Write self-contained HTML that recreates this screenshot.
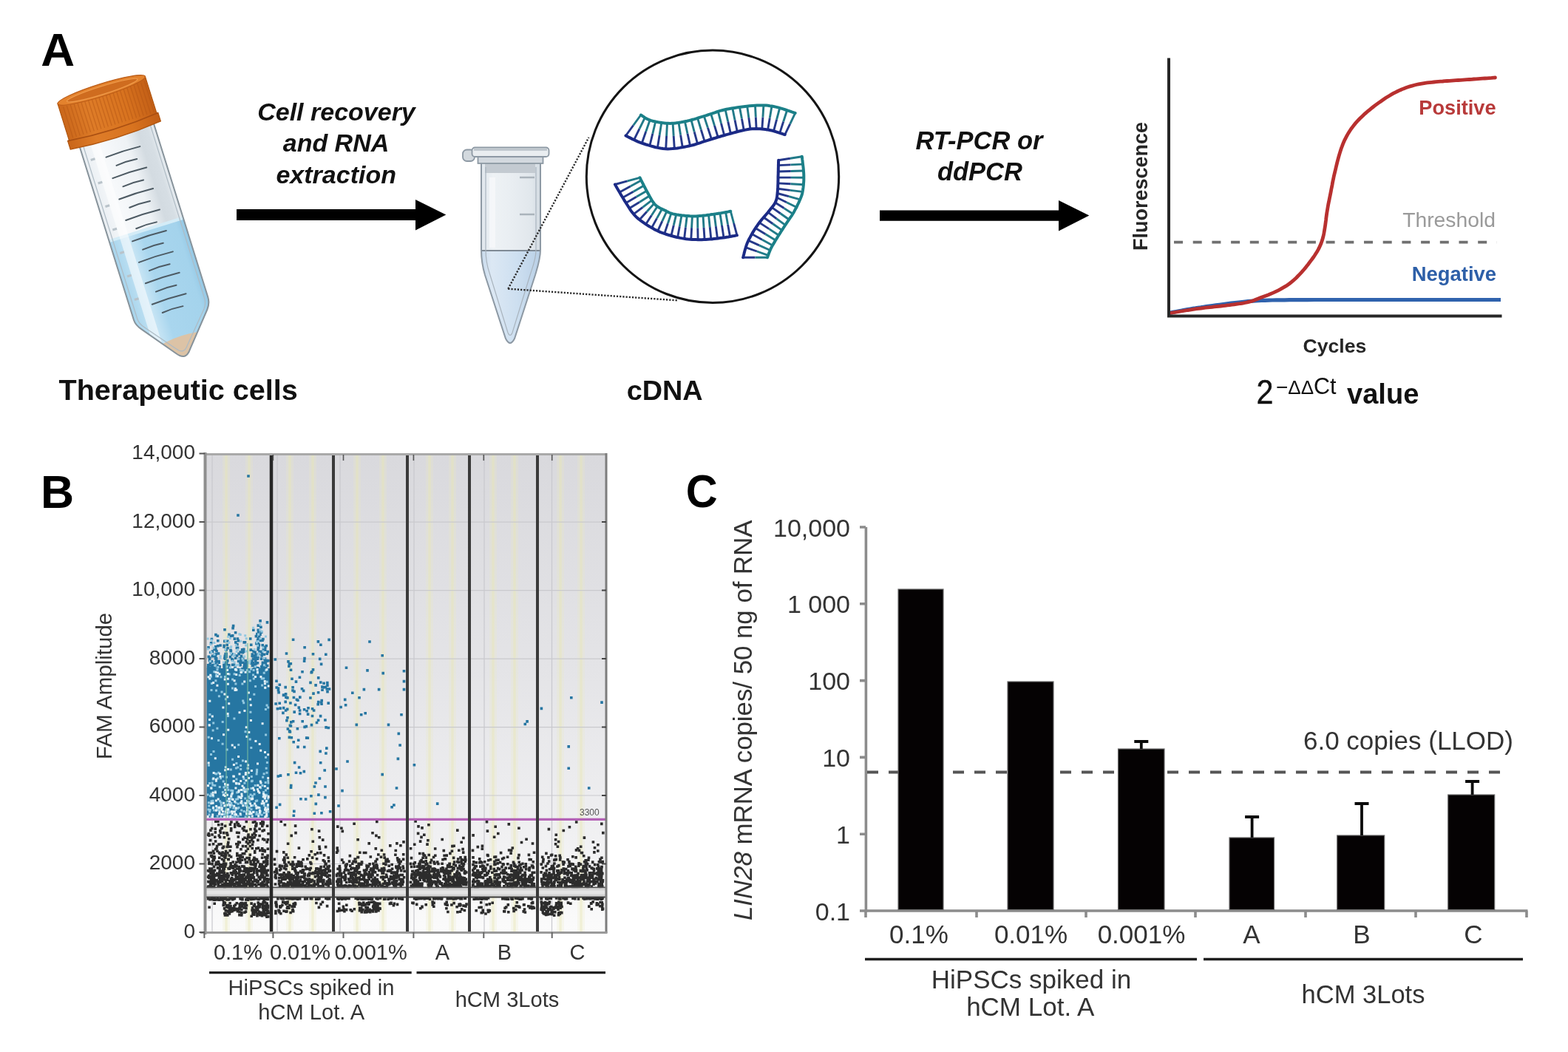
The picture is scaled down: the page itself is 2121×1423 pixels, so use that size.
<!DOCTYPE html>
<html><head><meta charset="utf-8"><title>Figure</title>
<style>html,body{margin:0;padding:0;background:#fff;width:2121px;height:1423px;overflow:hidden}svg{display:block}</style>
</head><body>
<svg width="2121" height="1423" viewBox="0 0 2121 1423">
<rect width="2121" height="1423" fill="#fff"/>
<text x="55.3" y="88.6" font-family="Liberation Sans, Arial, sans-serif" font-weight="bold" font-size="63.5" fill="#000">A</text>
<text font-family="Liberation Sans, Arial, sans-serif" font-weight="bold" font-style="italic" fill="#111" font-size="34" text-anchor="middle"><tspan x="455" y="163">Cell recovery</tspan><tspan x="454.5" y="205">and RNA</tspan><tspan x="454.7" y="247.5">extraction</tspan></text>
<text font-family="Liberation Sans, Arial, sans-serif" font-weight="bold" font-style="italic" fill="#111" font-size="34.5" text-anchor="middle"><tspan x="1324.5" y="202">RT-PCR or</tspan><tspan x="1325.4" y="243.7">ddPCR</tspan></text>
<text font-family="Liberation Sans, Arial, sans-serif" font-weight="bold" fill="#111" font-size="39.6" x="79.5" y="541">Therapeutic cells</text>
<text font-family="Liberation Sans, Arial, sans-serif" font-weight="bold" fill="#111" font-size="37.8" x="847.7" y="541">cDNA</text>
<path d="M320,283 L562,283 L562,270 L603.3,290.5 L562,311.6 L562,298 L320,298 Z" fill="#000"/>
<path d="M1190,284.5 L1432,284.5 L1432,271 L1473.3,291.6 L1432,312.4 L1432,298.8 L1190,298.8 Z" fill="#000"/>
<g transform="translate(156.3,183) rotate(-17.36)">
<defs><clipPath id="fbody"><path d="M-51,-2 L-51,246 C-51,252 -49,256 -44,262 L-10,306 Q0,320 10,306 L48,262 C53,256 54,252 54,246 L54,-2 Z"/></clipPath><linearGradient id="fglass" x1="0" x2="1" y1="0" y2="0"><stop offset="0" stop-color="#e9eef2"/><stop offset="0.25" stop-color="#f7f9fb"/><stop offset="0.6" stop-color="#eef2f5"/><stop offset="0.78" stop-color="#d3dbe1"/><stop offset="0.9" stop-color="#d6dee4"/><stop offset="1" stop-color="#e8edf1"/></linearGradient><linearGradient id="fliq" x1="0" x2="1" y1="0" y2="0"><stop offset="0" stop-color="#9ccfea"/><stop offset="0.3" stop-color="#c6e4f4"/><stop offset="0.45" stop-color="#a9d6ee"/><stop offset="0.85" stop-color="#a4d3ec"/><stop offset="1" stop-color="#8cc3e2"/></linearGradient></defs>
<path d="M-51,-2 L-51,246 C-51,252 -49,256 -44,262 L-10,306 Q0,320 10,306 L48,262 C53,256 54,252 54,246 L54,-2 Z" fill="url(#fglass)"/>
<g clip-path="url(#fbody)">
<rect x="-60" y="134" width="120" height="200" fill="url(#fliq)"/>
<rect x="-60" y="132" width="120" height="4" fill="#d4ecf7"/>
<rect x="-36" y="4" width="12" height="296" fill="#ffffff" opacity="0.55"/>
<path d="M-30,290 Q0,282 32,288 L20,320 L-20,320 Z" fill="#dcc3a6"/>
</g>
<path d="M-21,24.5 Q3,22.8 27,24.3 M-11,39.4 Q3.5,37.7 18,39.2 M-21,54.3 Q3,52.6 27,54.1 M-11,69.2 Q3.5,67.5 18,69 M-21,84.1 Q3,82.4 27,83.9 M-11,99 Q3.5,97.3 18,98.8 M-21,113.9 Q3,112.2 27,113.7 M-11,128.8 Q3.5,127.1 18,128.6 M-21,143.7 Q3,142 27,143.5 M-11,158.6 Q3.5,156.9 18,158.4 M-21,173.5 Q3,171.8 27,173.3 M-11,188.4 Q3.5,186.7 18,188.2 M-21,203.3 Q3,201.6 27,203.1 M-11,218.2 Q3.5,216.5 18,218 M-21,233.1 Q3,231.4 27,232.9 M-11,248 Q3.5,246.3 18,247.8" stroke="#4d5a63" stroke-width="2" fill="none" stroke-linecap="round"/>
<path d="M-42,22 l6,0 M-42,55 l6,0 M-42,88 l6,0 M-42,121 l6,0 M-42,154 l6,0 M-42,187 l6,0 M-42,220 l6,0" stroke="#b9c3ca" stroke-width="3" fill="none"/>
<path d="M-51,-2 L-51,246 C-51,252 -49,256 -44,262 L-10,306 Q0,320 10,306 L48,262 C53,256 54,252 54,246 L54,-2 Z" fill="none" stroke="#87939b" stroke-width="2"/>
<path d="M-46,0 L-46,246 C-46,251 -44,255 -40,260 L-8,300 Q0,311 8,300 L44,260 C48,255 49,251 49,246 L49,0" fill="none" stroke="#aebbc4" stroke-width="1.2"/>
<defs><linearGradient id="capg" x1="0" x2="1" y1="0" y2="0"><stop offset="0" stop-color="#c9661a"/><stop offset="0.3" stop-color="#de7c28"/><stop offset="0.7" stop-color="#d8731f"/><stop offset="1" stop-color="#c25e16"/></linearGradient></defs>
<path d="M-62,-64 L-62,-12 L-64,-12 L-64,0 Q0,7 64,0 L64,-12 L62,-12 L62,-64 Z" fill="url(#capg)" stroke="#b0550f" stroke-width="1.2"/>
<path d="M-56,-58 L-56,-14 M-51,-58 L-51,-14 M-46,-58 L-46,-14 M-41,-58 L-41,-14 M-36,-58 L-36,-14 M-31,-58 L-31,-14 M-26,-58 L-26,-14 M-21,-58 L-21,-14 M-16,-58 L-16,-14 M-11,-58 L-11,-14 M-6,-58 L-6,-14 M-1,-58 L-1,-14 M4,-58 L4,-14 M9,-58 L9,-14 M14,-58 L14,-14 M19,-58 L19,-14 M24,-58 L24,-14 M29,-58 L29,-14 M34,-58 L34,-14 M39,-58 L39,-14 M44,-58 L44,-14 M49,-58 L49,-14 M54,-58 L54,-14 M59,-58 L59,-14" stroke="#b35514" stroke-width="1.3" opacity="0.5"/>
<path d="M-64,-12 Q0,-5 64,-12" stroke="#a94f12" stroke-width="1.6" fill="none"/>
<ellipse cx="0" cy="-64" rx="62" ry="8.5" fill="#e3822d" stroke="#bb5c17" stroke-width="1.2"/>
<ellipse cx="1" cy="-63.5" rx="50" ry="5.5" fill="#cf6c1f" stroke="#ee9a4a" stroke-width="1.3"/>
</g>
<defs><clipPath id="ebody"><path d="M651,220 L651,338 C651,350 653,362 656,372 L684,458 Q690,470 696,458 L724,372 C727,362 731,350 731,338 L731,220 Z"/></clipPath><linearGradient id="eglass" x1="0" x2="1"><stop offset="0" stop-color="#dfe6ec"/><stop offset="0.2" stop-color="#eef2f5"/><stop offset="0.5" stop-color="#e9eef2"/><stop offset="0.85" stop-color="#e1e7ec"/><stop offset="1" stop-color="#d3dbe2"/></linearGradient><linearGradient id="eliq" x1="0" x2="1"><stop offset="0" stop-color="#b8cfe6"/><stop offset="0.25" stop-color="#dce8f4"/><stop offset="0.6" stop-color="#cddff0"/><stop offset="1" stop-color="#b3cbe3"/></linearGradient></defs>
<path d="M651,220 L651,338 C651,350 653,362 656,372 L684,458 Q690,470 696,458 L724,372 C727,362 731,350 731,338 L731,220 Z" fill="url(#eglass)"/>
<g clip-path="url(#ebody)">
<rect x="640" y="339" width="100" height="140" fill="url(#eliq)"/>
<rect x="656" y="221" width="68" height="13" fill="#c3cad1"/>
<rect x="662" y="240" width="8" height="95" fill="#f6f8fa" opacity="0.8"/>
</g>
<path d="M652,339 L730,339" stroke="#7f8a95" stroke-width="2"/>
<path d="M703,240 L723,240 M703,290 L723,290" stroke="#aab3bb" stroke-width="2.5"/>
<path d="M651,220 L651,338 C651,350 653,362 656,372 L684,458 Q690,470 696,458 L724,372 C727,362 731,350 731,338 L731,220 Z" fill="none" stroke="#8d99a4" stroke-width="2"/>
<path d="M657,226 L657,338 C657,350 659,360 662,369 L687,450 Q690,457 693,450 L718,369 C721,360 725,350 725,338 L725,226" fill="none" stroke="#a9b4be" stroke-width="1.2"/>
<rect x="626" y="202.5" width="16" height="15.5" rx="5.5" fill="#d3d9de" stroke="#8d99a4" stroke-width="1.8"/>
<rect x="646.5" y="211" width="88" height="10" fill="#d3d9df" stroke="#8d99a4" stroke-width="1.8"/>
<rect x="638.5" y="199.5" width="104" height="12.5" rx="4" fill="#e9edf0" stroke="#8d99a4" stroke-width="1.8"/><path d="M641,202.5 L740,202.5" stroke="#b9c1c8" stroke-width="2.5"/>
<path d="M687.3,390.7 L796.4,185.9 M687.3,390.7 L917,406.4" stroke="#2b2b2b" stroke-width="2.4" stroke-dasharray="2.2 2" fill="none"/>
<circle cx="964" cy="238.8" r="170.7" fill="#fff" stroke="#141414" stroke-width="3"/>
<path d="M846.5,183.5 L856.7,169.5 M857.6,189.2 L865,174.1 M868.3,193.6 L873.7,178.1 M878.9,197 L882.8,180.8 M889.4,199.7 L892.1,182.9 M900.7,201.3 L901.6,184 M912.3,200.9 L911.2,183.8 M923.3,199.2 L920.6,182.5 M933.6,197.1 L930,180.7 M943.5,194.4 L939.2,178.3 M953.1,191.1 L948.3,175.5 M962.5,188.2 L957.4,172.6 M971.2,185.5 L966.5,169.8 M979.7,183 L975.5,166.9 M988.4,180.6 L984.7,164.4 M997.3,178.2 L994,162.3 M1006.2,176 L1003.4,160.5 M1015,174.6 L1012.8,159.1 M1023.1,174.2 L1022.3,158.4 M1030.8,174.6 L1031.9,158.5 M1038.6,175.6 L1041.3,159.6 M1046.5,177.3 L1050.6,161.7 M1054.8,179.9 L1059.7,164.5 M1061.7,182.2 L1068.7,167.6" stroke="#26398a" stroke-width="2.9" fill="none"/>
<path d="M856.7,169.5 L866.9,155.5 M865,174.1 L872.4,159.1 M873.7,178.1 L879.1,162.5 M882.8,180.8 L886.7,164.5 M892.1,182.9 L894.8,166 M901.6,184 L902.5,166.8 M911.2,183.8 L910.1,166.8 M920.6,182.5 L918,165.9 M930,180.7 L926.4,164.3 M939.2,178.3 L935,162.3 M948.3,175.5 L943.6,159.8 M957.4,172.6 L952.3,157.1 M966.5,169.8 L961.7,154.1 M975.5,166.9 L971.4,150.8 M984.7,164.4 L981.1,148.2 M994,162.3 L990.8,146.3 M1003.4,160.5 L1000.5,144.9 M1012.8,159.1 L1010.7,143.6 M1022.3,158.4 L1021.5,142.7 M1031.9,158.5 L1032.9,142.4 M1041.3,159.6 L1044,143.6 M1050.6,161.7 L1054.7,146.1 M1059.7,164.5 L1064.6,149.2 M1068.7,167.6 L1075.7,152.9" stroke="#217a88" stroke-width="2.9" fill="none"/>
<path d="M846.5,183.5 L847.7,184.1 L849.3,184.9 L851.1,185.9 L853.1,186.9 L855.4,188.1 L857.8,189.2 L860.3,190.4 L862.9,191.6 L865.5,192.6 L868.2,193.6 L871,194.5 L873.9,195.5 L877,196.4 L880.2,197.4 L883.5,198.3 L886.8,199.2 L890.1,199.9 L893.5,200.5 L896.8,201 L900,201.3 L903.2,201.4 L906.5,201.3 L909.7,201.1 L913,200.8 L916.3,200.4 L919.5,199.9 L922.7,199.3 L925.8,198.7 L928.9,198.1 L931.8,197.5 L934.6,196.9 L937.3,196.2 L939.9,195.5 L942.5,194.7 L945,193.9 L947.4,193.1 L949.9,192.2 L952.3,191.4 L954.8,190.6 L957.3,189.8 L959.8,189 L962.3,188.3 L964.7,187.5 L967.2,186.8 L969.6,186 L972.1,185.2 L974.6,184.5 L977.2,183.7 L979.9,183 L982.7,182.2 L985.7,181.4 L988.8,180.5 L992,179.6 L995.3,178.7 L998.7,177.8 L1002,177 L1005.3,176.2 L1008.5,175.6 L1011.6,175 L1014.6,174.6 L1017.4,174.3 L1020.2,174.2 L1022.8,174.1 L1025.4,174.2 L1027.9,174.3 L1030.4,174.5 L1032.9,174.8 L1035.3,175.1 L1037.6,175.4 L1040,175.8 L1042.4,176.3 L1044.9,176.8 L1047.5,177.5 L1050,178.3 L1052.4,179.1 L1054.8,179.9 L1056.9,180.6 L1058.8,181.2 L1060.4,181.8 L1061.7,182.2" stroke="#1b2a86" stroke-width="4" fill="none" stroke-linecap="round"/>
<path d="M866.9,155.5 L867.7,156 L868.6,156.6 L869.7,157.3 L870.9,158.2 L872.3,159.1 L873.8,160 L875.4,160.9 L877.1,161.7 L879,162.5 L880.9,163.1 L883,163.7 L885.3,164.2 L887.7,164.8 L890.3,165.3 L892.9,165.7 L895.7,166.1 L898.4,166.4 L901.1,166.7 L903.8,166.8 L906.4,166.9 L908.9,166.8 L911.5,166.7 L914,166.4 L916.6,166.1 L919.1,165.7 L921.6,165.3 L924.2,164.8 L926.7,164.2 L929.3,163.7 L931.8,163.1 L934.3,162.5 L936.9,161.8 L939.4,161.1 L942,160.3 L944.5,159.5 L947.1,158.7 L949.7,157.9 L952.2,157.1 L954.8,156.3 L957.3,155.5 L959.8,154.7 L962.2,153.9 L964.5,153.1 L966.9,152.3 L969.2,151.5 L971.6,150.7 L974.1,149.9 L976.8,149.2 L979.6,148.5 L982.7,147.8 L986.1,147.2 L989.7,146.5 L993.6,145.9 L997.7,145.3 L1001.8,144.7 L1005.9,144.2 L1010,143.7 L1013.9,143.3 L1017.5,142.9 L1020.9,142.7 L1023.9,142.5 L1026.8,142.4 L1029.4,142.4 L1031.8,142.4 L1034.2,142.5 L1036.5,142.6 L1038.9,142.8 L1041.3,143.2 L1043.8,143.5 L1046.4,144 L1049.3,144.6 L1052.5,145.4 L1055.8,146.4 L1059.3,147.4 L1062.6,148.5 L1065.9,149.6 L1068.9,150.6 L1071.7,151.6 L1073.9,152.3 L1075.7,152.9" stroke="#1b8088" stroke-width="4" fill="none" stroke-linecap="round"/>
<path d="M831.9,249.5 L848.7,244.9 M838.1,260.1 L852.7,252 M842.4,267.3 L856.7,259.2 M846.8,274.5 L860.8,266.3 M851.4,281.8 L864.9,273.4 M857.1,289.7 L869.4,280.3 M865,297.2 L875,286.3 M873.6,303.3 L881.4,291.3 M881.5,308.1 L888.5,295.4 M889.7,312.4 L895.8,299.2 M898.8,316.1 L903.4,302.3 M907.9,318.9 L911.3,304.6 M916.6,321.1 L919.3,306.2 M925.6,322.8 L927.4,307.4 M934.8,323.8 L935.6,308.1 M944.1,324.2 L943.8,308.2 M953.1,324.1 L952,307.9 M961.9,323.5 L960.2,307.1 M970.5,322.5 L968.3,306.1 M979,321.4 L976.5,304.9 M987.5,320 L984.5,303.5 M996.9,318.2 L992.6,302" stroke="#26398a" stroke-width="2.9" fill="none"/>
<path d="M848.7,244.9 L865.5,240.3 M852.7,252 L867.4,244 M856.7,259.2 L871,251.1 M860.8,266.3 L874.7,258.2 M864.9,273.4 L878.4,265 M869.4,280.3 L881.7,270.8 M875,286.3 L884.9,275.3 M881.4,291.3 L889.2,279.3 M888.5,295.4 L895.5,282.8 M895.8,299.2 L901.9,285.9 M903.4,302.3 L907.9,288.6 M911.3,304.6 L914.7,290.2 M919.3,306.2 L922,291.3 M927.4,307.4 L929.3,292 M935.6,308.1 L936.4,292.4 M943.8,308.2 L943.6,292.3 M952,307.9 L951,291.6 M960.2,307.1 L958.5,290.7 M968.3,306.1 L966.2,289.7 M976.5,304.9 L973.9,288.4 M984.5,303.5 L981.6,287.1 M992.6,302 L988.3,285.8" stroke="#217a88" stroke-width="2.9" fill="none"/>
<path d="M831.9,249.5 L832.8,251 L833.9,252.9 L835.2,255.2 L836.7,257.8 L838.3,260.5 L840,263.4 L841.7,266.2 L843.4,269 L844.9,271.6 L846.4,273.9 L847.7,276 L849,278 L850.2,280 L851.5,281.9 L852.7,283.8 L853.9,285.6 L855.2,287.3 L856.6,289.1 L858,290.7 L859.6,292.4 L861.3,294 L863.1,295.6 L865.1,297.2 L867,298.7 L869.1,300.2 L871.2,301.7 L873.3,303.1 L875.3,304.4 L877.4,305.7 L879.4,306.9 L881.4,308.1 L883.3,309.1 L885.1,310.2 L887,311.1 L888.9,312 L890.8,312.9 L892.8,313.8 L894.8,314.6 L897,315.4 L899.2,316.2 L901.6,317 L904.1,317.8 L906.6,318.5 L909.3,319.3 L912,320 L914.7,320.7 L917.5,321.3 L920.2,321.9 L922.9,322.4 L925.6,322.8 L928.2,323.2 L930.9,323.5 L933.5,323.7 L936.2,323.9 L938.8,324 L941.4,324.1 L944.1,324.2 L946.7,324.2 L949.4,324.2 L952,324.1 L954.7,324 L957.4,323.8 L960.2,323.6 L962.9,323.4 L965.7,323.1 L968.4,322.8 L971.1,322.5 L973.6,322.1 L976.1,321.8 L978.4,321.5 L980.7,321.2 L982.9,320.8 L985.1,320.5 L987.3,320.1 L989.3,319.7 L991.2,319.3 L993,319 L994.5,318.7 L995.8,318.4 L996.9,318.2" stroke="#1b2a86" stroke-width="4" fill="none" stroke-linecap="round"/>
<path d="M865.5,240.3 L866.1,241.4 L866.8,242.9 L867.7,244.7 L868.7,246.7 L869.8,248.8 L870.9,251 L872.1,253.2 L873.2,255.4 L874.3,257.5 L875.4,259.4 L876.4,261.2 L877.4,263.1 L878.4,265 L879.5,266.9 L880.5,268.7 L881.5,270.5 L882.6,272.2 L883.7,273.8 L884.8,275.3 L886,276.6 L887.2,277.8 L888.5,278.8 L889.8,279.7 L891.1,280.6 L892.4,281.3 L893.8,282 L895.2,282.6 L896.5,283.2 L897.9,283.9 L899.2,284.5 L900.5,285.1 L901.6,285.8 L902.7,286.4 L903.8,286.9 L905,287.5 L906.2,288 L907.5,288.5 L908.9,289 L910.5,289.4 L912.4,289.8 L914.5,290.2 L916.8,290.6 L919.3,290.9 L922,291.3 L924.8,291.6 L927.6,291.9 L930.5,292.1 L933.3,292.3 L936.1,292.4 L938.8,292.4 L941.5,292.4 L944.1,292.2 L946.8,292 L949.5,291.8 L952.2,291.5 L954.9,291.2 L957.5,290.8 L960.1,290.5 L962.7,290.1 L965.2,289.8 L967.7,289.4 L970.4,289 L973.1,288.6 L975.8,288.1 L978.4,287.6 L980.9,287.2 L983.2,286.8 L985.2,286.4 L986.9,286 L988.3,285.8" stroke="#1b8088" stroke-width="4" fill="none" stroke-linecap="round"/>
<path d="M1053.1,216.8 L1068.9,214.2 M1052.9,223.6 L1069.5,222.9 M1052.7,232 L1069.8,231.5 M1052.5,240.1 L1069.9,240.1 M1052.4,247.9 L1069.6,248.8 M1052.1,255.3 L1068.8,257.4 M1051.6,261.5 L1066.9,265.7 M1050.9,267.2 L1064.1,273.7 M1048.6,274.1 L1060.5,281.6 M1044.1,280.6 L1055.7,288.8 M1038.9,287.1 L1050.5,295.8 M1033,294 L1045.4,302.7 M1027.2,301.1 L1040.3,309.6 M1021.9,308.6 L1035.5,316.8 M1017,316.6 L1031,324.2 M1012.4,325.3 L1027,331.9 M1008.7,334.7 L1023.9,340 M1005.1,348.3 L1021.5,348.3" stroke="#26398a" stroke-width="2.9" fill="none"/>
<path d="M1068.9,214.2 L1084.8,211.7 M1069.5,222.9 L1086,222.1 M1069.8,231.5 L1086.9,231 M1069.9,240.1 L1087.3,240.2 M1069.6,248.8 L1086.9,249.7 M1068.8,257.4 L1085.6,259.4 M1066.9,265.7 L1082.2,269.9 M1064.1,273.7 L1077.3,280.3 M1060.5,281.6 L1072.4,289.2 M1055.7,288.8 L1067.3,297 M1050.5,295.8 L1062.2,304.4 M1045.4,302.7 L1057.7,311.4 M1040.3,309.6 L1053.4,318.2 M1035.5,316.8 L1049.1,325.1 M1031,324.2 L1045.1,331.9 M1027,331.9 L1041.7,338.5 M1023.9,340 L1039.1,345.3 M1021.5,348.3 L1038,348.3" stroke="#217a88" stroke-width="2.9" fill="none"/>
<path d="M1053.1,216.8 L1053.1,218 L1053,219.5 L1053,221.4 L1052.9,223.4 L1052.9,225.6 L1052.8,227.9 L1052.8,230.3 L1052.7,232.6 L1052.7,234.9 L1052.6,237 L1052.5,239 L1052.5,241.1 L1052.5,243.2 L1052.4,245.4 L1052.4,247.5 L1052.3,249.5 L1052.2,251.6 L1052.2,253.6 L1052,255.5 L1051.9,257.3 L1051.8,259 L1051.6,260.7 L1051.5,262.3 L1051.3,263.8 L1051.2,265.3 L1050.9,266.8 L1050.7,268.2 L1050.3,269.6 L1049.9,271 L1049.4,272.4 L1048.8,273.8 L1048.1,275.1 L1047.3,276.3 L1046.5,277.5 L1045.6,278.7 L1044.6,280 L1043.7,281.2 L1042.6,282.4 L1041.6,283.7 L1040.5,285.1 L1039.4,286.5 L1038.2,288 L1036.9,289.5 L1035.6,291 L1034.2,292.6 L1032.9,294.1 L1031.5,295.7 L1030.2,297.2 L1029,298.8 L1027.8,300.3 L1026.7,301.8 L1025.6,303.3 L1024.5,304.8 L1023.5,306.3 L1022.4,307.8 L1021.4,309.4 L1020.5,310.9 L1019.5,312.4 L1018.6,313.9 L1017.7,315.4 L1016.8,316.9 L1016,318.4 L1015.2,319.9 L1014.4,321.4 L1013.6,322.8 L1012.8,324.3 L1012.1,325.9 L1011.4,327.4 L1010.7,329 L1010.1,330.6 L1009.5,332.3 L1008.9,334.3 L1008.3,336.3 L1007.7,338.3 L1007.1,340.4 L1006.6,342.4 L1006.2,344.2 L1005.7,345.9 L1005.4,347.2 L1005.1,348.3" stroke="#1b2a86" stroke-width="4" fill="none" stroke-linecap="round"/>
<path d="M1084.8,211.7 L1085,213.2 L1085.2,215.2 L1085.5,217.6 L1085.8,220.2 L1086.1,223.1 L1086.5,226 L1086.8,229 L1087,231.9 L1087.2,234.6 L1087.3,237 L1087.3,239.3 L1087.3,241.5 L1087.3,243.7 L1087.2,245.8 L1087,247.9 L1086.9,250 L1086.7,251.9 L1086.5,253.8 L1086.2,255.6 L1086,257.3 L1085.7,258.8 L1085.5,260.2 L1085.2,261.5 L1084.9,262.6 L1084.6,263.8 L1084.2,264.9 L1083.8,266 L1083.3,267.2 L1082.8,268.5 L1082.2,269.9 L1081.5,271.5 L1080.8,273.2 L1080,274.9 L1079.1,276.7 L1078.2,278.6 L1077.3,280.5 L1076.3,282.3 L1075.3,284.1 L1074.4,285.9 L1073.4,287.6 L1072.4,289.2 L1071.5,290.8 L1070.5,292.3 L1069.5,293.7 L1068.5,295.2 L1067.5,296.7 L1066.5,298.1 L1065.4,299.6 L1064.4,301.2 L1063.3,302.8 L1062.2,304.5 L1061.1,306.2 L1059.9,308 L1058.7,309.8 L1057.5,311.6 L1056.3,313.5 L1055.2,315.3 L1054,317.1 L1052.9,318.8 L1051.9,320.5 L1050.9,322.1 L1049.9,323.7 L1048.9,325.3 L1048,326.9 L1047.1,328.4 L1046.2,329.9 L1045.3,331.4 L1044.5,332.9 L1043.7,334.3 L1043,335.7 L1042.3,337.1 L1041.7,338.6 L1041.1,340.1 L1040.5,341.5 L1039.9,342.9 L1039.5,344.3 L1039,345.5 L1038.6,346.6 L1038.3,347.6 L1038,348.3" stroke="#1b8088" stroke-width="4" fill="none" stroke-linecap="round"/>
<path d="M1584,327.7 L2025,327.7" stroke="#707070" stroke-width="3.7" stroke-dasharray="12 13.7" stroke-dashoffset="-4"/>
<path d="M1583,423 L1585.1,422.6 L1587.8,422.1 L1591,421.5 L1594.6,420.8 L1598.5,420.1 L1602.4,419.3 L1606.3,418.6 L1610,418 L1613.5,417.4 L1617.1,416.9 L1620.6,416.3 L1624.2,415.8 L1627.9,415.2 L1631.7,414.6 L1635.8,414.1 L1640,413.5 L1644.6,412.9 L1649.5,412.2 L1654.7,411.5 L1659.9,410.9 L1665.2,410.2 L1670.4,409.6 L1675.4,409 L1680,408.5 L1684.2,408.1 L1688,407.7 L1691.5,407.4 L1694.9,407.1 L1698.5,406.9 L1702.2,406.7 L1706.3,406.5 L1711,406.3 L1716,406.1 L1721,406 L1726.3,405.9 L1731.8,405.8 L1737.8,405.8 L1744.4,405.7 L1751.8,405.6 L1760,405.6 L1768.7,405.6 L1777.5,405.5 L1786.8,405.5 L1796.8,405.5 L1807.9,405.5 L1820.2,405.5 L1834.2,405.5 L1850,405.5 L1869.4,405.5 L1892.9,405.5 L1918.8,405.5 L1945.6,405.5 L1971.7,405.5 L1995.5,405.5 L2015.5,405.5 L2030,405.5" stroke="#2f62ad" stroke-width="5.2" fill="none"/>
<path d="M1583,423.5 L1586,423 L1588.9,422.5 L1591.9,422 L1594.9,421.5 L1597.8,421 L1600.8,420.5 L1603.7,420 L1606.7,419.5 L1609.7,419.1 L1612.6,418.6 L1615.6,418.2 L1618.6,417.7 L1621.6,417.3 L1624.6,417 L1627.5,416.6 L1630.5,416.2 L1633.5,415.9 L1636.5,415.6 L1639.5,415.3 L1642.5,414.9 L1645.5,414.6 L1648.5,414.3 L1651.4,414 L1654.4,413.6 L1657.4,413.3 L1660.4,412.9 L1663.4,412.6 L1666.4,412.2 L1669.3,411.8 L1672.3,411.4 L1675.3,411 L1678.3,410.5 L1681.2,410.1 L1684.2,409.5 L1687.1,408.9 L1690,408.2 L1692.9,407.4 L1695.7,406.4 L1698.5,405.3 L1701.3,404.2 L1704.1,403.1 L1706.9,402 L1709.7,400.9 L1712.5,399.9 L1715.3,398.9 L1718.1,397.8 L1720.9,396.6 L1723.6,395.4 L1726.3,394.1 L1729,392.8 L1731.7,391.4 L1734.3,389.9 L1736.9,388.4 L1739.5,386.9 L1742,385.2 L1744.4,383.5 L1746.8,381.6 L1749.1,379.7 L1751.3,377.7 L1753.5,375.7 L1755.6,373.5 L1757.7,371.4 L1759.8,369.2 L1761.8,366.9 L1763.7,364.7 L1765.7,362.4 L1767.5,360 L1769.4,357.7 L1771.2,355.3 L1773,352.9 L1774.8,350.5 L1776.6,348 L1778.3,345.5 L1779.9,343 L1781.5,340.5 L1783,337.9 L1784.4,335.2 L1785.6,332.5 L1786.8,329.8 L1787.8,327 L1788.8,324.1 L1789.6,321.2 L1790.3,318.3 L1790.9,315.4 L1791.4,312.4 L1791.9,309.4 L1792.4,306.5 L1792.8,303.5 L1793.2,300.5 L1793.6,297.5 L1793.9,294.6 L1794.3,291.6 L1794.7,288.6 L1795.2,285.6 L1795.7,282.7 L1796.2,279.7 L1796.7,276.8 L1797.3,273.8 L1797.9,270.9 L1798.5,267.9 L1799.1,265 L1799.7,262 L1800.3,259.1 L1800.8,256.1 L1801.4,253.2 L1802,250.2 L1802.5,247.3 L1803.1,244.3 L1803.7,241.4 L1804.3,238.4 L1805,235.5 L1805.7,232.6 L1806.4,229.7 L1807.1,226.7 L1807.8,223.8 L1808.5,220.9 L1809.2,218 L1810,215.1 L1810.8,212.2 L1811.6,209.3 L1812.5,206.4 L1813.4,203.5 L1814.3,200.7 L1815.4,197.9 L1816.4,195.1 L1817.6,192.3 L1818.8,189.6 L1820.2,186.9 L1821.6,184.2 L1823,181.6 L1824.6,179 L1826.2,176.5 L1827.9,174 L1829.7,171.6 L1831.5,169.3 L1833.4,166.9 L1835.4,164.7 L1837.4,162.5 L1839.5,160.3 L1841.7,158.2 L1843.8,156.2 L1846,154.1 L1848.3,152.1 L1850.6,150.2 L1852.9,148.3 L1855.2,146.4 L1857.6,144.5 L1860,142.7 L1862.4,140.9 L1864.8,139.1 L1867.3,137.4 L1869.7,135.7 L1872.2,134 L1874.7,132.3 L1877.3,130.7 L1879.8,129.2 L1882.4,127.7 L1885,126.2 L1887.7,124.8 L1890.4,123.5 L1893.1,122.2 L1895.9,121 L1898.6,119.9 L1901.5,118.8 L1904.3,117.8 L1907.1,116.9 L1910,116.1 L1912.9,115.3 L1915.8,114.5 L1918.8,113.9 L1921.7,113.3 L1924.7,112.8 L1927.6,112.3 L1930.6,111.9 L1933.6,111.6 L1936.6,111.3 L1939.6,111 L1942.6,110.7 L1945.6,110.4 L1948.6,110.2 L1951.5,110 L1954.5,109.7 L1957.5,109.5 L1960.5,109.3 L1963.5,109.1 L1966.5,108.9 L1969.5,108.7 L1972.5,108.5 L1975.5,108.3 L1978.5,108.1 L1981.5,107.9 L1984.5,107.7 L1987.5,107.5 L1990.5,107.3 L1993.5,107 L1996.5,106.8 L1999.5,106.6 L2002.5,106.4 L2005.5,106.2 L2008.5,106 L2011.5,105.8 L2014.5,105.6 L2017.5,105.4 L2020.5,105.1 L2022.5,105" stroke="#b8302f" stroke-width="4.8" fill="none" stroke-linecap="round"/>
<path d="M1581,78.6 L1581,429.6 M1579,427.6 L2031.5,427.6" stroke="#262626" stroke-width="4" fill="none"/>
<text font-family="Liberation Sans, Arial, sans-serif" font-weight="bold" font-size="27" fill="#262626" text-anchor="middle" transform="translate(1552,252) rotate(-90)">Fluorescence</text>
<text font-family="Liberation Sans, Arial, sans-serif" font-weight="bold" font-size="27.2" fill="#b83a3a" text-anchor="end" x="2023.6" y="155">Positive</text>
<text font-family="Liberation Sans, Arial, sans-serif" font-weight="bold" font-size="27.4" fill="#2d5fa8" text-anchor="end" x="2024" y="379.6">Negative</text>
<text font-family="Liberation Sans, Arial, sans-serif" font-size="28.3" fill="#9a9a9a" text-anchor="end" x="2023" y="307">Threshold</text>
<text font-family="Liberation Sans, Arial, sans-serif" font-weight="bold" font-size="26.6" fill="#262626" x="1762.5" y="477">Cycles</text>
<text font-family="Liberation Sans, Arial, sans-serif" font-size="46" fill="#111" stroke="#111" stroke-width="0.45" x="1699.5" y="546" textLength="23" lengthAdjust="spacingAndGlyphs">2</text>
<text font-family="Liberation Sans, Arial, sans-serif" fill="#111" x="1726" y="533"><tspan font-size="28">−</tspan><tspan font-size="26">ΔΔ</tspan><tspan font-size="30.5">Ct</tspan></text>
<text font-family="Liberation Sans, Arial, sans-serif" font-weight="bold" font-size="38.1" fill="#111" x="1822" y="546.2">value</text>
<text font-family="Liberation Sans, Arial, sans-serif" font-weight="bold" font-size="62.5" fill="#000" x="55" y="687.2">B</text>
<defs><linearGradient id="bbg" x1="0" x2="0" y1="0" y2="1"><stop offset="0" stop-color="#d9d9dd"/><stop offset="0.45" stop-color="#e4e4e7"/><stop offset="0.75" stop-color="#eeeef0"/><stop offset="1" stop-color="#fbfbfb"/></linearGradient></defs>
<rect x="277" y="614" width="543" height="647" fill="url(#bbg)"/>
<path d="M306,616 L306,1260 M337,616 L337,1260 M392,616 L392,1260 M423,616 L423,1260 M483,616 L483,1260 M518,616 L518,1260 M581,616 L581,1260 M612,616 L612,1260 M667,616 L667,1260 M696,616 L696,1260 M758,616 L758,1260 M786,616 L786,1260" stroke="#ecebc0" stroke-width="10" opacity="0.22"/>
<path d="M306,616 L306,1260 M337,616 L337,1260 M392,616 L392,1260 M423,616 L423,1260 M483,616 L483,1260 M518,616 L518,1260 M581,616 L581,1260 M612,616 L612,1260 M667,616 L667,1260 M696,616 L696,1260 M758,616 L758,1260 M786,616 L786,1260" stroke="#e9e7b4" stroke-width="3.5" opacity="0.4"/>
<path d="M287,616 L287,1260 M375,616 L375,1260 M460,616 L460,1260 M560,616 L560,1260 M655,616 L655,1260 M746.5,616 L746.5,1260" stroke="#c8c8ce" stroke-width="1.2"/>
<path d="M277,1168.5 L820,1168.5 M277,1076 L820,1076 M277,983.6 L820,983.6 M277,891.1 L820,891.1 M277,798.6 L820,798.6 M277,706.1 L820,706.1" stroke="#c9c9cd" stroke-width="1.1"/>
<rect x="279.5" y="904" width="85.5" height="202" fill="#2676a2"/>
<path d="M290.1 856.8h3.6v3.6h-3.6zM292.6 858.5h3.6v3.6h-3.6zM284.6 862.7h3.6v3.6h-3.6zM293 864.9h3.6v3.6h-3.6zM283.8 867.9h3.6v3.6h-3.6zM296.3 871.2h3.6v3.6h-3.6zM292.9 872h3.6v3.6h-3.6zM289.9 873.1h3.6v3.6h-3.6zM280.2 874h3.6v3.6h-3.6zM290.1 877h3.6v3.6h-3.6zM288.2 876.5h3.6v3.6h-3.6zM291.2 879h3.6v3.6h-3.6zM282.9 880.7h3.6v3.6h-3.6zM285.7 879.3h3.6v3.6h-3.6zM288.1 883.5h3.6v3.6h-3.6zM293.8 882.2h3.6v3.6h-3.6zM290.3 883.1h3.6v3.6h-3.6zM285.6 885.6h3.6v3.6h-3.6zM289.6 885.3h3.6v3.6h-3.6zM280.5 886.6h3.6v3.6h-3.6zM286.1 885.8h3.6v3.6h-3.6zM289.7 888.9h3.6v3.6h-3.6zM290.3 888.5h3.6v3.6h-3.6zM290.9 888.8h3.6v3.6h-3.6zM282 888.2h3.6v3.6h-3.6zM290.9 892.7h3.6v3.6h-3.6zM284.6 892.9h3.6v3.6h-3.6zM294.3 892.8h3.6v3.6h-3.6zM290.7 892.1h3.6v3.6h-3.6zM281.7 891.3h3.6v3.6h-3.6zM288.8 894.8h3.6v3.6h-3.6zM282.6 894.8h3.6v3.6h-3.6zM294.4 894.5h3.6v3.6h-3.6zM290.3 894.1h3.6v3.6h-3.6zM289.1 895.8h3.6v3.6h-3.6zM284.9 898.9h3.6v3.6h-3.6zM292.2 898.3h3.6v3.6h-3.6zM279.9 897.9h3.6v3.6h-3.6zM285.8 898h3.6v3.6h-3.6zM280 898.7h3.6v3.6h-3.6zM281.6 897.7h3.6v3.6h-3.6zM285.5 901.5h3.6v3.6h-3.6zM288.3 901.6h3.6v3.6h-3.6zM292.4 900.3h3.6v3.6h-3.6zM294.9 900.8h3.6v3.6h-3.6zM282.1 901.6h3.6v3.6h-3.6zM295.3 900h3.6v3.6h-3.6zM279.6 901.3h3.6v3.6h-3.6zM291.8 903.7h3.6v3.6h-3.6zM283.3 903.5h3.6v3.6h-3.6zM282.9 904.9h3.6v3.6h-3.6zM285.6 903.9h3.6v3.6h-3.6zM282.5 905h3.6v3.6h-3.6zM285.3 904h3.6v3.6h-3.6zM295.5 904h3.6v3.6h-3.6zM289.2 904.8h3.6v3.6h-3.6zM313.8 844.8h3.6v3.6h-3.6zM313.3 847.8h3.6v3.6h-3.6zM302.2 849.9h3.6v3.6h-3.6zM316.8 853.9h3.6v3.6h-3.6zM308.1 856.6h3.6v3.6h-3.6zM310.8 858.4h3.6v3.6h-3.6zM312.9 858.1h3.6v3.6h-3.6zM319.6 862.2h3.6v3.6h-3.6zM315.5 862.3h3.6v3.6h-3.6zM320.6 864.8h3.6v3.6h-3.6zM306 865.5h3.6v3.6h-3.6zM302 865.6h3.6v3.6h-3.6zM328.4 867.1h3.6v3.6h-3.6zM317 867.1h3.6v3.6h-3.6zM329.7 867h3.6v3.6h-3.6zM301.3 871.4h3.6v3.6h-3.6zM319.1 870h3.6v3.6h-3.6zM305.4 870.6h3.6v3.6h-3.6zM319.8 874.6h3.6v3.6h-3.6zM306.2 874.9h3.6v3.6h-3.6zM318.6 874.7h3.6v3.6h-3.6zM301.3 873.1h3.6v3.6h-3.6zM325.8 877.5h3.6v3.6h-3.6zM310.2 877.8h3.6v3.6h-3.6zM328 876.4h3.6v3.6h-3.6zM325.8 877.1h3.6v3.6h-3.6zM304.2 877.3h3.6v3.6h-3.6zM326.7 880.8h3.6v3.6h-3.6zM326 879.3h3.6v3.6h-3.6zM310.6 879.1h3.6v3.6h-3.6zM323.4 880.3h3.6v3.6h-3.6zM328.1 879.4h3.6v3.6h-3.6zM314.8 883.7h3.6v3.6h-3.6zM321.3 882.8h3.6v3.6h-3.6zM303.3 882.7h3.6v3.6h-3.6zM312.3 883.1h3.6v3.6h-3.6zM304.3 882.4h3.6v3.6h-3.6zM321.5 882.5h3.6v3.6h-3.6zM318.8 885.2h3.6v3.6h-3.6zM309.7 886.8h3.6v3.6h-3.6zM302.5 885.5h3.6v3.6h-3.6zM324.7 885.6h3.6v3.6h-3.6zM304.2 886.7h3.6v3.6h-3.6zM304.3 886.2h3.6v3.6h-3.6zM304.2 885.4h3.6v3.6h-3.6zM303.1 889.5h3.6v3.6h-3.6zM323.6 888.4h3.6v3.6h-3.6zM325.2 888.5h3.6v3.6h-3.6zM326.8 889.1h3.6v3.6h-3.6zM321.8 889.5h3.6v3.6h-3.6zM312 889.8h3.6v3.6h-3.6zM302.1 888.3h3.6v3.6h-3.6zM316.8 888.4h3.6v3.6h-3.6zM330.4 891.9h3.6v3.6h-3.6zM327.3 891.8h3.6v3.6h-3.6zM325.2 891.8h3.6v3.6h-3.6zM312.8 891.1h3.6v3.6h-3.6zM320.8 892.7h3.6v3.6h-3.6zM306 892.1h3.6v3.6h-3.6zM324.6 891.8h3.6v3.6h-3.6zM324.5 892.1h3.6v3.6h-3.6zM323.4 892.4h3.6v3.6h-3.6zM304.5 894.2h3.6v3.6h-3.6zM324.6 894.4h3.6v3.6h-3.6zM332.2 895.1h3.6v3.6h-3.6zM304.8 894.9h3.6v3.6h-3.6zM323.1 895.5h3.6v3.6h-3.6zM326.7 894.4h3.6v3.6h-3.6zM329.8 895.8h3.6v3.6h-3.6zM304 894.4h3.6v3.6h-3.6zM303 895.5h3.6v3.6h-3.6zM332 894.1h3.6v3.6h-3.6zM323.3 898h3.6v3.6h-3.6zM314.7 897.2h3.6v3.6h-3.6zM301.8 897.4h3.6v3.6h-3.6zM332.2 898.7h3.6v3.6h-3.6zM328.8 898h3.6v3.6h-3.6zM329.7 897.4h3.6v3.6h-3.6zM308 898.3h3.6v3.6h-3.6zM312.8 897.5h3.6v3.6h-3.6zM307.4 898.1h3.6v3.6h-3.6zM304 897.6h3.6v3.6h-3.6zM301.1 898h3.6v3.6h-3.6zM328.3 900.6h3.6v3.6h-3.6zM305.8 901.2h3.6v3.6h-3.6zM304.4 900.1h3.6v3.6h-3.6zM303.7 900.5h3.6v3.6h-3.6zM331.7 900.9h3.6v3.6h-3.6zM330.5 901.8h3.6v3.6h-3.6zM307.5 901.5h3.6v3.6h-3.6zM331.4 901.7h3.6v3.6h-3.6zM306.7 901.5h3.6v3.6h-3.6zM316.4 901.4h3.6v3.6h-3.6zM316.1 901.7h3.6v3.6h-3.6zM329.6 901.4h3.6v3.6h-3.6zM301.3 901.5h3.6v3.6h-3.6zM329.8 903.9h3.6v3.6h-3.6zM319.3 903.8h3.6v3.6h-3.6zM310.7 904.4h3.6v3.6h-3.6zM330.3 904.7h3.6v3.6h-3.6zM305 903.7h3.6v3.6h-3.6zM316.7 904.3h3.6v3.6h-3.6zM303 903.4h3.6v3.6h-3.6zM331.3 904.1h3.6v3.6h-3.6zM318.6 904.5h3.6v3.6h-3.6zM326 903.1h3.6v3.6h-3.6zM309.1 904.5h3.6v3.6h-3.6zM326 903h3.6v3.6h-3.6zM322.8 904.9h3.6v3.6h-3.6zM320.9 903.9h3.6v3.6h-3.6zM330.8 903.8h3.6v3.6h-3.6zM350.3 838.1h3.6v3.6h-3.6zM359.7 840.1h3.6v3.6h-3.6zM347.5 844.3h3.6v3.6h-3.6zM351.1 846.4h3.6v3.6h-3.6zM341 850.5h3.6v3.6h-3.6zM347.5 850.4h3.6v3.6h-3.6zM347.8 853.6h3.6v3.6h-3.6zM351.8 853.4h3.6v3.6h-3.6zM350.2 856.5h3.6v3.6h-3.6zM346.1 855.8h3.6v3.6h-3.6zM348.8 859.7h3.6v3.6h-3.6zM344.6 858.8h3.6v3.6h-3.6zM347.4 861.8h3.6v3.6h-3.6zM354.1 862.7h3.6v3.6h-3.6zM336.9 862.2h3.6v3.6h-3.6zM353.2 864.4h3.6v3.6h-3.6zM350.8 864.6h3.6v3.6h-3.6zM346.7 864.6h3.6v3.6h-3.6zM345 868.2h3.6v3.6h-3.6zM347.4 868.9h3.6v3.6h-3.6zM345.4 868.8h3.6v3.6h-3.6zM358.5 871.7h3.6v3.6h-3.6zM348.5 870.6h3.6v3.6h-3.6zM353.4 871h3.6v3.6h-3.6zM337.9 870.4h3.6v3.6h-3.6zM357 873.7h3.6v3.6h-3.6zM348 874.1h3.6v3.6h-3.6zM355.5 873.4h3.6v3.6h-3.6zM347.6 873.6h3.6v3.6h-3.6zM337.4 877.4h3.6v3.6h-3.6zM354.6 876.5h3.6v3.6h-3.6zM356.8 877.3h3.6v3.6h-3.6zM347.3 876.8h3.6v3.6h-3.6zM337.6 877.3h3.6v3.6h-3.6zM349.3 879.6h3.6v3.6h-3.6zM352 879.5h3.6v3.6h-3.6zM341.2 879.1h3.6v3.6h-3.6zM360.4 879.8h3.6v3.6h-3.6zM343.3 880.5h3.6v3.6h-3.6zM339.5 883.2h3.6v3.6h-3.6zM344.2 883.5h3.6v3.6h-3.6zM355.5 883.5h3.6v3.6h-3.6zM348.4 882.7h3.6v3.6h-3.6zM359.4 882.5h3.6v3.6h-3.6zM352.7 882.9h3.6v3.6h-3.6zM347.2 886.9h3.6v3.6h-3.6zM352.3 885.1h3.6v3.6h-3.6zM339.4 885.4h3.6v3.6h-3.6zM339.5 885.3h3.6v3.6h-3.6zM340.4 885.9h3.6v3.6h-3.6zM343.2 885h3.6v3.6h-3.6zM342.8 888.3h3.6v3.6h-3.6zM356.1 889.8h3.6v3.6h-3.6zM340.7 889.8h3.6v3.6h-3.6zM351.7 889.3h3.6v3.6h-3.6zM346.3 888.1h3.6v3.6h-3.6zM346.6 889.3h3.6v3.6h-3.6zM356.7 889.2h3.6v3.6h-3.6zM360.2 892.2h3.6v3.6h-3.6zM358.5 892.3h3.6v3.6h-3.6zM338.9 892.4h3.6v3.6h-3.6zM344 892.1h3.6v3.6h-3.6zM336.8 892.9h3.6v3.6h-3.6zM357.1 892.2h3.6v3.6h-3.6zM359.2 891.7h3.6v3.6h-3.6zM361.1 892h3.6v3.6h-3.6zM353.6 894.6h3.6v3.6h-3.6zM346.7 894.9h3.6v3.6h-3.6zM357.6 895.9h3.6v3.6h-3.6zM355.2 894.6h3.6v3.6h-3.6zM344.6 895.8h3.6v3.6h-3.6zM338 895.4h3.6v3.6h-3.6zM339.4 895.7h3.6v3.6h-3.6zM340.7 894.8h3.6v3.6h-3.6zM342.2 897.3h3.6v3.6h-3.6zM339.6 898.6h3.6v3.6h-3.6zM356.3 897.2h3.6v3.6h-3.6zM353.4 898h3.6v3.6h-3.6zM341.4 897.1h3.6v3.6h-3.6zM342.8 898.1h3.6v3.6h-3.6zM359.9 898.7h3.6v3.6h-3.6zM342.8 897.2h3.6v3.6h-3.6zM353.8 897.5h3.6v3.6h-3.6zM343.9 900.8h3.6v3.6h-3.6zM352 900.1h3.6v3.6h-3.6zM347.5 901.9h3.6v3.6h-3.6zM357.9 901.4h3.6v3.6h-3.6zM343.4 900.4h3.6v3.6h-3.6zM355.2 901.5h3.6v3.6h-3.6zM352.1 900.6h3.6v3.6h-3.6zM354.8 900.9h3.6v3.6h-3.6zM345.6 901.7h3.6v3.6h-3.6zM354.4 900.9h3.6v3.6h-3.6zM353.7 900.6h3.6v3.6h-3.6zM341.6 903.2h3.6v3.6h-3.6zM342.9 904.8h3.6v3.6h-3.6zM340.4 903.9h3.6v3.6h-3.6zM337.6 904.6h3.6v3.6h-3.6zM347.8 903.1h3.6v3.6h-3.6zM341.4 904.2h3.6v3.6h-3.6zM354.8 904.7h3.6v3.6h-3.6zM359.4 904.7h3.6v3.6h-3.6zM342.9 903h3.6v3.6h-3.6zM350.5 904h3.6v3.6h-3.6zM348.9 903.7h3.6v3.6h-3.6zM337.9 904.5h3.6v3.6h-3.6zM389.1 899.4h3.6v3.6h-3.6zM399.6 944.4h3.6v3.6h-3.6zM419.4 908h3.6v3.6h-3.6zM428.4 950.9h3.6v3.6h-3.6zM418.2 921.6h3.6v3.6h-3.6zM372.2 919.5h3.6v3.6h-3.6zM389.8 986.9h3.6v3.6h-3.6zM382.6 938.3h3.6v3.6h-3.6zM395.6 941.7h3.6v3.6h-3.6zM409.8 957.9h3.6v3.6h-3.6zM388.2 893.1h3.6v3.6h-3.6zM425.3 925.1h3.6v3.6h-3.6zM374.7 929.2h3.6v3.6h-3.6zM413.3 960h3.6v3.6h-3.6zM402.5 955.3h3.6v3.6h-3.6zM408.8 932.6h3.6v3.6h-3.6zM389.6 995.6h3.6v3.6h-3.6zM428.8 935h3.6v3.6h-3.6zM372.4 928.2h3.6v3.6h-3.6zM384.8 959.2h3.6v3.6h-3.6zM443.7 930.2h3.6v3.6h-3.6zM410.3 981.6h3.6v3.6h-3.6zM373.6 957h3.6v3.6h-3.6zM440.5 930.2h3.6v3.6h-3.6zM401.2 1008.6h3.6v3.6h-3.6zM382.2 938.2h3.6v3.6h-3.6zM428.9 947.7h3.6v3.6h-3.6zM420.8 956.9h3.6v3.6h-3.6zM386.9 957.6h3.6v3.6h-3.6zM422.8 959.2h3.6v3.6h-3.6zM403.6 914.5h3.6v3.6h-3.6zM371.3 950.2h3.6v3.6h-3.6zM391.5 896h3.6v3.6h-3.6zM386.8 941.9h3.6v3.6h-3.6zM401.1 945.4h3.6v3.6h-3.6zM381.1 962.6h3.6v3.6h-3.6zM384.4 927.8h3.6v3.6h-3.6zM381.8 955.8h3.6v3.6h-3.6zM384.8 937.1h3.6v3.6h-3.6zM433.2 950.5h3.6v3.6h-3.6zM376.5 924.5h3.6v3.6h-3.6zM407.4 973.9h3.6v3.6h-3.6zM428.8 972.4h3.6v3.6h-3.6zM407.2 907h3.6v3.6h-3.6zM404 941.3h3.6v3.6h-3.6zM381.7 938.6h3.6v3.6h-3.6zM389.6 896.5h3.6v3.6h-3.6zM428.9 915.1h3.6v3.6h-3.6zM385.1 941.3h3.6v3.6h-3.6zM393.2 916.4h3.6v3.6h-3.6zM397.8 951.7h3.6v3.6h-3.6zM420.7 966.7h3.6v3.6h-3.6zM434.2 931.4h3.6v3.6h-3.6zM403.8 963.7h3.6v3.6h-3.6zM387.6 984.2h3.6v3.6h-3.6zM374.7 931.6h3.6v3.6h-3.6zM419.7 978.8h3.6v3.6h-3.6zM390.6 979.4h3.6v3.6h-3.6zM400.6 984h3.6v3.6h-3.6zM376.4 949.4h3.6v3.6h-3.6zM377.3 956.3h3.6v3.6h-3.6zM436.7 928h3.6v3.6h-3.6zM438.1 972.2h3.6v3.6h-3.6zM387.2 968.9h3.6v3.6h-3.6zM403.8 959.2h3.6v3.6h-3.6zM442.4 949.3h3.6v3.6h-3.6zM394.2 932.2h3.6v3.6h-3.6zM370.5 890.2h3.6v3.6h-3.6zM375.3 934.8h3.6v3.6h-3.6zM421.7 904.1h3.6v3.6h-3.6zM433.4 945.8h3.6v3.6h-3.6zM394.3 927.9h3.6v3.6h-3.6zM440 1010.3h3.6v3.6h-3.6zM396.2 933.6h3.6v3.6h-3.6zM441.1 925.4h3.6v3.6h-3.6zM376 996.9h3.6v3.6h-3.6zM420 907.1h3.6v3.6h-3.6zM412.5 980.8h3.6v3.6h-3.6zM439.3 982.1h3.6v3.6h-3.6zM384.4 947.6h3.6v3.6h-3.6zM395.5 1101.4h3.6v3.6h-3.6zM386.1 972.8h3.6v3.6h-3.6zM443.3 863.6h3.6v3.6h-3.6zM391.9 1060.7h3.6v3.6h-3.6zM376.8 1086.6h3.6v3.6h-3.6zM432.8 896.6h3.6v3.6h-3.6zM414.5 996.4h3.6v3.6h-3.6zM422.2 936.3h3.6v3.6h-3.6zM398.7 920.3h3.6v3.6h-3.6zM391.7 904.5h3.6v3.6h-3.6zM438.1 1076.8h3.6v3.6h-3.6zM396.8 1029.8h3.6v3.6h-3.6zM406.7 929.9h3.6v3.6h-3.6zM396 1095.6h3.6v3.6h-3.6zM395.4 1002h3.6v3.6h-3.6zM441.2 934h3.6v3.6h-3.6zM430.9 889.6h3.6v3.6h-3.6zM425.2 1057.2h3.6v3.6h-3.6zM433.1 1098h3.6v3.6h-3.6zM423.5 1098.5h3.6v3.6h-3.6zM390.6 988.2h3.6v3.6h-3.6zM385.7 882.2h3.6v3.6h-3.6zM402.8 1036.2h3.6v3.6h-3.6zM428.6 866.1h3.6v3.6h-3.6zM441 921.8h3.6v3.6h-3.6zM391.7 1063.4h3.6v3.6h-3.6zM437.4 1040.2h3.6v3.6h-3.6zM394.8 974h3.6v3.6h-3.6zM432.8 948.5h3.6v3.6h-3.6zM430.6 1051.2h3.6v3.6h-3.6zM405.1 1079h3.6v3.6h-3.6zM398.7 1043.5h3.6v3.6h-3.6zM418.1 942.2h3.6v3.6h-3.6zM409.9 1008.7h3.6v3.6h-3.6zM410.2 888.8h3.6v3.6h-3.6zM444.8 1095.9h3.6v3.6h-3.6zM372.3 1090.5h3.6v3.6h-3.6zM409.8 892.4h3.6v3.6h-3.6zM431.8 966.8h3.6v3.6h-3.6zM423.6 1062.2h3.6v3.6h-3.6zM410.3 874h3.6v3.6h-3.6zM431.9 1030h3.6v3.6h-3.6zM438.6 927.4h3.6v3.6h-3.6zM429.1 1073.3h3.6v3.6h-3.6zM396.4 961.3h3.6v3.6h-3.6zM394.8 863.4h3.6v3.6h-3.6zM387.1 942.2h3.6v3.6h-3.6zM377.7 1047.3h3.6v3.6h-3.6zM401.9 999.5h3.6v3.6h-3.6zM391.1 949.2h3.6v3.6h-3.6zM426.7 975.7h3.6v3.6h-3.6zM414.8 964.3h3.6v3.6h-3.6zM411.8 1079.2h3.6v3.6h-3.6zM389.8 987.6h3.6v3.6h-3.6zM421.7 883h3.6v3.6h-3.6zM442.5 982.7h3.6v3.6h-3.6zM388.1 1046h3.6v3.6h-3.6zM431.4 1014.6h3.6v3.6h-3.6zM439 883.5h3.6v3.6h-3.6zM409.5 1041.8h3.6v3.6h-3.6zM439.1 1017.2h3.6v3.6h-3.6zM415.2 956h3.6v3.6h-3.6zM412.9 996.3h3.6v3.6h-3.6zM438.2 1062.2h3.6v3.6h-3.6zM425.5 1085.6h3.6v3.6h-3.6zM374.5 1048.2h3.6v3.6h-3.6zM404.7 1043.9h3.6v3.6h-3.6zM392 975.1h3.6v3.6h-3.6zM432.1 870.5h3.6v3.6h-3.6zM391.6 980.2h3.6v3.6h-3.6zM434.1 927.3h3.6v3.6h-3.6zM432 921.2h3.6v3.6h-3.6zM392.5 996h3.6v3.6h-3.6zM419.1 1075h3.6v3.6h-3.6zM436.3 922.5h3.6v3.6h-3.6zM466.7 901.4h3.6v3.6h-3.6zM495.2 905.1h3.6v3.6h-3.6zM515.4 884.9h3.6v3.6h-3.6zM516.4 908.8h3.6v3.6h-3.6zM544.7 906h3.6v3.6h-3.6zM544.7 919.8h3.6v3.6h-3.6zM544.7 930.8h3.6v3.6h-3.6zM490.6 930.8h3.6v3.6h-3.6zM510.8 930.8h3.6v3.6h-3.6zM475 935.4h3.6v3.6h-3.6zM484.2 941.9h3.6v3.6h-3.6zM464.9 944.6h3.6v3.6h-3.6zM465.8 952h3.6v3.6h-3.6zM459.3 954.7h3.6v3.6h-3.6zM492.4 963h3.6v3.6h-3.6zM486.9 964.9h3.6v3.6h-3.6zM541.2 964.9h3.6v3.6h-3.6zM480.5 978.6h3.6v3.6h-3.6zM523.7 978.6h3.6v3.6h-3.6zM537.5 990.6h3.6v3.6h-3.6zM539.3 1006.2h3.6v3.6h-3.6zM536.6 1024.6h3.6v3.6h-3.6zM515.4 1045.8h3.6v3.6h-3.6zM461.2 1067.8h3.6v3.6h-3.6zM534.7 1064.2h3.6v3.6h-3.6zM531.1 1087.2h3.6v3.6h-3.6zM528.3 1089.9h3.6v3.6h-3.6zM453.2 1038.2h3.6v3.6h-3.6zM468.2 1028.2h3.6v3.6h-3.6zM498.2 866.2h3.6v3.6h-3.6zM456.2 1088.2h3.6v3.6h-3.6zM558.6 1032.9h3.6v3.6h-3.6zM589.9 1085.3h3.6v3.6h-3.6zM711.3 974.1h3.6v3.6h-3.6zM708.5 977.7h3.6v3.6h-3.6zM730.6 956.6h3.6v3.6h-3.6zM771 941.9h3.6v3.6h-3.6zM812.2 948.3h3.6v3.6h-3.6zM767.4 1008.1h3.6v3.6h-3.6zM767.4 1037.5h3.6v3.6h-3.6zM794.9 1064.2h3.6v3.6h-3.6zM334.2 642.2h3.6v3.6h-3.6zM320.2 695.2h3.6v3.6h-3.6z" fill="#2676a2"/>
<path d="M279.6 862.6h3v3h-3zM284.8 864.6h3v3h-3zM288.3 868.1h3v3h-3zM283.3 870.3h3v3h-3zM287.7 874.8h3v3h-3zM279.7 876.4h3v3h-3zM284.2 880.8h3v3h-3zM288.4 883.7h3v3h-3zM296.6 886.2h3v3h-3zM296.4 888.4h3v3h-3zM282.9 892.9h3v3h-3zM287.7 895.1h3v3h-3zM289.8 898.4h3v3h-3zM293.4 901h3v3h-3zM292.5 904.2h3v3h-3zM322.3 856.3h3v3h-3zM323.7 856.9h3v3h-3zM307 859.7h3v3h-3zM330.2 858.2h3v3h-3zM310.1 861.9h3v3h-3zM331.7 862.3h3v3h-3zM324.1 865.8h3v3h-3zM303.7 865.6h3v3h-3zM308.3 867.4h3v3h-3zM308.2 868.1h3v3h-3zM331 871.6h3v3h-3zM317.8 871.3h3v3h-3zM311.2 873.2h3v3h-3zM310.5 874.3h3v3h-3zM320.1 877.3h3v3h-3zM303.2 877.3h3v3h-3zM318.6 879.8h3v3h-3zM331.2 879.5h3v3h-3zM310.9 882.2h3v3h-3zM315.1 883.5h3v3h-3zM314.3 885.8h3v3h-3zM329.2 886.4h3v3h-3zM326.4 889.4h3v3h-3zM321.3 890h3v3h-3zM312.6 892.8h3v3h-3zM327.4 891.8h3v3h-3zM315.6 894.6h3v3h-3zM301.1 894.6h3v3h-3zM320.7 897.8h3v3h-3zM317.7 898.6h3v3h-3zM310 901.5h3v3h-3zM305.5 900.3h3v3h-3zM323.8 904.5h3v3h-3zM317.3 903.2h3v3h-3zM350.3 843.1h3v3h-3zM341.1 847.8h3v3h-3zM350.4 850.6h3v3h-3zM352.7 852.8h3v3h-3zM348.1 856.5h3v3h-3zM358 859.6h3v3h-3zM350.5 862.3h3v3h-3zM347.2 866h3v3h-3zM345.8 867.5h3v3h-3zM346.9 871.7h3v3h-3zM354.4 874.5h3v3h-3zM342.7 877h3v3h-3zM354.4 879.4h3v3h-3zM348.7 882.3h3v3h-3zM347.9 885.3h3v3h-3zM356.1 888.4h3v3h-3zM336.5 892.4h3v3h-3zM336.1 895.6h3v3h-3zM355.9 898.2h3v3h-3zM343.9 900.2h3v3h-3zM337.9 903.5h3v3h-3zM358.2 905.2h3v3h-3zM327.3 905.6h3v3h-3zM332.9 905.1h3v3h-3zM306.2 904.4h3v3h-3zM326.6 905.2h3v3h-3zM341.6 905h3v3h-3zM336.1 907.2h3v3h-3zM325.6 907.5h3v3h-3zM288.3 907.3h3v3h-3zM347 908.7h3v3h-3zM355.7 908.8h3v3h-3zM322.7 912h3v3h-3zM341 911.5h3v3h-3zM315.6 910.2h3v3h-3zM291.1 911.6h3v3h-3zM308.7 910.6h3v3h-3zM291 913.3h3v3h-3zM303 913.9h3v3h-3zM283.8 913.7h3v3h-3zM297.4 914.2h3v3h-3zM341.8 916.6h3v3h-3zM313.1 917.5h3v3h-3zM352.7 916.5h3v3h-3zM355.2 916.3h3v3h-3zM290.4 919.3h3v3h-3zM359.7 920.8h3v3h-3zM336.9 919.2h3v3h-3zM285 923.1h3v3h-3zM326.4 923.5h3v3h-3zM317.4 923.4h3v3h-3zM344.1 927h3v3h-3zM353.1 925.5h3v3h-3zM357.1 928.7h3v3h-3zM313 929.5h3v3h-3zM291 932.5h3v3h-3zM284.5 932.1h3v3h-3zM298.5 934.5h3v3h-3zM342.3 937.7h3v3h-3zM294.9 940.2h3v3h-3zM304 944.3h3v3h-3zM327.2 946.5h3v3h-3zM328.2 949.3h3v3h-3zM359.5 952.4h3v3h-3zM361.3 955.6h3v3h-3zM357.9 958.1h3v3h-3zM337.4 961.7h3v3h-3zM282.4 965.1h3v3h-3zM307 967.1h3v3h-3zM315.4 970.4h3v3h-3zM299.7 974.9h3v3h-3zM287.2 976.6h3v3h-3zM281.6 979.3h3v3h-3zM292.4 983.8h3v3h-3zM286.6 986.6h3v3h-3zM330.5 988.2h3v3h-3zM358.1 992.6h3v3h-3zM280.7 995.8h3v3h-3zM336.7 998.6h3v3h-3zM294.1 1000.1h3v3h-3zM299.6 1004.7h3v3h-3zM321.2 1006h3v3h-3zM338.3 1010h3v3h-3zM305.6 1012.6h3v3h-3zM287.5 1015.1h3v3h-3zM284 1019h3v3h-3zM358 1022.9h3v3h-3zM313.1 1025.7h3v3h-3zM327 1027.4h3v3h-3zM318.4 1031.1h3v3h-3zM359.9 1030.1h3v3h-3zM281 1033.8h3v3h-3zM324.1 1034h3v3h-3zM358.7 1037.7h3v3h-3zM320.2 1036.6h3v3h-3zM317.9 1037.6h3v3h-3zM346.1 1039.7h3v3h-3zM324.2 1039.1h3v3h-3zM310.8 1039.5h3v3h-3zM346 1042.4h3v3h-3zM294.2 1043.7h3v3h-3zM359.5 1043.8h3v3h-3zM290.1 1045h3v3h-3zM345.6 1045.5h3v3h-3zM355.6 1045.3h3v3h-3zM291.2 1045.4h3v3h-3zM354.1 1049.8h3v3h-3zM299.8 1048.8h3v3h-3zM338.8 1049h3v3h-3zM305 1049.8h3v3h-3zM292.8 1051.6h3v3h-3zM297.1 1051.2h3v3h-3zM286.6 1052.6h3v3h-3zM318.4 1052.6h3v3h-3zM328.4 1052.1h3v3h-3zM339.8 1054.8h3v3h-3zM300.7 1055.6h3v3h-3zM361.3 1054.4h3v3h-3zM338.9 1055.3h3v3h-3zM314.5 1055.4h3v3h-3zM357.7 1057.1h3v3h-3zM282 1058.1h3v3h-3zM361.5 1057.4h3v3h-3zM329.4 1057.7h3v3h-3zM285.6 1057.6h3v3h-3zM320.5 1058.2h3v3h-3zM303.7 1061.5h3v3h-3zM343.7 1060.9h3v3h-3zM303.4 1060.3h3v3h-3zM353.3 1061h3v3h-3zM286.3 1060.6h3v3h-3zM289.3 1061.1h3v3h-3zM351.2 1064.2h3v3h-3zM284.2 1064.3h3v3h-3zM338.5 1064.9h3v3h-3zM295.8 1063h3v3h-3zM301.4 1063.4h3v3h-3zM306.3 1063.7h3v3h-3zM311.2 1067.8h3v3h-3zM327.6 1067.4h3v3h-3zM327.9 1066.9h3v3h-3zM358 1067.6h3v3h-3zM307.4 1067h3v3h-3zM313.2 1067.9h3v3h-3zM330.1 1066.6h3v3h-3zM319.1 1070.6h3v3h-3zM289.8 1069.3h3v3h-3zM320.6 1070h3v3h-3zM299.9 1070h3v3h-3zM313.1 1071h3v3h-3zM332.3 1069.2h3v3h-3zM355 1070h3v3h-3zM300.6 1073.9h3v3h-3zM279.6 1073.4h3v3h-3zM311.5 1073.7h3v3h-3zM358.9 1073.7h3v3h-3zM342.5 1072.7h3v3h-3zM284.4 1072.2h3v3h-3zM337.5 1073.5h3v3h-3zM355.2 1072.3h3v3h-3zM334.9 1076.3h3v3h-3zM340 1076.2h3v3h-3zM283 1075.1h3v3h-3zM287.1 1075.5h3v3h-3zM320.7 1076.8h3v3h-3zM283.6 1075.2h3v3h-3zM321.1 1076.1h3v3h-3zM340.2 1075.1h3v3h-3zM330.2 1078.6h3v3h-3zM361.1 1078.5h3v3h-3zM336.2 1078.3h3v3h-3zM311.9 1078.9h3v3h-3zM338.5 1078.6h3v3h-3zM318 1079.7h3v3h-3zM313.6 1079.7h3v3h-3zM309.7 1078.7h3v3h-3zM320.2 1079.2h3v3h-3zM335.7 1082.3h3v3h-3zM296.1 1082.2h3v3h-3zM284.5 1082.2h3v3h-3zM344.8 1081.9h3v3h-3zM346.2 1081.5h3v3h-3zM334.4 1082.5h3v3h-3zM306 1081.9h3v3h-3zM333.8 1082.5h3v3h-3zM286.4 1081.7h3v3h-3zM308 1085.8h3v3h-3zM329.6 1084.7h3v3h-3zM317.4 1084.2h3v3h-3zM325.9 1085.2h3v3h-3zM280.9 1084.3h3v3h-3zM320.6 1085.8h3v3h-3zM297.6 1084.2h3v3h-3zM311.3 1084.7h3v3h-3zM285.6 1085h3v3h-3zM333.7 1084.2h3v3h-3zM360.7 1088.4h3v3h-3zM340.6 1087.9h3v3h-3zM332.7 1088.6h3v3h-3zM297.8 1087.5h3v3h-3zM310.1 1088.3h3v3h-3zM330.9 1088.3h3v3h-3zM355.9 1087.9h3v3h-3zM304.4 1087.4h3v3h-3zM312.1 1087.8h3v3h-3zM281.3 1088.5h3v3h-3zM292.3 1090.8h3v3h-3zM320.1 1091.9h3v3h-3zM309.9 1090.2h3v3h-3zM314.3 1091.5h3v3h-3zM349.8 1091.7h3v3h-3zM335.7 1091h3v3h-3zM335.6 1091.6h3v3h-3zM360.7 1090.9h3v3h-3zM297.5 1090.7h3v3h-3zM321.4 1091h3v3h-3zM287.1 1090.4h3v3h-3zM291.6 1093.5h3v3h-3zM325.2 1094.6h3v3h-3zM292.6 1094h3v3h-3zM282.7 1094.1h3v3h-3zM357.4 1093.9h3v3h-3zM307.4 1094.4h3v3h-3zM295.1 1095h3v3h-3zM287.9 1094.6h3v3h-3zM333.3 1093.1h3v3h-3zM317.5 1094h3v3h-3zM280.5 1093.5h3v3h-3zM338.5 1093.2h3v3h-3zM341.8 1096.7h3v3h-3zM361.4 1096.4h3v3h-3zM335.9 1096h3v3h-3zM282.2 1096.3h3v3h-3zM304.1 1097.7h3v3h-3zM345.7 1097.2h3v3h-3zM355.8 1098h3v3h-3zM328.6 1096.1h3v3h-3zM308.3 1096.7h3v3h-3zM308.8 1097.6h3v3h-3zM331.8 1097.3h3v3h-3zM350.8 1096.1h3v3h-3zM315.7 1100.7h3v3h-3zM301.6 1100h3v3h-3zM324.2 1100.7h3v3h-3zM297.8 1099.9h3v3h-3zM350.3 1099.5h3v3h-3zM347.5 1100h3v3h-3zM306.1 1099.7h3v3h-3zM281.5 1100.5h3v3h-3zM352.7 1100.7h3v3h-3zM304.1 1099.3h3v3h-3zM333.7 1099.3h3v3h-3zM350.3 1099.8h3v3h-3zM345.4 1099.9h3v3h-3zM292.8 1102.4h3v3h-3zM297.3 1103.6h3v3h-3zM310.8 1103h3v3h-3zM306.8 1102.9h3v3h-3zM284.5 1103.4h3v3h-3zM313 1103.5h3v3h-3zM316.5 1103.7h3v3h-3zM303.2 1103.6h3v3h-3zM311.2 1103.3h3v3h-3zM306.9 1103.4h3v3h-3zM310.6 1102.3h3v3h-3zM330.6 1103.4h3v3h-3zM320.5 1102.5h3v3h-3z" fill="#93c8e0"/>
<path d="M346.5 904.1h3v3h-3zM318.2 904.8h3v3h-3zM316.9 904.3h3v3h-3zM359.4 904.2h3v3h-3zM305.9 905.1h3v3h-3zM293.2 908.5h3v3h-3zM330.6 907.8h3v3h-3zM346.9 907.5h3v3h-3zM290.6 907.7h3v3h-3zM324.5 908.1h3v3h-3zM283.2 911.8h3v3h-3zM306.9 910.1h3v3h-3zM295.4 910.3h3v3h-3zM318.2 911h3v3h-3zM344 913.9h3v3h-3zM280.5 914.3h3v3h-3zM351.4 914h3v3h-3zM292.9 913.3h3v3h-3zM302.7 917.5h3v3h-3zM282.3 916.5h3v3h-3zM306.8 916.8h3v3h-3zM315.6 919.3h3v3h-3zM329.2 920.4h3v3h-3zM356.7 920h3v3h-3zM287.1 922.1h3v3h-3zM306.9 923.8h3v3h-3zM356.9 923.2h3v3h-3zM361.8 926.6h3v3h-3zM292.4 925.8h3v3h-3zM316.9 929.9h3v3h-3zM357.3 928.7h3v3h-3zM318.4 931.8h3v3h-3zM316.5 931.9h3v3h-3zM334.9 935.6h3v3h-3zM302.4 937.6h3v3h-3zM306.2 941.3h3v3h-3zM337 944.5h3v3h-3zM282.3 946.8h3v3h-3zM308.2 950.2h3v3h-3zM337.8 952.2h3v3h-3zM300.4 955.4h3v3h-3zM329.4 960h3v3h-3zM322.5 962.2h3v3h-3zM306.6 964h3v3h-3zM285.8 967.4h3v3h-3zM282 971.9h3v3h-3zM337.9 973h3v3h-3zM353.6 977.3h3v3h-3zM281.8 979.4h3v3h-3zM331.7 982.2h3v3h-3zM307.2 985.7h3v3h-3zM335.3 989.1h3v3h-3zM301 992.2h3v3h-3zM332.4 995h3v3h-3zM285 997.3h3v3h-3zM344.4 1000.9h3v3h-3zM349.7 1005h3v3h-3zM312.7 1006.6h3v3h-3zM316 1009.4h3v3h-3zM351.2 1013.8h3v3h-3zM357 1016h3v3h-3zM361.2 1019.2h3v3h-3zM321.1 1021.9h3v3h-3zM289.8 1024.3h3v3h-3zM331 1028.5h3v3h-3zM347 1031.4h3v3h-3zM280.7 1030.4h3v3h-3zM314.9 1033.1h3v3h-3zM334 1033.5h3v3h-3zM303.9 1036.3h3v3h-3zM333.7 1037.8h3v3h-3zM303.2 1040.2h3v3h-3zM338.9 1040.9h3v3h-3zM307.1 1039.1h3v3h-3zM330.9 1043.9h3v3h-3zM287.6 1044h3v3h-3zM334.7 1043.8h3v3h-3zM330.8 1046h3v3h-3zM322.5 1045.6h3v3h-3zM296 1045.3h3v3h-3zM327.6 1049.3h3v3h-3zM314.3 1048.6h3v3h-3zM314.9 1048.8h3v3h-3zM296.5 1048.9h3v3h-3zM335 1051.1h3v3h-3zM287.3 1051.6h3v3h-3zM290.8 1052.9h3v3h-3zM361.2 1051h3v3h-3zM290.9 1054.8h3v3h-3zM324.2 1055h3v3h-3zM331.4 1054.2h3v3h-3zM314.8 1055.1h3v3h-3zM350.8 1055.5h3v3h-3zM322.1 1058.8h3v3h-3zM351.5 1057.6h3v3h-3zM318.2 1058.4h3v3h-3zM317.9 1057.8h3v3h-3zM303 1058.9h3v3h-3zM347.3 1060.7h3v3h-3zM356.8 1061.9h3v3h-3zM306.6 1060.2h3v3h-3zM326.5 1061.7h3v3h-3zM280 1061.3h3v3h-3zM340.9 1064.5h3v3h-3zM350.2 1063.2h3v3h-3zM284.4 1064.7h3v3h-3zM328.4 1064.2h3v3h-3zM360.7 1064.8h3v3h-3zM317.4 1064.6h3v3h-3zM347 1066.2h3v3h-3zM324.9 1066.9h3v3h-3zM321.7 1067.8h3v3h-3zM342.2 1067.2h3v3h-3zM333.5 1066.1h3v3h-3zM303.4 1066.9h3v3h-3zM290 1070.6h3v3h-3zM348 1069.1h3v3h-3zM304 1070.9h3v3h-3zM349.4 1070.8h3v3h-3zM329.8 1069.6h3v3h-3zM321.5 1069.3h3v3h-3zM286.7 1070.8h3v3h-3zM354.9 1072.4h3v3h-3zM312.4 1072.2h3v3h-3zM301.1 1073.4h3v3h-3zM325.4 1072.6h3v3h-3zM305.9 1073.8h3v3h-3zM356 1073.8h3v3h-3zM286.5 1073.9h3v3h-3zM311.2 1075.7h3v3h-3zM361.6 1075.7h3v3h-3zM325.7 1075.3h3v3h-3zM322.5 1076.8h3v3h-3zM357.7 1075.4h3v3h-3zM302.9 1075h3v3h-3zM362 1076.8h3v3h-3zM354.7 1076.2h3v3h-3zM357 1078.2h3v3h-3zM293.7 1079.4h3v3h-3zM313.3 1079.9h3v3h-3zM324.6 1078h3v3h-3zM338.8 1079.5h3v3h-3zM356.8 1078.4h3v3h-3zM340.2 1078.9h3v3h-3zM308.2 1079h3v3h-3zM353.9 1082.3h3v3h-3zM309.1 1082.6h3v3h-3zM325.3 1082.3h3v3h-3zM316.1 1082.7h3v3h-3zM333.1 1081.7h3v3h-3zM358.7 1082.4h3v3h-3zM290.9 1081.5h3v3h-3zM359.1 1082h3v3h-3zM286.7 1084.8h3v3h-3zM324.3 1084.6h3v3h-3zM330.9 1085h3v3h-3zM355.5 1085.1h3v3h-3zM352.7 1085.4h3v3h-3zM284.2 1085.3h3v3h-3zM343.2 1085.4h3v3h-3zM301.1 1084.8h3v3h-3zM337 1085.4h3v3h-3zM305.8 1087.6h3v3h-3zM302.2 1088.6h3v3h-3zM338.3 1088.5h3v3h-3zM360.9 1087.3h3v3h-3zM309.4 1087.6h3v3h-3zM344.7 1088.6h3v3h-3zM291.1 1089h3v3h-3zM327.3 1088.2h3v3h-3zM315.2 1088.7h3v3h-3zM295.1 1091.6h3v3h-3zM286.9 1091.5h3v3h-3zM317.7 1091.5h3v3h-3zM298.8 1091.4h3v3h-3zM345.5 1091.7h3v3h-3zM346.9 1090.6h3v3h-3zM357.5 1091.3h3v3h-3zM348.8 1091h3v3h-3zM332.9 1090.7h3v3h-3zM294.9 1090.7h3v3h-3zM304.9 1093.9h3v3h-3zM304.7 1093.4h3v3h-3zM361 1093.2h3v3h-3zM307.2 1093.2h3v3h-3zM298.4 1093.7h3v3h-3zM357 1093.8h3v3h-3zM290.9 1094.8h3v3h-3zM359.2 1094.1h3v3h-3zM349.9 1095h3v3h-3zM332.9 1094.4h3v3h-3zM295.6 1097.5h3v3h-3zM300 1096.2h3v3h-3zM358.7 1096.6h3v3h-3zM341 1097h3v3h-3zM349.9 1097.4h3v3h-3zM337.2 1097.3h3v3h-3zM305.5 1097.4h3v3h-3zM311.8 1096.2h3v3h-3zM315.9 1096.4h3v3h-3zM303.7 1096.6h3v3h-3zM314.3 1096.6h3v3h-3zM312.6 1099.1h3v3h-3zM332.1 1099.4h3v3h-3zM336.2 1099.4h3v3h-3zM316.8 1099.8h3v3h-3zM295 1099.6h3v3h-3zM359.2 1099.7h3v3h-3zM318 1100.6h3v3h-3zM338.7 1099h3v3h-3zM323.6 1099.2h3v3h-3zM286.2 1100.6h3v3h-3zM299 1100.1h3v3h-3zM358.4 1102.6h3v3h-3zM357.2 1103.4h3v3h-3zM359.3 1102h3v3h-3zM339.7 1102.5h3v3h-3zM335.4 1103.8h3v3h-3zM301.8 1103.7h3v3h-3zM310.2 1103.3h3v3h-3zM279.7 1103.1h3v3h-3zM348.2 1102.4h3v3h-3zM302.3 1103.8h3v3h-3zM286 1103.5h3v3h-3zM305.5 1103h3v3h-3z" fill="#e4f0f5"/>
<path d="M306,880 L306,1106 M335,870 L335,1106" stroke="#6fb5a0" stroke-width="2" opacity="0.6"/>
<path d="M340.6 1110.5h3.6v3.6h-3.6zM331.5 1109.6h3.6v3.6h-3.6zM311.1 1110.2h3.6v3.6h-3.6zM343.1 1110h3.6v3.6h-3.6zM353 1109.3h3.6v3.6h-3.6zM318.7 1110.5h3.6v3.6h-3.6zM354.5 1110.5h3.6v3.6h-3.6zM290 1109.3h3.6v3.6h-3.6zM293.1 1109.5h3.6v3.6h-3.6zM345.1 1112.3h3.6v3.6h-3.6zM354.2 1112.8h3.6v3.6h-3.6zM350.8 1112.1h3.6v3.6h-3.6zM320.6 1112.9h3.6v3.6h-3.6zM309.6 1113.4h3.6v3.6h-3.6zM316 1113.3h3.6v3.6h-3.6zM293.9 1114h3.6v3.6h-3.6zM320.1 1113.8h3.6v3.6h-3.6zM298.4 1113.3h3.6v3.6h-3.6zM353 1115.6h3.6v3.6h-3.6zM315.9 1116.7h3.6v3.6h-3.6zM344.9 1115h3.6v3.6h-3.6zM302.8 1115.5h3.6v3.6h-3.6zM322.6 1115.4h3.6v3.6h-3.6zM359.8 1115.5h3.6v3.6h-3.6zM328.5 1116.9h3.6v3.6h-3.6zM321 1115h3.6v3.6h-3.6zM344 1115.6h3.6v3.6h-3.6zM326.5 1119h3.6v3.6h-3.6zM337.1 1119.9h3.6v3.6h-3.6zM342.9 1119.5h3.6v3.6h-3.6zM310.9 1119.1h3.6v3.6h-3.6zM297.5 1119h3.6v3.6h-3.6zM349.3 1119.4h3.6v3.6h-3.6zM289.5 1119.3h3.6v3.6h-3.6zM284.8 1118.7h3.6v3.6h-3.6zM298.5 1118.2h3.6v3.6h-3.6zM296 1122.1h3.6v3.6h-3.6zM343.6 1122.6h3.6v3.6h-3.6zM331.5 1122.3h3.6v3.6h-3.6zM344.8 1122.3h3.6v3.6h-3.6zM283.1 1121.3h3.6v3.6h-3.6zM353.3 1122.2h3.6v3.6h-3.6zM310.8 1121.7h3.6v3.6h-3.6zM355.4 1121.2h3.6v3.6h-3.6zM328.2 1121.3h3.6v3.6h-3.6zM318.8 1124.4h3.6v3.6h-3.6zM301 1124.8h3.6v3.6h-3.6zM342.2 1125.6h3.6v3.6h-3.6zM289.5 1124.1h3.6v3.6h-3.6zM280.6 1125.7h3.6v3.6h-3.6zM361.2 1126h3.6v3.6h-3.6zM305.1 1125.1h3.6v3.6h-3.6zM321.3 1124.7h3.6v3.6h-3.6zM296.7 1124.5h3.6v3.6h-3.6zM294.5 1128.3h3.6v3.6h-3.6zM306 1127.6h3.6v3.6h-3.6zM349.3 1128.7h3.6v3.6h-3.6zM279.8 1127.4h3.6v3.6h-3.6zM343.9 1127.9h3.6v3.6h-3.6zM334.2 1127.2h3.6v3.6h-3.6zM281.1 1128.3h3.6v3.6h-3.6zM285.2 1127.2h3.6v3.6h-3.6zM339.7 1127.4h3.6v3.6h-3.6zM342.3 1130.9h3.6v3.6h-3.6zM320.5 1130.2h3.6v3.6h-3.6zM333.7 1130.2h3.6v3.6h-3.6zM339.6 1131.3h3.6v3.6h-3.6zM329.2 1131.5h3.6v3.6h-3.6zM295.7 1130.7h3.6v3.6h-3.6zM336.7 1130.8h3.6v3.6h-3.6zM289 1130.4h3.6v3.6h-3.6zM301.6 1131h3.6v3.6h-3.6zM327 1133.6h3.6v3.6h-3.6zM356 1134.2h3.6v3.6h-3.6zM282.8 1134.8h3.6v3.6h-3.6zM353.9 1133.2h3.6v3.6h-3.6zM360.6 1134h3.6v3.6h-3.6zM307.9 1133h3.6v3.6h-3.6zM338.9 1134.7h3.6v3.6h-3.6zM347.1 1134.6h3.6v3.6h-3.6zM332.8 1133.1h3.6v3.6h-3.6zM340.6 1137h3.6v3.6h-3.6zM336.1 1136.1h3.6v3.6h-3.6zM289.8 1136.2h3.6v3.6h-3.6zM322.5 1137.7h3.6v3.6h-3.6zM336 1137.5h3.6v3.6h-3.6zM307 1137.7h3.6v3.6h-3.6zM320.8 1137.2h3.6v3.6h-3.6zM359.4 1137.2h3.6v3.6h-3.6zM331.6 1137.1h3.6v3.6h-3.6zM339.7 1140.7h3.6v3.6h-3.6zM306.5 1140.4h3.6v3.6h-3.6zM320.2 1140.5h3.6v3.6h-3.6zM318 1139.9h3.6v3.6h-3.6zM333.7 1139.2h3.6v3.6h-3.6zM297.2 1139.9h3.6v3.6h-3.6zM281.6 1140.7h3.6v3.6h-3.6zM286.8 1140h3.6v3.6h-3.6zM294.2 1140.3h3.6v3.6h-3.6zM310.1 1143.5h3.6v3.6h-3.6zM291.8 1142.7h3.6v3.6h-3.6zM330.8 1143h3.6v3.6h-3.6zM319.2 1143.9h3.6v3.6h-3.6zM307.8 1143.4h3.6v3.6h-3.6zM300.7 1143.5h3.6v3.6h-3.6zM336.5 1142.7h3.6v3.6h-3.6zM305.5 1143.7h3.6v3.6h-3.6zM326.7 1142.8h3.6v3.6h-3.6zM300.8 1144h3.6v3.6h-3.6zM352.9 1146.1h3.6v3.6h-3.6zM333.5 1146.5h3.6v3.6h-3.6zM347.6 1145.3h3.6v3.6h-3.6zM324.1 1146.9h3.6v3.6h-3.6zM339.5 1145.7h3.6v3.6h-3.6zM289.7 1147h3.6v3.6h-3.6zM360.5 1146.5h3.6v3.6h-3.6zM345 1146h3.6v3.6h-3.6zM291.2 1145.7h3.6v3.6h-3.6zM299.4 1145.2h3.6v3.6h-3.6zM286.7 1149.4h3.6v3.6h-3.6zM331.1 1149.4h3.6v3.6h-3.6zM342.9 1149.7h3.6v3.6h-3.6zM353.8 1149.1h3.6v3.6h-3.6zM309.4 1149h3.6v3.6h-3.6zM356.3 1148.7h3.6v3.6h-3.6zM303.8 1149.7h3.6v3.6h-3.6zM356.5 1149.8h3.6v3.6h-3.6zM354.8 1148.3h3.6v3.6h-3.6zM292.2 1149.5h3.6v3.6h-3.6zM350 1148.6h3.6v3.6h-3.6zM294.6 1151.6h3.6v3.6h-3.6zM295.7 1152.8h3.6v3.6h-3.6zM326.5 1153h3.6v3.6h-3.6zM302.4 1152.7h3.6v3.6h-3.6zM299.3 1151.3h3.6v3.6h-3.6zM287.6 1152.5h3.6v3.6h-3.6zM306.1 1151.9h3.6v3.6h-3.6zM342.9 1151.3h3.6v3.6h-3.6zM281.3 1152h3.6v3.6h-3.6zM319 1152.8h3.6v3.6h-3.6zM328.9 1152.8h3.6v3.6h-3.6zM283.6 1151.8h3.6v3.6h-3.6zM284.7 1155.9h3.6v3.6h-3.6zM353.3 1154h3.6v3.6h-3.6zM360.3 1155.5h3.6v3.6h-3.6zM321.4 1155.6h3.6v3.6h-3.6zM298 1154.8h3.6v3.6h-3.6zM324 1155.2h3.6v3.6h-3.6zM336.5 1154.4h3.6v3.6h-3.6zM319 1155.3h3.6v3.6h-3.6zM308.4 1155.4h3.6v3.6h-3.6zM299.8 1155.5h3.6v3.6h-3.6zM303.8 1155h3.6v3.6h-3.6zM283.6 1155.9h3.6v3.6h-3.6zM300.4 1155.7h3.6v3.6h-3.6zM326.4 1157.4h3.6v3.6h-3.6zM335.4 1158.7h3.6v3.6h-3.6zM302 1157.2h3.6v3.6h-3.6zM356.8 1157.7h3.6v3.6h-3.6zM332.3 1158.7h3.6v3.6h-3.6zM352.8 1158.4h3.6v3.6h-3.6zM303.1 1158.4h3.6v3.6h-3.6zM360 1159h3.6v3.6h-3.6zM288.1 1157h3.6v3.6h-3.6zM322.9 1158.3h3.6v3.6h-3.6zM288.5 1158.5h3.6v3.6h-3.6zM295 1158.5h3.6v3.6h-3.6zM342.1 1158.4h3.6v3.6h-3.6zM284.9 1157.1h3.6v3.6h-3.6zM310.8 1157.2h3.6v3.6h-3.6zM342.8 1161.7h3.6v3.6h-3.6zM329.6 1160.8h3.6v3.6h-3.6zM301 1161.9h3.6v3.6h-3.6zM280.3 1160.6h3.6v3.6h-3.6zM323.2 1162h3.6v3.6h-3.6zM286.9 1160.1h3.6v3.6h-3.6zM340.8 1161.5h3.6v3.6h-3.6zM307.4 1160.6h3.6v3.6h-3.6zM345.6 1160.8h3.6v3.6h-3.6zM287.3 1161.3h3.6v3.6h-3.6zM320 1160.1h3.6v3.6h-3.6zM287.7 1160.4h3.6v3.6h-3.6zM343.4 1160.2h3.6v3.6h-3.6zM325.4 1161.5h3.6v3.6h-3.6zM298.7 1160.4h3.6v3.6h-3.6zM358.4 1161h3.6v3.6h-3.6zM335.4 1160.7h3.6v3.6h-3.6zM307 1160.5h3.6v3.6h-3.6zM356.1 1164.1h3.6v3.6h-3.6zM321.1 1163.6h3.6v3.6h-3.6zM332.8 1164.3h3.6v3.6h-3.6zM337.2 1163.3h3.6v3.6h-3.6zM346.8 1164.2h3.6v3.6h-3.6zM301.1 1163.1h3.6v3.6h-3.6zM285.9 1163h3.6v3.6h-3.6zM317.8 1164.4h3.6v3.6h-3.6zM293.4 1163.7h3.6v3.6h-3.6zM281.2 1164.4h3.6v3.6h-3.6zM354.8 1164.6h3.6v3.6h-3.6zM330.8 1164.7h3.6v3.6h-3.6zM313.4 1164.2h3.6v3.6h-3.6zM290.7 1164.7h3.6v3.6h-3.6zM341.8 1164.3h3.6v3.6h-3.6zM323.2 1164.9h3.6v3.6h-3.6zM293.8 1164.8h3.6v3.6h-3.6zM359.9 1163.1h3.6v3.6h-3.6zM357.4 1163.5h3.6v3.6h-3.6zM355.4 1163.8h3.6v3.6h-3.6zM347.2 1163.5h3.6v3.6h-3.6zM294 1167.4h3.6v3.6h-3.6zM351 1167.5h3.6v3.6h-3.6zM281.5 1166.4h3.6v3.6h-3.6zM294.4 1166.7h3.6v3.6h-3.6zM341.8 1167.8h3.6v3.6h-3.6zM297.8 1168h3.6v3.6h-3.6zM300.7 1166.9h3.6v3.6h-3.6zM358.7 1167.6h3.6v3.6h-3.6zM342 1167.9h3.6v3.6h-3.6zM316.2 1168h3.6v3.6h-3.6zM290.7 1166.6h3.6v3.6h-3.6zM301.5 1167.3h3.6v3.6h-3.6zM359.9 1166.8h3.6v3.6h-3.6zM344.3 1166.9h3.6v3.6h-3.6zM285.2 1166.9h3.6v3.6h-3.6zM337.4 1166.6h3.6v3.6h-3.6zM310.3 1166h3.6v3.6h-3.6zM338.5 1167.5h3.6v3.6h-3.6zM303.7 1167.4h3.6v3.6h-3.6zM290.2 1167.7h3.6v3.6h-3.6zM281.1 1166.3h3.6v3.6h-3.6zM303.7 1166.5h3.6v3.6h-3.6zM350 1167.2h3.6v3.6h-3.6zM352.5 1167.9h3.6v3.6h-3.6zM318.1 1169.3h3.6v3.6h-3.6zM295.9 1169.9h3.6v3.6h-3.6zM328.2 1170.3h3.6v3.6h-3.6zM357.9 1169.3h3.6v3.6h-3.6zM350.6 1169.8h3.6v3.6h-3.6zM353.1 1170.1h3.6v3.6h-3.6zM313.1 1170.1h3.6v3.6h-3.6zM301 1170.8h3.6v3.6h-3.6zM350.8 1170.6h3.6v3.6h-3.6zM344 1169.2h3.6v3.6h-3.6zM349.2 1170.7h3.6v3.6h-3.6zM311.5 1170.1h3.6v3.6h-3.6zM302.9 1170.4h3.6v3.6h-3.6zM299.2 1169.3h3.6v3.6h-3.6zM350.8 1169.9h3.6v3.6h-3.6zM354.8 1170.4h3.6v3.6h-3.6zM309.6 1170.6h3.6v3.6h-3.6zM351.1 1170.6h3.6v3.6h-3.6zM310.7 1169.4h3.6v3.6h-3.6zM316.2 1170.7h3.6v3.6h-3.6zM325.9 1170.1h3.6v3.6h-3.6zM297.6 1170.3h3.6v3.6h-3.6zM301.4 1170.7h3.6v3.6h-3.6zM301.3 1169.8h3.6v3.6h-3.6zM300.8 1170.8h3.6v3.6h-3.6zM321.7 1170.8h3.6v3.6h-3.6zM287.7 1170.6h3.6v3.6h-3.6zM343.4 1169.8h3.6v3.6h-3.6zM322.8 1173h3.6v3.6h-3.6zM293.7 1172.4h3.6v3.6h-3.6zM341.7 1172.9h3.6v3.6h-3.6zM352.5 1173h3.6v3.6h-3.6zM292.7 1172.1h3.6v3.6h-3.6zM340.5 1172.8h3.6v3.6h-3.6zM336.4 1172.6h3.6v3.6h-3.6zM282.5 1173.3h3.6v3.6h-3.6zM354.6 1173.6h3.6v3.6h-3.6zM318.7 1173.2h3.6v3.6h-3.6zM301.5 1173.3h3.6v3.6h-3.6zM282 1173.2h3.6v3.6h-3.6zM343.5 1172.5h3.6v3.6h-3.6zM307.2 1172.8h3.6v3.6h-3.6zM321.6 1173.7h3.6v3.6h-3.6zM295.4 1173.9h3.6v3.6h-3.6zM329.2 1172.4h3.6v3.6h-3.6zM312 1172h3.6v3.6h-3.6zM345.6 1173.9h3.6v3.6h-3.6zM334.1 1173.7h3.6v3.6h-3.6zM338.6 1173.2h3.6v3.6h-3.6zM300.1 1173.6h3.6v3.6h-3.6zM284.7 1173.2h3.6v3.6h-3.6zM351.6 1173.8h3.6v3.6h-3.6zM356.1 1172.5h3.6v3.6h-3.6zM332.2 1172.9h3.6v3.6h-3.6zM355 1173.3h3.6v3.6h-3.6zM337.3 1172.4h3.6v3.6h-3.6zM329.1 1173.4h3.6v3.6h-3.6zM313.8 1172.5h3.6v3.6h-3.6zM308.6 1173.4h3.6v3.6h-3.6zM345.4 1175.3h3.6v3.6h-3.6zM314.2 1176.9h3.6v3.6h-3.6zM360.6 1175.5h3.6v3.6h-3.6zM331.2 1176.2h3.6v3.6h-3.6zM341.5 1175.5h3.6v3.6h-3.6zM281.2 1176.6h3.6v3.6h-3.6zM288.7 1175.4h3.6v3.6h-3.6zM337.8 1175.8h3.6v3.6h-3.6zM356.7 1175.4h3.6v3.6h-3.6zM331 1176.7h3.6v3.6h-3.6zM354.3 1176.2h3.6v3.6h-3.6zM284.3 1176.3h3.6v3.6h-3.6zM352.5 1175.6h3.6v3.6h-3.6zM351.4 1175.4h3.6v3.6h-3.6zM331 1176.7h3.6v3.6h-3.6zM314.7 1176.5h3.6v3.6h-3.6zM337.2 1176.5h3.6v3.6h-3.6zM299.5 1177h3.6v3.6h-3.6zM334.2 1176.1h3.6v3.6h-3.6zM336.4 1175.4h3.6v3.6h-3.6zM323.7 1176.2h3.6v3.6h-3.6zM300.8 1175.6h3.6v3.6h-3.6zM279.7 1176h3.6v3.6h-3.6zM295.5 1175.9h3.6v3.6h-3.6zM347.8 1176.1h3.6v3.6h-3.6zM296.9 1176.8h3.6v3.6h-3.6zM285.6 1176.6h3.6v3.6h-3.6zM299.7 1175.8h3.6v3.6h-3.6zM322 1176.6h3.6v3.6h-3.6zM327.5 1176.7h3.6v3.6h-3.6zM351.3 1176.5h3.6v3.6h-3.6zM349.5 1176.1h3.6v3.6h-3.6zM358.8 1176.8h3.6v3.6h-3.6zM351.9 1176h3.6v3.6h-3.6zM316.4 1175.2h3.6v3.6h-3.6zM301.8 1179.2h3.6v3.6h-3.6zM333.4 1179.6h3.6v3.6h-3.6zM310.6 1179h3.6v3.6h-3.6zM314.1 1179.2h3.6v3.6h-3.6zM312.4 1179.3h3.6v3.6h-3.6zM295.2 1178h3.6v3.6h-3.6zM287.2 1178.5h3.6v3.6h-3.6zM283.5 1180h3.6v3.6h-3.6zM334.6 1178.7h3.6v3.6h-3.6zM306 1179.9h3.6v3.6h-3.6zM316.9 1179h3.6v3.6h-3.6zM356.1 1178.4h3.6v3.6h-3.6zM330.8 1178h3.6v3.6h-3.6zM345.9 1178.4h3.6v3.6h-3.6zM341.9 1178.6h3.6v3.6h-3.6zM357.6 1178.9h3.6v3.6h-3.6zM285 1178.9h3.6v3.6h-3.6zM311 1179.1h3.6v3.6h-3.6zM357.3 1178.9h3.6v3.6h-3.6zM317.5 1178.1h3.6v3.6h-3.6zM357.1 1178.5h3.6v3.6h-3.6zM294.6 1179.9h3.6v3.6h-3.6zM284.4 1178.1h3.6v3.6h-3.6zM352.8 1179.5h3.6v3.6h-3.6zM313.2 1179h3.6v3.6h-3.6zM321.1 1179.4h3.6v3.6h-3.6zM356.2 1178.7h3.6v3.6h-3.6zM297.5 1178.7h3.6v3.6h-3.6zM358.8 1179h3.6v3.6h-3.6zM312 1179.8h3.6v3.6h-3.6zM299.8 1178.7h3.6v3.6h-3.6zM298.6 1178.2h3.6v3.6h-3.6zM322 1178.1h3.6v3.6h-3.6zM317.7 1179.8h3.6v3.6h-3.6zM352.1 1178.6h3.6v3.6h-3.6zM283.7 1178.2h3.6v3.6h-3.6zM283.1 1179.2h3.6v3.6h-3.6zM292 1179.7h3.6v3.6h-3.6zM328.6 1181.4h3.6v3.6h-3.6zM291.9 1182.1h3.6v3.6h-3.6zM312.7 1181.5h3.6v3.6h-3.6zM301.3 1181.9h3.6v3.6h-3.6zM280.9 1182.7h3.6v3.6h-3.6zM358.6 1182.3h3.6v3.6h-3.6zM317.1 1181.9h3.6v3.6h-3.6zM290.5 1181.5h3.6v3.6h-3.6zM352 1182.6h3.6v3.6h-3.6zM360.2 1182.3h3.6v3.6h-3.6zM346.3 1181.9h3.6v3.6h-3.6zM300.3 1182.7h3.6v3.6h-3.6zM295.1 1182.4h3.6v3.6h-3.6zM322.5 1183h3.6v3.6h-3.6zM327.3 1182.3h3.6v3.6h-3.6zM351.4 1182.8h3.6v3.6h-3.6zM358.7 1182.1h3.6v3.6h-3.6zM354.1 1182.4h3.6v3.6h-3.6zM307.5 1182.7h3.6v3.6h-3.6zM327.5 1181.2h3.6v3.6h-3.6zM289.6 1181.9h3.6v3.6h-3.6zM322 1182.2h3.6v3.6h-3.6zM285.3 1181.1h3.6v3.6h-3.6zM288.6 1182.6h3.6v3.6h-3.6zM289.5 1182.4h3.6v3.6h-3.6zM304.2 1182.9h3.6v3.6h-3.6zM304.9 1181.7h3.6v3.6h-3.6zM337.2 1181.9h3.6v3.6h-3.6zM285.7 1182.8h3.6v3.6h-3.6zM288.6 1181.8h3.6v3.6h-3.6zM333.3 1182.7h3.6v3.6h-3.6zM334.6 1181.8h3.6v3.6h-3.6zM337.7 1181.7h3.6v3.6h-3.6zM338.5 1181.6h3.6v3.6h-3.6zM333.8 1181.4h3.6v3.6h-3.6zM324.8 1181.9h3.6v3.6h-3.6zM340.2 1181.3h3.6v3.6h-3.6zM286.2 1182.7h3.6v3.6h-3.6zM296.8 1182.9h3.6v3.6h-3.6zM340.2 1181.2h3.6v3.6h-3.6zM284 1184.1h3.6v3.6h-3.6zM279.8 1184.5h3.6v3.6h-3.6zM355.8 1185.2h3.6v3.6h-3.6zM285.5 1185.6h3.6v3.6h-3.6zM335.2 1184.2h3.6v3.6h-3.6zM304.4 1184h3.6v3.6h-3.6zM295.7 1185.2h3.6v3.6h-3.6zM299.7 1184.8h3.6v3.6h-3.6zM336 1184.9h3.6v3.6h-3.6zM281 1185.6h3.6v3.6h-3.6zM350.3 1185.8h3.6v3.6h-3.6zM326 1185.9h3.6v3.6h-3.6zM298.8 1185.6h3.6v3.6h-3.6zM296.6 1184h3.6v3.6h-3.6zM333.1 1184.3h3.6v3.6h-3.6zM331 1185.2h3.6v3.6h-3.6zM305.6 1185.9h3.6v3.6h-3.6zM306.9 1184.2h3.6v3.6h-3.6zM317.5 1185h3.6v3.6h-3.6zM354.1 1184.8h3.6v3.6h-3.6zM323.6 1184.8h3.6v3.6h-3.6zM348.3 1184.5h3.6v3.6h-3.6zM332 1184.5h3.6v3.6h-3.6zM325.5 1184.5h3.6v3.6h-3.6zM319.6 1184.2h3.6v3.6h-3.6zM335.2 1185.1h3.6v3.6h-3.6zM319.8 1184.9h3.6v3.6h-3.6zM339 1185.4h3.6v3.6h-3.6zM294.4 1185.3h3.6v3.6h-3.6zM305.9 1185.9h3.6v3.6h-3.6zM351 1184.7h3.6v3.6h-3.6zM311.9 1185.8h3.6v3.6h-3.6zM348.5 1184.8h3.6v3.6h-3.6zM356.3 1185.3h3.6v3.6h-3.6zM326.9 1185.6h3.6v3.6h-3.6zM287.8 1184.8h3.6v3.6h-3.6zM341.5 1184.9h3.6v3.6h-3.6zM334 1185.3h3.6v3.6h-3.6zM303.3 1184.2h3.6v3.6h-3.6zM350.2 1185.1h3.6v3.6h-3.6zM319 1184.2h3.6v3.6h-3.6zM284.2 1184.4h3.6v3.6h-3.6zM330.5 1188.3h3.6v3.6h-3.6zM359.1 1187.1h3.6v3.6h-3.6zM361.3 1187.5h3.6v3.6h-3.6zM300.9 1187.6h3.6v3.6h-3.6zM291.5 1188.8h3.6v3.6h-3.6zM322 1187.1h3.6v3.6h-3.6zM315.6 1187.7h3.6v3.6h-3.6zM310.6 1187.4h3.6v3.6h-3.6zM342.4 1188.4h3.6v3.6h-3.6zM337.6 1188.6h3.6v3.6h-3.6zM325.5 1187.1h3.6v3.6h-3.6zM330.4 1188.7h3.6v3.6h-3.6zM327.2 1188.4h3.6v3.6h-3.6zM334.9 1187.4h3.6v3.6h-3.6zM355.5 1188.8h3.6v3.6h-3.6zM357 1187.6h3.6v3.6h-3.6zM359.7 1188.6h3.6v3.6h-3.6zM349.9 1187.1h3.6v3.6h-3.6zM288.1 1187.9h3.6v3.6h-3.6zM316.5 1188h3.6v3.6h-3.6zM343.5 1188.8h3.6v3.6h-3.6zM303.6 1188.7h3.6v3.6h-3.6zM329.2 1188.1h3.6v3.6h-3.6zM284 1187.1h3.6v3.6h-3.6zM296.2 1187.9h3.6v3.6h-3.6zM312.3 1187.8h3.6v3.6h-3.6zM285.2 1189h3.6v3.6h-3.6zM314.3 1188.4h3.6v3.6h-3.6zM298.3 1187.8h3.6v3.6h-3.6zM350.1 1187.7h3.6v3.6h-3.6zM305.6 1188.5h3.6v3.6h-3.6zM310.7 1187.2h3.6v3.6h-3.6zM345.2 1188.6h3.6v3.6h-3.6zM325.3 1188.3h3.6v3.6h-3.6zM283.6 1187.9h3.6v3.6h-3.6zM297.3 1188.4h3.6v3.6h-3.6zM329.5 1187.8h3.6v3.6h-3.6zM295.8 1187.3h3.6v3.6h-3.6zM299.8 1187.8h3.6v3.6h-3.6zM330.5 1187.1h3.6v3.6h-3.6zM320 1187.2h3.6v3.6h-3.6zM301.5 1187.9h3.6v3.6h-3.6zM325.3 1188.7h3.6v3.6h-3.6zM296.2 1190.7h3.6v3.6h-3.6zM320.5 1191.8h3.6v3.6h-3.6zM359.7 1191h3.6v3.6h-3.6zM347.3 1190.1h3.6v3.6h-3.6zM353.4 1191.4h3.6v3.6h-3.6zM334.8 1191h3.6v3.6h-3.6zM327.7 1191.6h3.6v3.6h-3.6zM327.2 1190.1h3.6v3.6h-3.6zM328.7 1191.7h3.6v3.6h-3.6zM317.6 1191.8h3.6v3.6h-3.6zM309 1190h3.6v3.6h-3.6zM299 1191h3.6v3.6h-3.6zM284.8 1190.2h3.6v3.6h-3.6zM309.7 1191.1h3.6v3.6h-3.6zM342.6 1190.2h3.6v3.6h-3.6zM324.8 1191.8h3.6v3.6h-3.6zM292.9 1190.4h3.6v3.6h-3.6zM346.2 1191.3h3.6v3.6h-3.6zM282.9 1191.3h3.6v3.6h-3.6zM355.8 1190.6h3.6v3.6h-3.6zM332.9 1190.4h3.6v3.6h-3.6zM325 1191.8h3.6v3.6h-3.6zM313.3 1190.1h3.6v3.6h-3.6zM347.1 1190.5h3.6v3.6h-3.6zM280.1 1190.7h3.6v3.6h-3.6zM280.8 1191.2h3.6v3.6h-3.6zM322.1 1190.7h3.6v3.6h-3.6zM303.8 1190.2h3.6v3.6h-3.6zM312.4 1191.1h3.6v3.6h-3.6zM323.4 1191.4h3.6v3.6h-3.6zM283.1 1191.4h3.6v3.6h-3.6zM360 1191h3.6v3.6h-3.6zM335 1190.6h3.6v3.6h-3.6zM287.6 1190h3.6v3.6h-3.6zM340 1191.1h3.6v3.6h-3.6zM323.1 1191.3h3.6v3.6h-3.6zM335.8 1190.9h3.6v3.6h-3.6zM339.9 1191.9h3.6v3.6h-3.6zM360.7 1190.4h3.6v3.6h-3.6zM289.2 1191.6h3.6v3.6h-3.6zM361.1 1191.4h3.6v3.6h-3.6zM318.6 1191.8h3.6v3.6h-3.6zM296 1191.8h3.6v3.6h-3.6zM310.1 1190.5h3.6v3.6h-3.6zM355 1195h3.6v3.6h-3.6zM312.5 1194.4h3.6v3.6h-3.6zM335.1 1194.1h3.6v3.6h-3.6zM357.5 1194.7h3.6v3.6h-3.6zM328.3 1193.9h3.6v3.6h-3.6zM327.2 1193h3.6v3.6h-3.6zM285.3 1193.5h3.6v3.6h-3.6zM328.4 1194.2h3.6v3.6h-3.6zM299.2 1194.9h3.6v3.6h-3.6zM311.3 1194.2h3.6v3.6h-3.6zM310.4 1193.6h3.6v3.6h-3.6zM359.2 1195h3.6v3.6h-3.6zM331.7 1193.8h3.6v3.6h-3.6zM338.9 1193.5h3.6v3.6h-3.6zM293.6 1194.1h3.6v3.6h-3.6zM304.4 1193.7h3.6v3.6h-3.6zM351.4 1193.2h3.6v3.6h-3.6zM289.3 1194.4h3.6v3.6h-3.6zM357.6 1194.4h3.6v3.6h-3.6zM314.5 1194.9h3.6v3.6h-3.6zM311.4 1193.3h3.6v3.6h-3.6zM321.6 1194.8h3.6v3.6h-3.6zM315.8 1194.6h3.6v3.6h-3.6zM318 1193.5h3.6v3.6h-3.6zM314.2 1194h3.6v3.6h-3.6zM337 1194.3h3.6v3.6h-3.6zM302.1 1193.6h3.6v3.6h-3.6zM293.1 1193.2h3.6v3.6h-3.6zM315.1 1194.7h3.6v3.6h-3.6zM286.7 1193.3h3.6v3.6h-3.6zM316.1 1194h3.6v3.6h-3.6zM320 1193.9h3.6v3.6h-3.6zM343.7 1194.8h3.6v3.6h-3.6zM288.4 1194.1h3.6v3.6h-3.6zM312 1193.8h3.6v3.6h-3.6zM343.4 1195h3.6v3.6h-3.6zM307.2 1193.7h3.6v3.6h-3.6zM348 1194.5h3.6v3.6h-3.6zM338.3 1193.5h3.6v3.6h-3.6zM282.9 1194.5h3.6v3.6h-3.6zM311.1 1194.5h3.6v3.6h-3.6zM342.3 1194.7h3.6v3.6h-3.6zM322.6 1194h3.6v3.6h-3.6zM334.6 1193.4h3.6v3.6h-3.6zM331.3 1196.8h3.6v3.6h-3.6zM354 1196h3.6v3.6h-3.6zM304.9 1196.2h3.6v3.6h-3.6zM281.2 1197.3h3.6v3.6h-3.6zM294.7 1196.9h3.6v3.6h-3.6zM355.9 1196.2h3.6v3.6h-3.6zM280 1197.8h3.6v3.6h-3.6zM283.9 1196.7h3.6v3.6h-3.6zM287.6 1197.8h3.6v3.6h-3.6zM352.5 1197.2h3.6v3.6h-3.6zM310.9 1197.2h3.6v3.6h-3.6zM336.1 1196.8h3.6v3.6h-3.6zM337.3 1197.3h3.6v3.6h-3.6zM315 1196.5h3.6v3.6h-3.6zM339.5 1196.5h3.6v3.6h-3.6zM317.3 1197.7h3.6v3.6h-3.6zM323.9 1196.4h3.6v3.6h-3.6zM304.6 1196.8h3.6v3.6h-3.6zM279.7 1197.5h3.6v3.6h-3.6zM328.1 1196.7h3.6v3.6h-3.6zM301.3 1196.7h3.6v3.6h-3.6zM302 1197.8h3.6v3.6h-3.6zM351.5 1196.4h3.6v3.6h-3.6zM309.1 1196.5h3.6v3.6h-3.6zM287.9 1197.8h3.6v3.6h-3.6zM331.1 1196.6h3.6v3.6h-3.6zM323.6 1196.7h3.6v3.6h-3.6zM284.2 1197.8h3.6v3.6h-3.6zM308.1 1196.6h3.6v3.6h-3.6zM329.6 1198h3.6v3.6h-3.6zM302.4 1197.6h3.6v3.6h-3.6zM360.3 1197.7h3.6v3.6h-3.6zM344.9 1196.5h3.6v3.6h-3.6zM320.8 1196.4h3.6v3.6h-3.6zM354.5 1197.5h3.6v3.6h-3.6zM282.3 1197.7h3.6v3.6h-3.6zM297.9 1196.4h3.6v3.6h-3.6zM354.4 1196.4h3.6v3.6h-3.6zM321.2 1196.5h3.6v3.6h-3.6zM293.4 1196.3h3.6v3.6h-3.6zM326.2 1196.8h3.6v3.6h-3.6zM339.3 1197h3.6v3.6h-3.6zM328.9 1197.3h3.6v3.6h-3.6zM283.3 1196.1h3.6v3.6h-3.6zM282.5 1196.4h3.6v3.6h-3.6zM378.4 1109.5h3.6v3.6h-3.6zM383.6 1113.9h3.6v3.6h-3.6zM397.8 1115.3h3.6v3.6h-3.6zM420.1 1119.9h3.6v3.6h-3.6zM429.8 1122.3h3.6v3.6h-3.6zM398.2 1124.8h3.6v3.6h-3.6zM392.4 1128.6h3.6v3.6h-3.6zM430.5 1131h3.6v3.6h-3.6zM434.9 1134.3h3.6v3.6h-3.6zM421.5 1136.5h3.6v3.6h-3.6zM387.8 1139.5h3.6v3.6h-3.6zM438.8 1143.8h3.6v3.6h-3.6zM430.2 1143.6h3.6v3.6h-3.6zM430.6 1146.5h3.6v3.6h-3.6zM402.6 1145.3h3.6v3.6h-3.6zM419.3 1149.9h3.6v3.6h-3.6zM372.7 1149.8h3.6v3.6h-3.6zM382 1151.1h3.6v3.6h-3.6zM427.8 1152.1h3.6v3.6h-3.6zM432 1151.8h3.6v3.6h-3.6zM416.5 1155.1h3.6v3.6h-3.6zM436.8 1155.1h3.6v3.6h-3.6zM424.4 1154h3.6v3.6h-3.6zM385.5 1154.3h3.6v3.6h-3.6zM396.8 1157.9h3.6v3.6h-3.6zM383 1158.3h3.6v3.6h-3.6zM387.5 1158.5h3.6v3.6h-3.6zM420.8 1158.3h3.6v3.6h-3.6zM442.5 1158.3h3.6v3.6h-3.6zM369.6 1160.6h3.6v3.6h-3.6zM435.5 1161.9h3.6v3.6h-3.6zM381.7 1161.3h3.6v3.6h-3.6zM383.2 1161.7h3.6v3.6h-3.6zM408.2 1161h3.6v3.6h-3.6zM414 1160.1h3.6v3.6h-3.6zM426.8 1160h3.6v3.6h-3.6zM418.1 1164.7h3.6v3.6h-3.6zM401.8 1163.8h3.6v3.6h-3.6zM402.9 1164.5h3.6v3.6h-3.6zM394.2 1164.2h3.6v3.6h-3.6zM383 1163.9h3.6v3.6h-3.6zM405.5 1164.6h3.6v3.6h-3.6zM388.8 1164.7h3.6v3.6h-3.6zM437.3 1163.4h3.6v3.6h-3.6zM383.1 1164.8h3.6v3.6h-3.6zM442.9 1163.1h3.6v3.6h-3.6zM369.9 1167.4h3.6v3.6h-3.6zM406.2 1166h3.6v3.6h-3.6zM392.4 1167.5h3.6v3.6h-3.6zM401.6 1167.5h3.6v3.6h-3.6zM405.9 1166.8h3.6v3.6h-3.6zM405 1166.5h3.6v3.6h-3.6zM438.4 1167.1h3.6v3.6h-3.6zM439.2 1166.6h3.6v3.6h-3.6zM395.8 1167.6h3.6v3.6h-3.6zM391.3 1167.2h3.6v3.6h-3.6zM419.1 1166.6h3.6v3.6h-3.6zM384.6 1167.6h3.6v3.6h-3.6zM399.9 1167.2h3.6v3.6h-3.6zM379.5 1169.8h3.6v3.6h-3.6zM400.9 1169.2h3.6v3.6h-3.6zM406.7 1170h3.6v3.6h-3.6zM441.2 1170.5h3.6v3.6h-3.6zM393.8 1169.6h3.6v3.6h-3.6zM403.5 1169.3h3.6v3.6h-3.6zM443.6 1169.7h3.6v3.6h-3.6zM401.8 1169.3h3.6v3.6h-3.6zM432.3 1170.7h3.6v3.6h-3.6zM376.9 1169.2h3.6v3.6h-3.6zM399.4 1170.5h3.6v3.6h-3.6zM383.5 1169.7h3.6v3.6h-3.6zM436.6 1170.5h3.6v3.6h-3.6zM411.4 1170.5h3.6v3.6h-3.6zM386.1 1169.3h3.6v3.6h-3.6zM376.5 1170.5h3.6v3.6h-3.6zM441.3 1172.4h3.6v3.6h-3.6zM412.5 1173.6h3.6v3.6h-3.6zM418.5 1172.5h3.6v3.6h-3.6zM394 1173.5h3.6v3.6h-3.6zM382.7 1172.7h3.6v3.6h-3.6zM426 1173.3h3.6v3.6h-3.6zM431.8 1173.4h3.6v3.6h-3.6zM385.1 1173.8h3.6v3.6h-3.6zM378.1 1173.7h3.6v3.6h-3.6zM396.2 1172.9h3.6v3.6h-3.6zM417 1173.4h3.6v3.6h-3.6zM397.2 1172.4h3.6v3.6h-3.6zM442.7 1172.2h3.6v3.6h-3.6zM429.6 1173.4h3.6v3.6h-3.6zM439 1173.8h3.6v3.6h-3.6zM415 1173.5h3.6v3.6h-3.6zM426.9 1173h3.6v3.6h-3.6zM441.7 1173.3h3.6v3.6h-3.6zM372.2 1173.5h3.6v3.6h-3.6zM413.1 1173.1h3.6v3.6h-3.6zM397.1 1175h3.6v3.6h-3.6zM434.1 1176h3.6v3.6h-3.6zM397.5 1176h3.6v3.6h-3.6zM438.1 1176.7h3.6v3.6h-3.6zM430.2 1175.4h3.6v3.6h-3.6zM429.7 1176.7h3.6v3.6h-3.6zM432.8 1175.5h3.6v3.6h-3.6zM444.4 1176.1h3.6v3.6h-3.6zM444.6 1176.4h3.6v3.6h-3.6zM407.6 1175.3h3.6v3.6h-3.6zM398.1 1176.9h3.6v3.6h-3.6zM425.1 1176.9h3.6v3.6h-3.6zM443 1176.9h3.6v3.6h-3.6zM417.3 1175h3.6v3.6h-3.6zM371.5 1176.3h3.6v3.6h-3.6zM372.4 1176.3h3.6v3.6h-3.6zM404.7 1176.8h3.6v3.6h-3.6zM429.3 1175.4h3.6v3.6h-3.6zM436.9 1175.2h3.6v3.6h-3.6zM398 1176.6h3.6v3.6h-3.6zM408.8 1175.5h3.6v3.6h-3.6zM408.4 1175.1h3.6v3.6h-3.6zM376.7 1175.2h3.6v3.6h-3.6zM418.5 1179.8h3.6v3.6h-3.6zM410.2 1179.9h3.6v3.6h-3.6zM426.3 1178.5h3.6v3.6h-3.6zM430.8 1179.3h3.6v3.6h-3.6zM369.7 1178h3.6v3.6h-3.6zM440.3 1178.8h3.6v3.6h-3.6zM436.3 1179.4h3.6v3.6h-3.6zM440.3 1178.7h3.6v3.6h-3.6zM427.8 1179.6h3.6v3.6h-3.6zM398.6 1179.8h3.6v3.6h-3.6zM388.3 1178.3h3.6v3.6h-3.6zM438.8 1179.4h3.6v3.6h-3.6zM401.4 1178.8h3.6v3.6h-3.6zM406.5 1178.3h3.6v3.6h-3.6zM422.5 1178.7h3.6v3.6h-3.6zM421.7 1179h3.6v3.6h-3.6zM422.1 1179.8h3.6v3.6h-3.6zM416.8 1179.5h3.6v3.6h-3.6zM408.1 1178h3.6v3.6h-3.6zM427.7 1178.1h3.6v3.6h-3.6zM399.5 1180h3.6v3.6h-3.6zM389.4 1179.1h3.6v3.6h-3.6zM438.5 1179.2h3.6v3.6h-3.6zM433.7 1178.7h3.6v3.6h-3.6zM424 1179.7h3.6v3.6h-3.6zM382.3 1179.1h3.6v3.6h-3.6zM373 1179.2h3.6v3.6h-3.6zM388.4 1181.8h3.6v3.6h-3.6zM428.5 1182.5h3.6v3.6h-3.6zM385.8 1182.7h3.6v3.6h-3.6zM379.9 1181.4h3.6v3.6h-3.6zM414.8 1182.9h3.6v3.6h-3.6zM432.7 1181.2h3.6v3.6h-3.6zM391.7 1182.3h3.6v3.6h-3.6zM392.4 1181.5h3.6v3.6h-3.6zM380.8 1181.4h3.6v3.6h-3.6zM415.3 1181.3h3.6v3.6h-3.6zM428 1182.9h3.6v3.6h-3.6zM379 1181.3h3.6v3.6h-3.6zM410.1 1182.8h3.6v3.6h-3.6zM410.5 1181.3h3.6v3.6h-3.6zM377.6 1181.7h3.6v3.6h-3.6zM409.7 1181.4h3.6v3.6h-3.6zM390.1 1183h3.6v3.6h-3.6zM384.6 1181.2h3.6v3.6h-3.6zM444.3 1182.7h3.6v3.6h-3.6zM376.4 1181.6h3.6v3.6h-3.6zM395.6 1182.9h3.6v3.6h-3.6zM416.5 1182.5h3.6v3.6h-3.6zM400.2 1181.5h3.6v3.6h-3.6zM370.9 1182h3.6v3.6h-3.6zM435.2 1181.3h3.6v3.6h-3.6zM387.7 1181.8h3.6v3.6h-3.6zM400.8 1181.1h3.6v3.6h-3.6zM438.5 1182.4h3.6v3.6h-3.6zM443.1 1182.2h3.6v3.6h-3.6zM438.9 1181.5h3.6v3.6h-3.6zM370.5 1184.5h3.6v3.6h-3.6zM440.8 1184.2h3.6v3.6h-3.6zM379 1185.2h3.6v3.6h-3.6zM394.4 1185.9h3.6v3.6h-3.6zM371.4 1185.8h3.6v3.6h-3.6zM398.6 1185.2h3.6v3.6h-3.6zM400 1184.9h3.6v3.6h-3.6zM410 1186h3.6v3.6h-3.6zM394.1 1185.3h3.6v3.6h-3.6zM388.5 1185.9h3.6v3.6h-3.6zM429.1 1185.4h3.6v3.6h-3.6zM390.7 1185.4h3.6v3.6h-3.6zM394.7 1185.4h3.6v3.6h-3.6zM406.8 1184.3h3.6v3.6h-3.6zM390.3 1184.5h3.6v3.6h-3.6zM424.6 1184.1h3.6v3.6h-3.6zM375.9 1185.9h3.6v3.6h-3.6zM394 1186h3.6v3.6h-3.6zM401.4 1185.2h3.6v3.6h-3.6zM389.1 1184.3h3.6v3.6h-3.6zM433.2 1184.2h3.6v3.6h-3.6zM396.4 1184.9h3.6v3.6h-3.6zM401.4 1184.8h3.6v3.6h-3.6zM405.1 1184.4h3.6v3.6h-3.6zM432.5 1184.2h3.6v3.6h-3.6zM386.1 1185.3h3.6v3.6h-3.6zM432.4 1185.6h3.6v3.6h-3.6zM441.5 1184.1h3.6v3.6h-3.6zM389.7 1184.6h3.6v3.6h-3.6zM382.3 1184.6h3.6v3.6h-3.6zM429.4 1185.1h3.6v3.6h-3.6zM393.2 1185.2h3.6v3.6h-3.6zM400.7 1188.8h3.6v3.6h-3.6zM435.2 1188.5h3.6v3.6h-3.6zM399.2 1188h3.6v3.6h-3.6zM392.5 1187.4h3.6v3.6h-3.6zM427.7 1188.4h3.6v3.6h-3.6zM433.4 1188.7h3.6v3.6h-3.6zM436.1 1188.9h3.6v3.6h-3.6zM382.3 1187.3h3.6v3.6h-3.6zM384.4 1187.2h3.6v3.6h-3.6zM404.6 1188.3h3.6v3.6h-3.6zM442.9 1188.7h3.6v3.6h-3.6zM416.6 1187.2h3.6v3.6h-3.6zM416.8 1188.2h3.6v3.6h-3.6zM394.3 1187.5h3.6v3.6h-3.6zM444.7 1189h3.6v3.6h-3.6zM383.4 1187.7h3.6v3.6h-3.6zM411.9 1187.2h3.6v3.6h-3.6zM420.7 1188.6h3.6v3.6h-3.6zM431 1187.6h3.6v3.6h-3.6zM431.2 1187.8h3.6v3.6h-3.6zM398.8 1187.3h3.6v3.6h-3.6zM390.1 1187.7h3.6v3.6h-3.6zM443.9 1187.3h3.6v3.6h-3.6zM411.5 1187.5h3.6v3.6h-3.6zM390.9 1188.2h3.6v3.6h-3.6zM380 1187.6h3.6v3.6h-3.6zM430.5 1188.3h3.6v3.6h-3.6zM433.9 1188.8h3.6v3.6h-3.6zM412.7 1188.2h3.6v3.6h-3.6zM398.6 1187.1h3.6v3.6h-3.6zM419.6 1188.9h3.6v3.6h-3.6zM443.9 1187.4h3.6v3.6h-3.6zM413.4 1187.7h3.6v3.6h-3.6zM429.2 1188.1h3.6v3.6h-3.6zM416.5 1190.9h3.6v3.6h-3.6zM395.5 1191.7h3.6v3.6h-3.6zM402.9 1191h3.6v3.6h-3.6zM417.1 1191.2h3.6v3.6h-3.6zM404.2 1190.2h3.6v3.6h-3.6zM391 1190.1h3.6v3.6h-3.6zM400.7 1191.9h3.6v3.6h-3.6zM398.7 1190.7h3.6v3.6h-3.6zM391.7 1191.9h3.6v3.6h-3.6zM415.1 1190.7h3.6v3.6h-3.6zM408.4 1191.3h3.6v3.6h-3.6zM400.7 1191.3h3.6v3.6h-3.6zM423.3 1190.2h3.6v3.6h-3.6zM431.2 1190.1h3.6v3.6h-3.6zM418.7 1190.9h3.6v3.6h-3.6zM395.4 1190.3h3.6v3.6h-3.6zM440.6 1190.6h3.6v3.6h-3.6zM377.4 1190.4h3.6v3.6h-3.6zM430.6 1190.6h3.6v3.6h-3.6zM401.5 1190.9h3.6v3.6h-3.6zM399.6 1190.6h3.6v3.6h-3.6zM433.5 1190.7h3.6v3.6h-3.6zM419.2 1191h3.6v3.6h-3.6zM443.4 1191.4h3.6v3.6h-3.6zM436.1 1190.1h3.6v3.6h-3.6zM378.3 1192h3.6v3.6h-3.6zM407.7 1190.9h3.6v3.6h-3.6zM427.8 1191.8h3.6v3.6h-3.6zM375.8 1190h3.6v3.6h-3.6zM410.7 1190.1h3.6v3.6h-3.6zM444.9 1190.2h3.6v3.6h-3.6zM387.6 1191.8h3.6v3.6h-3.6zM378.4 1190.8h3.6v3.6h-3.6zM391.5 1191.7h3.6v3.6h-3.6zM395.6 1191.4h3.6v3.6h-3.6zM391.2 1190.2h3.6v3.6h-3.6zM397 1194.4h3.6v3.6h-3.6zM394.7 1194.8h3.6v3.6h-3.6zM403.9 1194.9h3.6v3.6h-3.6zM426.7 1194.6h3.6v3.6h-3.6zM375.8 1193.7h3.6v3.6h-3.6zM439.8 1194.8h3.6v3.6h-3.6zM405.7 1194.4h3.6v3.6h-3.6zM397.3 1193.3h3.6v3.6h-3.6zM422.5 1194.9h3.6v3.6h-3.6zM390.5 1193.5h3.6v3.6h-3.6zM423.6 1194.4h3.6v3.6h-3.6zM401.1 1194.4h3.6v3.6h-3.6zM405.8 1194.8h3.6v3.6h-3.6zM383.9 1194.3h3.6v3.6h-3.6zM384.9 1195h3.6v3.6h-3.6zM434.9 1193.1h3.6v3.6h-3.6zM413.2 1193.1h3.6v3.6h-3.6zM401.6 1193.4h3.6v3.6h-3.6zM428.3 1194.2h3.6v3.6h-3.6zM438.7 1193.8h3.6v3.6h-3.6zM381.6 1193.2h3.6v3.6h-3.6zM445.2 1193.4h3.6v3.6h-3.6zM370.6 1194.2h3.6v3.6h-3.6zM416.1 1193.8h3.6v3.6h-3.6zM389.5 1194.5h3.6v3.6h-3.6zM388.6 1193.9h3.6v3.6h-3.6zM407 1194.8h3.6v3.6h-3.6zM415.4 1194.5h3.6v3.6h-3.6zM402.7 1194h3.6v3.6h-3.6zM423.7 1193.7h3.6v3.6h-3.6zM441.6 1193.4h3.6v3.6h-3.6zM382.3 1193.6h3.6v3.6h-3.6zM387.5 1193.7h3.6v3.6h-3.6zM415.8 1193.7h3.6v3.6h-3.6zM400.6 1193.4h3.6v3.6h-3.6zM393.4 1193.9h3.6v3.6h-3.6zM407.8 1193.2h3.6v3.6h-3.6zM435.4 1196.3h3.6v3.6h-3.6zM411.3 1196.1h3.6v3.6h-3.6zM376.7 1197.1h3.6v3.6h-3.6zM394.4 1197.9h3.6v3.6h-3.6zM388.9 1196.1h3.6v3.6h-3.6zM381.4 1197.3h3.6v3.6h-3.6zM406 1196.1h3.6v3.6h-3.6zM383.4 1197.1h3.6v3.6h-3.6zM381 1196.2h3.6v3.6h-3.6zM422.8 1197.3h3.6v3.6h-3.6zM402.1 1196.7h3.6v3.6h-3.6zM420.5 1197.3h3.6v3.6h-3.6zM405.2 1196.5h3.6v3.6h-3.6zM407.8 1196.1h3.6v3.6h-3.6zM393.1 1196.4h3.6v3.6h-3.6zM401.9 1196.5h3.6v3.6h-3.6zM406 1196.3h3.6v3.6h-3.6zM395.5 1196.4h3.6v3.6h-3.6zM432.2 1197.1h3.6v3.6h-3.6zM388.2 1196.9h3.6v3.6h-3.6zM386.2 1197.7h3.6v3.6h-3.6zM395.6 1197h3.6v3.6h-3.6zM429.1 1197.1h3.6v3.6h-3.6zM433.8 1197.4h3.6v3.6h-3.6zM412.4 1197.7h3.6v3.6h-3.6zM396.9 1197.2h3.6v3.6h-3.6zM418.7 1196.1h3.6v3.6h-3.6zM432.2 1196.9h3.6v3.6h-3.6zM387.9 1196.1h3.6v3.6h-3.6zM420.2 1197.2h3.6v3.6h-3.6zM423.4 1196.1h3.6v3.6h-3.6zM399.1 1197.1h3.6v3.6h-3.6zM380.5 1196.3h3.6v3.6h-3.6zM415.6 1197.7h3.6v3.6h-3.6zM385.5 1196.2h3.6v3.6h-3.6zM397.4 1197.3h3.6v3.6h-3.6zM410.8 1197.4h3.6v3.6h-3.6zM442.6 1196.6h3.6v3.6h-3.6zM508 1109.7h3.6v3.6h-3.6zM477.3 1112.5h3.6v3.6h-3.6zM455 1116.3h3.6v3.6h-3.6zM460.1 1118.4h3.6v3.6h-3.6zM461.5 1122.6h3.6v3.6h-3.6zM502.2 1124.9h3.6v3.6h-3.6zM507.1 1128.6h3.6v3.6h-3.6zM510.9 1131h3.6v3.6h-3.6zM482.3 1134h3.6v3.6h-3.6zM544.2 1137.1h3.6v3.6h-3.6zM497.4 1139.1h3.6v3.6h-3.6zM535.1 1139.1h3.6v3.6h-3.6zM526 1142.1h3.6v3.6h-3.6zM540.1 1142h3.6v3.6h-3.6zM454.4 1145.3h3.6v3.6h-3.6zM506.5 1146.1h3.6v3.6h-3.6zM514.5 1148.5h3.6v3.6h-3.6zM454.9 1149.1h3.6v3.6h-3.6zM533.5 1148.7h3.6v3.6h-3.6zM485 1151.5h3.6v3.6h-3.6zM490.6 1151.7h3.6v3.6h-3.6zM453.8 1151.3h3.6v3.6h-3.6zM492.9 1151.7h3.6v3.6h-3.6zM517.8 1154.2h3.6v3.6h-3.6zM543.9 1154h3.6v3.6h-3.6zM471.6 1155.8h3.6v3.6h-3.6zM533.1 1154.5h3.6v3.6h-3.6zM510 1154.2h3.6v3.6h-3.6zM513.7 1157.4h3.6v3.6h-3.6zM518.4 1158.3h3.6v3.6h-3.6zM535.8 1158.9h3.6v3.6h-3.6zM499.5 1157.2h3.6v3.6h-3.6zM482.2 1157.8h3.6v3.6h-3.6zM482.7 1157.7h3.6v3.6h-3.6zM460.9 1161.3h3.6v3.6h-3.6zM508.2 1160.4h3.6v3.6h-3.6zM543.8 1160.6h3.6v3.6h-3.6zM478.9 1160.2h3.6v3.6h-3.6zM520.3 1161.8h3.6v3.6h-3.6zM536.3 1161.6h3.6v3.6h-3.6zM478.4 1160.2h3.6v3.6h-3.6zM538 1161.1h3.6v3.6h-3.6zM522.3 1160.4h3.6v3.6h-3.6zM523.9 1163.3h3.6v3.6h-3.6zM506.2 1163.7h3.6v3.6h-3.6zM540.4 1163.5h3.6v3.6h-3.6zM520.3 1164h3.6v3.6h-3.6zM462.8 1164.8h3.6v3.6h-3.6zM487.8 1164.9h3.6v3.6h-3.6zM506.5 1163.3h3.6v3.6h-3.6zM537.3 1164.1h3.6v3.6h-3.6zM487.6 1164.3h3.6v3.6h-3.6zM470.8 1163.3h3.6v3.6h-3.6zM479.5 1164.1h3.6v3.6h-3.6zM476.3 1163.4h3.6v3.6h-3.6zM487 1167.5h3.6v3.6h-3.6zM483.3 1166.8h3.6v3.6h-3.6zM528.4 1167.7h3.6v3.6h-3.6zM475 1166.5h3.6v3.6h-3.6zM503.1 1166.5h3.6v3.6h-3.6zM507.3 1167.7h3.6v3.6h-3.6zM483.8 1166.7h3.6v3.6h-3.6zM538.9 1166.2h3.6v3.6h-3.6zM484 1166.4h3.6v3.6h-3.6zM483.5 1167.5h3.6v3.6h-3.6zM517.2 1166.5h3.6v3.6h-3.6zM498.3 1167.1h3.6v3.6h-3.6zM520.1 1167.7h3.6v3.6h-3.6zM467.5 1167.2h3.6v3.6h-3.6zM467.1 1167.5h3.6v3.6h-3.6zM543.3 1170.2h3.6v3.6h-3.6zM481 1170.1h3.6v3.6h-3.6zM534 1170.2h3.6v3.6h-3.6zM504.1 1169.4h3.6v3.6h-3.6zM472 1169.3h3.6v3.6h-3.6zM465.6 1169h3.6v3.6h-3.6zM483.6 1170.7h3.6v3.6h-3.6zM466.2 1169h3.6v3.6h-3.6zM524.4 1169.5h3.6v3.6h-3.6zM504.7 1170.2h3.6v3.6h-3.6zM457.6 1170h3.6v3.6h-3.6zM534.2 1170.8h3.6v3.6h-3.6zM508.3 1169.4h3.6v3.6h-3.6zM494.2 1169.2h3.6v3.6h-3.6zM466.5 1169.3h3.6v3.6h-3.6zM496.7 1170h3.6v3.6h-3.6zM537.8 1169.6h3.6v3.6h-3.6zM507.2 1169.9h3.6v3.6h-3.6zM495.7 1170.4h3.6v3.6h-3.6zM483 1172.1h3.6v3.6h-3.6zM514.6 1173.2h3.6v3.6h-3.6zM455.3 1173.5h3.6v3.6h-3.6zM503.7 1172.2h3.6v3.6h-3.6zM536.9 1172.8h3.6v3.6h-3.6zM539.3 1172.1h3.6v3.6h-3.6zM506 1172h3.6v3.6h-3.6zM543.8 1172.7h3.6v3.6h-3.6zM475.1 1172.6h3.6v3.6h-3.6zM480.9 1173.8h3.6v3.6h-3.6zM494.7 1172h3.6v3.6h-3.6zM500.3 1173.3h3.6v3.6h-3.6zM528.8 1173.5h3.6v3.6h-3.6zM494.6 1172.8h3.6v3.6h-3.6zM457.9 1173h3.6v3.6h-3.6zM517.8 1172.5h3.6v3.6h-3.6zM474 1172.5h3.6v3.6h-3.6zM534.6 1172.1h3.6v3.6h-3.6zM473 1173.8h3.6v3.6h-3.6zM480.7 1172.1h3.6v3.6h-3.6zM466.1 1172.3h3.6v3.6h-3.6zM481.3 1173.4h3.6v3.6h-3.6zM508.7 1172.9h3.6v3.6h-3.6zM478.1 1173h3.6v3.6h-3.6zM480.6 1175.3h3.6v3.6h-3.6zM468.3 1175.1h3.6v3.6h-3.6zM526.9 1175.5h3.6v3.6h-3.6zM464.9 1175.2h3.6v3.6h-3.6zM480.7 1176.4h3.6v3.6h-3.6zM522.6 1176.4h3.6v3.6h-3.6zM480.9 1176.2h3.6v3.6h-3.6zM540.9 1175.8h3.6v3.6h-3.6zM469.6 1175.9h3.6v3.6h-3.6zM502 1175.5h3.6v3.6h-3.6zM502.9 1176.8h3.6v3.6h-3.6zM499.5 1175h3.6v3.6h-3.6zM524.7 1175.6h3.6v3.6h-3.6zM457.7 1176.1h3.6v3.6h-3.6zM503.7 1175.4h3.6v3.6h-3.6zM526.1 1176.7h3.6v3.6h-3.6zM458.2 1176h3.6v3.6h-3.6zM503.7 1175.7h3.6v3.6h-3.6zM494 1175.1h3.6v3.6h-3.6zM490.7 1175.6h3.6v3.6h-3.6zM502.9 1176.2h3.6v3.6h-3.6zM510.9 1175.6h3.6v3.6h-3.6zM518.2 1175.1h3.6v3.6h-3.6zM536 1176.2h3.6v3.6h-3.6zM513.8 1175.6h3.6v3.6h-3.6zM545.3 1176.7h3.6v3.6h-3.6zM514.6 1176.4h3.6v3.6h-3.6zM478.2 1176.4h3.6v3.6h-3.6zM535.3 1179h3.6v3.6h-3.6zM527.9 1179.1h3.6v3.6h-3.6zM483.8 1179.6h3.6v3.6h-3.6zM505.8 1178.1h3.6v3.6h-3.6zM477.3 1178.7h3.6v3.6h-3.6zM472 1179h3.6v3.6h-3.6zM472.4 1179.2h3.6v3.6h-3.6zM463.7 1178.3h3.6v3.6h-3.6zM475.5 1179.1h3.6v3.6h-3.6zM474.1 1179.4h3.6v3.6h-3.6zM515.3 1179.5h3.6v3.6h-3.6zM476.6 1178.4h3.6v3.6h-3.6zM457.8 1178.9h3.6v3.6h-3.6zM492.2 1178.6h3.6v3.6h-3.6zM472 1178.8h3.6v3.6h-3.6zM516.9 1178.7h3.6v3.6h-3.6zM473.9 1179.9h3.6v3.6h-3.6zM504.7 1178h3.6v3.6h-3.6zM469.7 1179.9h3.6v3.6h-3.6zM497.8 1178.1h3.6v3.6h-3.6zM533.2 1178.2h3.6v3.6h-3.6zM481.4 1178.4h3.6v3.6h-3.6zM501.9 1178.6h3.6v3.6h-3.6zM493.8 1179.7h3.6v3.6h-3.6zM459.9 1179.7h3.6v3.6h-3.6zM455.4 1179.9h3.6v3.6h-3.6zM530.9 1178.8h3.6v3.6h-3.6zM484.8 1178h3.6v3.6h-3.6zM516.5 1179.3h3.6v3.6h-3.6zM491.4 1179.8h3.6v3.6h-3.6zM530.5 1178.2h3.6v3.6h-3.6zM471.4 1179.7h3.6v3.6h-3.6zM453.7 1181.6h3.6v3.6h-3.6zM520.8 1181.5h3.6v3.6h-3.6zM498.8 1181.7h3.6v3.6h-3.6zM537 1182.5h3.6v3.6h-3.6zM533.9 1181.3h3.6v3.6h-3.6zM457.8 1183h3.6v3.6h-3.6zM499.3 1181.5h3.6v3.6h-3.6zM475.7 1181.5h3.6v3.6h-3.6zM493.9 1181.2h3.6v3.6h-3.6zM459.6 1181.8h3.6v3.6h-3.6zM486.6 1181.7h3.6v3.6h-3.6zM491 1182.4h3.6v3.6h-3.6zM453.9 1182.8h3.6v3.6h-3.6zM497.1 1181.5h3.6v3.6h-3.6zM535.7 1182.6h3.6v3.6h-3.6zM459.1 1181.6h3.6v3.6h-3.6zM540.3 1181.8h3.6v3.6h-3.6zM498.5 1181.3h3.6v3.6h-3.6zM472.9 1182.8h3.6v3.6h-3.6zM542.6 1181.7h3.6v3.6h-3.6zM497 1182.4h3.6v3.6h-3.6zM493.7 1181.1h3.6v3.6h-3.6zM488.1 1182.4h3.6v3.6h-3.6zM534.5 1181.5h3.6v3.6h-3.6zM465.4 1181.9h3.6v3.6h-3.6zM472.8 1182.3h3.6v3.6h-3.6zM479.5 1181.3h3.6v3.6h-3.6zM459.2 1182.1h3.6v3.6h-3.6zM531.1 1182.7h3.6v3.6h-3.6zM498.4 1181.3h3.6v3.6h-3.6zM508.8 1181.9h3.6v3.6h-3.6zM534.9 1181.4h3.6v3.6h-3.6zM499 1181.3h3.6v3.6h-3.6zM478.9 1182h3.6v3.6h-3.6zM502.3 1181.9h3.6v3.6h-3.6zM499.5 1182.3h3.6v3.6h-3.6zM532.3 1184.2h3.6v3.6h-3.6zM518.4 1184.9h3.6v3.6h-3.6zM484.4 1185.2h3.6v3.6h-3.6zM498.2 1184.5h3.6v3.6h-3.6zM515.4 1184.8h3.6v3.6h-3.6zM530.6 1184.7h3.6v3.6h-3.6zM516.2 1184.2h3.6v3.6h-3.6zM499.7 1184.1h3.6v3.6h-3.6zM465.8 1185.6h3.6v3.6h-3.6zM533.3 1184h3.6v3.6h-3.6zM479.4 1186h3.6v3.6h-3.6zM490.7 1185.8h3.6v3.6h-3.6zM534.8 1186h3.6v3.6h-3.6zM472.6 1185.6h3.6v3.6h-3.6zM537.5 1184h3.6v3.6h-3.6zM474.6 1184.2h3.6v3.6h-3.6zM461.5 1184.6h3.6v3.6h-3.6zM500.7 1184.4h3.6v3.6h-3.6zM526.6 1184.1h3.6v3.6h-3.6zM490.5 1185.8h3.6v3.6h-3.6zM530.9 1185.8h3.6v3.6h-3.6zM489.9 1185.5h3.6v3.6h-3.6zM528.4 1184.5h3.6v3.6h-3.6zM463.9 1185.7h3.6v3.6h-3.6zM479.5 1185.6h3.6v3.6h-3.6zM464.8 1184.6h3.6v3.6h-3.6zM521.5 1184.3h3.6v3.6h-3.6zM496.7 1184.3h3.6v3.6h-3.6zM513.8 1184.8h3.6v3.6h-3.6zM475.4 1185.7h3.6v3.6h-3.6zM521 1184.2h3.6v3.6h-3.6zM544.7 1184.9h3.6v3.6h-3.6zM460.8 1184.7h3.6v3.6h-3.6zM482.8 1185.8h3.6v3.6h-3.6zM533.4 1184.3h3.6v3.6h-3.6zM531.8 1185.3h3.6v3.6h-3.6zM533.6 1184.6h3.6v3.6h-3.6zM474.3 1185.3h3.6v3.6h-3.6zM505.3 1185.6h3.6v3.6h-3.6zM529.3 1187.2h3.6v3.6h-3.6zM531.2 1187.1h3.6v3.6h-3.6zM480.4 1187.3h3.6v3.6h-3.6zM478.9 1188.3h3.6v3.6h-3.6zM464.8 1187.2h3.6v3.6h-3.6zM477 1188.8h3.6v3.6h-3.6zM464.5 1188.6h3.6v3.6h-3.6zM525.5 1187.5h3.6v3.6h-3.6zM457.8 1188.4h3.6v3.6h-3.6zM471.1 1188.9h3.6v3.6h-3.6zM526.1 1187.2h3.6v3.6h-3.6zM524.1 1188.1h3.6v3.6h-3.6zM543 1187.9h3.6v3.6h-3.6zM488.8 1187.6h3.6v3.6h-3.6zM457.6 1187.6h3.6v3.6h-3.6zM527.8 1187.2h3.6v3.6h-3.6zM479.8 1188.3h3.6v3.6h-3.6zM524.6 1187.4h3.6v3.6h-3.6zM455.3 1187.8h3.6v3.6h-3.6zM456.7 1188.9h3.6v3.6h-3.6zM508.5 1187.7h3.6v3.6h-3.6zM516.4 1187.6h3.6v3.6h-3.6zM505.1 1188.9h3.6v3.6h-3.6zM502.4 1188.2h3.6v3.6h-3.6zM508.4 1188.1h3.6v3.6h-3.6zM465.5 1187.4h3.6v3.6h-3.6zM459.3 1188.3h3.6v3.6h-3.6zM485.6 1187.8h3.6v3.6h-3.6zM503.8 1188.1h3.6v3.6h-3.6zM476.4 1187.8h3.6v3.6h-3.6zM470 1187.2h3.6v3.6h-3.6zM494.5 1188.8h3.6v3.6h-3.6zM491.2 1188.4h3.6v3.6h-3.6zM478.2 1188.9h3.6v3.6h-3.6zM538.7 1187.6h3.6v3.6h-3.6zM540.2 1187.6h3.6v3.6h-3.6zM457.8 1187.3h3.6v3.6h-3.6zM497.6 1187.6h3.6v3.6h-3.6zM475.3 1187.7h3.6v3.6h-3.6zM484.4 1187.4h3.6v3.6h-3.6zM456.1 1187.5h3.6v3.6h-3.6zM480.5 1190.6h3.6v3.6h-3.6zM532.3 1190.7h3.6v3.6h-3.6zM494.5 1190.2h3.6v3.6h-3.6zM528.8 1191.8h3.6v3.6h-3.6zM458.1 1190.5h3.6v3.6h-3.6zM470.8 1191.1h3.6v3.6h-3.6zM541.1 1190.1h3.6v3.6h-3.6zM458.1 1191.1h3.6v3.6h-3.6zM459.9 1191.3h3.6v3.6h-3.6zM501.1 1190.2h3.6v3.6h-3.6zM480.1 1192h3.6v3.6h-3.6zM471.3 1190.3h3.6v3.6h-3.6zM509.4 1190.5h3.6v3.6h-3.6zM509.5 1191.5h3.6v3.6h-3.6zM470.8 1190.7h3.6v3.6h-3.6zM503 1191.8h3.6v3.6h-3.6zM495.3 1190.5h3.6v3.6h-3.6zM531.3 1190.6h3.6v3.6h-3.6zM459.8 1191.4h3.6v3.6h-3.6zM474.9 1191.7h3.6v3.6h-3.6zM505.4 1191.8h3.6v3.6h-3.6zM456.6 1190.6h3.6v3.6h-3.6zM531.2 1191.1h3.6v3.6h-3.6zM542.5 1190.8h3.6v3.6h-3.6zM483.7 1191.4h3.6v3.6h-3.6zM524.7 1190.5h3.6v3.6h-3.6zM476.4 1191.7h3.6v3.6h-3.6zM540.6 1191.4h3.6v3.6h-3.6zM473 1190.3h3.6v3.6h-3.6zM454 1190.6h3.6v3.6h-3.6zM459.8 1190.7h3.6v3.6h-3.6zM495.7 1191.9h3.6v3.6h-3.6zM457 1190.9h3.6v3.6h-3.6zM543.6 1191.2h3.6v3.6h-3.6zM511.5 1191.9h3.6v3.6h-3.6zM505.8 1190.8h3.6v3.6h-3.6zM511.1 1191.9h3.6v3.6h-3.6zM491.9 1190.6h3.6v3.6h-3.6zM534.9 1190h3.6v3.6h-3.6zM519 1190.2h3.6v3.6h-3.6zM493 1191.4h3.6v3.6h-3.6zM479.6 1190.8h3.6v3.6h-3.6zM466.8 1191.7h3.6v3.6h-3.6zM502.5 1194.7h3.6v3.6h-3.6zM516.5 1193.7h3.6v3.6h-3.6zM485.9 1194h3.6v3.6h-3.6zM507.5 1194.1h3.6v3.6h-3.6zM517.7 1193.7h3.6v3.6h-3.6zM488.1 1194h3.6v3.6h-3.6zM498.6 1194.9h3.6v3.6h-3.6zM531 1194.8h3.6v3.6h-3.6zM538.9 1193.6h3.6v3.6h-3.6zM485.7 1194.4h3.6v3.6h-3.6zM459.7 1194.9h3.6v3.6h-3.6zM530.9 1193.7h3.6v3.6h-3.6zM494.6 1194.7h3.6v3.6h-3.6zM542.6 1194.6h3.6v3.6h-3.6zM523.6 1194.8h3.6v3.6h-3.6zM487.3 1193.2h3.6v3.6h-3.6zM531.6 1194.8h3.6v3.6h-3.6zM503.8 1195h3.6v3.6h-3.6zM519.1 1193.5h3.6v3.6h-3.6zM534.8 1194.3h3.6v3.6h-3.6zM506.8 1193.2h3.6v3.6h-3.6zM540.6 1194.2h3.6v3.6h-3.6zM490.1 1194.4h3.6v3.6h-3.6zM488.3 1194.5h3.6v3.6h-3.6zM512.3 1194.7h3.6v3.6h-3.6zM490.7 1193.6h3.6v3.6h-3.6zM518.5 1193.2h3.6v3.6h-3.6zM502.3 1194.6h3.6v3.6h-3.6zM521.7 1193.1h3.6v3.6h-3.6zM529.4 1193.5h3.6v3.6h-3.6zM505.6 1193.5h3.6v3.6h-3.6zM537.5 1194.6h3.6v3.6h-3.6zM525.3 1193.9h3.6v3.6h-3.6zM532.3 1194.7h3.6v3.6h-3.6zM455.3 1194.3h3.6v3.6h-3.6zM454.9 1194.7h3.6v3.6h-3.6zM511.8 1194.6h3.6v3.6h-3.6zM484.1 1194.8h3.6v3.6h-3.6zM533.7 1193.6h3.6v3.6h-3.6zM489.5 1193.7h3.6v3.6h-3.6zM521.9 1194.3h3.6v3.6h-3.6zM476.1 1194.2h3.6v3.6h-3.6zM511.4 1194.6h3.6v3.6h-3.6zM536.3 1194.6h3.6v3.6h-3.6zM481.5 1197.5h3.6v3.6h-3.6zM464.6 1196.9h3.6v3.6h-3.6zM521.6 1196.6h3.6v3.6h-3.6zM516.7 1198h3.6v3.6h-3.6zM478.9 1197.8h3.6v3.6h-3.6zM458.7 1196.5h3.6v3.6h-3.6zM455.6 1196.9h3.6v3.6h-3.6zM476.3 1197.1h3.6v3.6h-3.6zM478.6 1196.3h3.6v3.6h-3.6zM472.6 1196.9h3.6v3.6h-3.6zM458.1 1196.6h3.6v3.6h-3.6zM469.2 1197.6h3.6v3.6h-3.6zM485.7 1196.2h3.6v3.6h-3.6zM462 1198h3.6v3.6h-3.6zM472.5 1196.5h3.6v3.6h-3.6zM493.8 1196.7h3.6v3.6h-3.6zM531.4 1196.2h3.6v3.6h-3.6zM533.6 1197.8h3.6v3.6h-3.6zM490.7 1197.7h3.6v3.6h-3.6zM465.1 1196.1h3.6v3.6h-3.6zM478.2 1197.1h3.6v3.6h-3.6zM515.5 1196.8h3.6v3.6h-3.6zM490.9 1197.2h3.6v3.6h-3.6zM505.9 1196.7h3.6v3.6h-3.6zM521.2 1197.9h3.6v3.6h-3.6zM514 1196.4h3.6v3.6h-3.6zM532.5 1197.6h3.6v3.6h-3.6zM461.4 1196.5h3.6v3.6h-3.6zM480.8 1197.3h3.6v3.6h-3.6zM456.6 1196.9h3.6v3.6h-3.6zM501.4 1197.1h3.6v3.6h-3.6zM510 1197h3.6v3.6h-3.6zM476.8 1197.3h3.6v3.6h-3.6zM458.6 1196.1h3.6v3.6h-3.6zM496.1 1196.1h3.6v3.6h-3.6zM468.9 1197.9h3.6v3.6h-3.6zM471.4 1196.5h3.6v3.6h-3.6zM488.5 1196.7h3.6v3.6h-3.6zM540.4 1196.5h3.6v3.6h-3.6zM486.6 1197.3h3.6v3.6h-3.6zM518.7 1198h3.6v3.6h-3.6zM487.7 1196.8h3.6v3.6h-3.6zM490.7 1196.6h3.6v3.6h-3.6zM466.4 1196.7h3.6v3.6h-3.6zM470.5 1196.1h3.6v3.6h-3.6zM560.3 1109.1h3.6v3.6h-3.6zM578.1 1114h3.6v3.6h-3.6zM564.2 1116.1h3.6v3.6h-3.6zM569.2 1118.1h3.6v3.6h-3.6zM617 1121.3h3.6v3.6h-3.6zM563.8 1125.6h3.6v3.6h-3.6zM572 1127.4h3.6v3.6h-3.6zM625.1 1131.7h3.6v3.6h-3.6zM568.2 1130.6h3.6v3.6h-3.6zM596.4 1133.7h3.6v3.6h-3.6zM577.1 1134.9h3.6v3.6h-3.6zM622.4 1137.4h3.6v3.6h-3.6zM566.8 1136.3h3.6v3.6h-3.6zM576.2 1140.3h3.6v3.6h-3.6zM558.9 1140.5h3.6v3.6h-3.6zM610.1 1142.8h3.6v3.6h-3.6zM612.3 1142.4h3.6v3.6h-3.6zM553.8 1145.9h3.6v3.6h-3.6zM586.9 1146.2h3.6v3.6h-3.6zM624.3 1146.8h3.6v3.6h-3.6zM619 1148.5h3.6v3.6h-3.6zM609.6 1149.5h3.6v3.6h-3.6zM598.5 1148.8h3.6v3.6h-3.6zM607.1 1152.6h3.6v3.6h-3.6zM570.5 1152.8h3.6v3.6h-3.6zM624.9 1151.3h3.6v3.6h-3.6zM566 1152.7h3.6v3.6h-3.6zM602.4 1155.3h3.6v3.6h-3.6zM599.3 1155.5h3.6v3.6h-3.6zM572.8 1155.4h3.6v3.6h-3.6zM578.4 1154.7h3.6v3.6h-3.6zM571.3 1154.7h3.6v3.6h-3.6zM587 1155.5h3.6v3.6h-3.6zM627.4 1157.7h3.6v3.6h-3.6zM570.3 1158.4h3.6v3.6h-3.6zM584.8 1157.7h3.6v3.6h-3.6zM574.5 1158.3h3.6v3.6h-3.6zM627.5 1157.9h3.6v3.6h-3.6zM554.7 1158.8h3.6v3.6h-3.6zM621.2 1157.9h3.6v3.6h-3.6zM611.8 1158.6h3.6v3.6h-3.6zM597.2 1160.9h3.6v3.6h-3.6zM581.8 1161.6h3.6v3.6h-3.6zM626.9 1161.5h3.6v3.6h-3.6zM568.3 1161.7h3.6v3.6h-3.6zM622.4 1160.9h3.6v3.6h-3.6zM628 1161.3h3.6v3.6h-3.6zM617.9 1160.2h3.6v3.6h-3.6zM599.8 1160.1h3.6v3.6h-3.6zM600.7 1160.2h3.6v3.6h-3.6zM624 1161.5h3.6v3.6h-3.6zM580.5 1164.9h3.6v3.6h-3.6zM622.4 1163.6h3.6v3.6h-3.6zM559.5 1164.9h3.6v3.6h-3.6zM566.6 1163.6h3.6v3.6h-3.6zM617 1163.9h3.6v3.6h-3.6zM585.3 1164.3h3.6v3.6h-3.6zM570.2 1164.1h3.6v3.6h-3.6zM612.8 1164.3h3.6v3.6h-3.6zM571.3 1164.4h3.6v3.6h-3.6zM627.4 1163.5h3.6v3.6h-3.6zM574.4 1163h3.6v3.6h-3.6zM618.7 1164.4h3.6v3.6h-3.6zM589.9 1164.2h3.6v3.6h-3.6zM596.3 1166.5h3.6v3.6h-3.6zM591.1 1166.7h3.6v3.6h-3.6zM624 1166.7h3.6v3.6h-3.6zM576 1166.6h3.6v3.6h-3.6zM622.7 1166h3.6v3.6h-3.6zM566.2 1166.4h3.6v3.6h-3.6zM606.2 1166.5h3.6v3.6h-3.6zM625 1167.3h3.6v3.6h-3.6zM565.2 1166.8h3.6v3.6h-3.6zM612 1167.4h3.6v3.6h-3.6zM574.2 1166.9h3.6v3.6h-3.6zM558 1166.7h3.6v3.6h-3.6zM586.2 1166.3h3.6v3.6h-3.6zM606.6 1166.5h3.6v3.6h-3.6zM575 1167.8h3.6v3.6h-3.6zM625.6 1166.9h3.6v3.6h-3.6zM553.7 1166.6h3.6v3.6h-3.6zM570.1 1169.7h3.6v3.6h-3.6zM620 1169.3h3.6v3.6h-3.6zM606.9 1170.9h3.6v3.6h-3.6zM606.2 1169.3h3.6v3.6h-3.6zM614.6 1169.1h3.6v3.6h-3.6zM571.8 1170.5h3.6v3.6h-3.6zM609 1171h3.6v3.6h-3.6zM558.9 1170.5h3.6v3.6h-3.6zM604 1169.2h3.6v3.6h-3.6zM578 1169.8h3.6v3.6h-3.6zM603.7 1170h3.6v3.6h-3.6zM570.7 1170.8h3.6v3.6h-3.6zM580.3 1170.5h3.6v3.6h-3.6zM604.4 1169.1h3.6v3.6h-3.6zM624.8 1169.9h3.6v3.6h-3.6zM579.4 1170.6h3.6v3.6h-3.6zM566.3 1170.1h3.6v3.6h-3.6zM563 1170.3h3.6v3.6h-3.6zM604.5 1170.9h3.6v3.6h-3.6zM621.4 1171h3.6v3.6h-3.6zM554.8 1170.7h3.6v3.6h-3.6zM596.9 1172.1h3.6v3.6h-3.6zM576.8 1172h3.6v3.6h-3.6zM565.6 1172.5h3.6v3.6h-3.6zM566.2 1173.6h3.6v3.6h-3.6zM602.1 1173.4h3.6v3.6h-3.6zM612.2 1173h3.6v3.6h-3.6zM618.7 1172.8h3.6v3.6h-3.6zM622.9 1172.5h3.6v3.6h-3.6zM575.3 1173.5h3.6v3.6h-3.6zM578.9 1173h3.6v3.6h-3.6zM568.4 1172.1h3.6v3.6h-3.6zM594.8 1173.3h3.6v3.6h-3.6zM625.3 1174h3.6v3.6h-3.6zM611 1172.1h3.6v3.6h-3.6zM586.7 1174h3.6v3.6h-3.6zM565.6 1172.2h3.6v3.6h-3.6zM617.5 1172.6h3.6v3.6h-3.6zM621.5 1174h3.6v3.6h-3.6zM611.8 1173.9h3.6v3.6h-3.6zM575.7 1172.4h3.6v3.6h-3.6zM583.1 1173.4h3.6v3.6h-3.6zM597.8 1173.2h3.6v3.6h-3.6zM623.2 1172.8h3.6v3.6h-3.6zM571.9 1173.6h3.6v3.6h-3.6zM585.4 1173.3h3.6v3.6h-3.6zM570.6 1176.5h3.6v3.6h-3.6zM590.7 1175.3h3.6v3.6h-3.6zM607.4 1176.5h3.6v3.6h-3.6zM600.7 1176.2h3.6v3.6h-3.6zM594.7 1176.4h3.6v3.6h-3.6zM609.5 1175.8h3.6v3.6h-3.6zM563.7 1175.2h3.6v3.6h-3.6zM556.8 1176.8h3.6v3.6h-3.6zM556 1176.7h3.6v3.6h-3.6zM600.6 1177h3.6v3.6h-3.6zM586.5 1175.9h3.6v3.6h-3.6zM616.9 1176.8h3.6v3.6h-3.6zM627.2 1176.7h3.6v3.6h-3.6zM562 1176.1h3.6v3.6h-3.6zM582.3 1176.8h3.6v3.6h-3.6zM585.3 1176.6h3.6v3.6h-3.6zM595 1175.2h3.6v3.6h-3.6zM622.5 1175.3h3.6v3.6h-3.6zM599 1175.8h3.6v3.6h-3.6zM576.6 1176.1h3.6v3.6h-3.6zM603.8 1176.3h3.6v3.6h-3.6zM578.5 1176.1h3.6v3.6h-3.6zM595.6 1176.8h3.6v3.6h-3.6zM561 1176.6h3.6v3.6h-3.6zM596.3 1175.2h3.6v3.6h-3.6zM589.8 1175.7h3.6v3.6h-3.6zM602.5 1176.8h3.6v3.6h-3.6zM596.5 1176.5h3.6v3.6h-3.6zM597 1175h3.6v3.6h-3.6zM601.1 1179.7h3.6v3.6h-3.6zM563.1 1179h3.6v3.6h-3.6zM591.7 1179h3.6v3.6h-3.6zM629 1178.2h3.6v3.6h-3.6zM559.2 1179.8h3.6v3.6h-3.6zM616 1179h3.6v3.6h-3.6zM590.2 1179.7h3.6v3.6h-3.6zM627.8 1178.2h3.6v3.6h-3.6zM618.7 1179.4h3.6v3.6h-3.6zM558.4 1178.8h3.6v3.6h-3.6zM602.3 1179.1h3.6v3.6h-3.6zM618.8 1179.2h3.6v3.6h-3.6zM574.7 1179.7h3.6v3.6h-3.6zM607 1179.8h3.6v3.6h-3.6zM572.8 1178.3h3.6v3.6h-3.6zM569.1 1179.7h3.6v3.6h-3.6zM578.7 1178.2h3.6v3.6h-3.6zM575.7 1178h3.6v3.6h-3.6zM626.5 1178.6h3.6v3.6h-3.6zM571.3 1178.6h3.6v3.6h-3.6zM585.7 1179.5h3.6v3.6h-3.6zM590.4 1179.1h3.6v3.6h-3.6zM606 1178.8h3.6v3.6h-3.6zM627.1 1179.6h3.6v3.6h-3.6zM600.1 1179.9h3.6v3.6h-3.6zM618.8 1179.3h3.6v3.6h-3.6zM563.5 1179.3h3.6v3.6h-3.6zM603.7 1179.7h3.6v3.6h-3.6zM566.6 1178.6h3.6v3.6h-3.6zM619.6 1180h3.6v3.6h-3.6zM598.7 1178.4h3.6v3.6h-3.6zM563.8 1178.1h3.6v3.6h-3.6zM616 1182.3h3.6v3.6h-3.6zM566.7 1182.6h3.6v3.6h-3.6zM579 1181.8h3.6v3.6h-3.6zM592.4 1182.5h3.6v3.6h-3.6zM561.9 1182h3.6v3.6h-3.6zM585.7 1182.5h3.6v3.6h-3.6zM580.4 1182.5h3.6v3.6h-3.6zM560 1181.1h3.6v3.6h-3.6zM599.3 1182.7h3.6v3.6h-3.6zM587.7 1181.1h3.6v3.6h-3.6zM565.6 1181.9h3.6v3.6h-3.6zM613.3 1182.2h3.6v3.6h-3.6zM584.6 1182.6h3.6v3.6h-3.6zM555.5 1181.1h3.6v3.6h-3.6zM620.2 1182.3h3.6v3.6h-3.6zM584.6 1181.7h3.6v3.6h-3.6zM560.5 1181.1h3.6v3.6h-3.6zM575.4 1181.7h3.6v3.6h-3.6zM572.9 1182.3h3.6v3.6h-3.6zM556.8 1181.2h3.6v3.6h-3.6zM578.6 1182.7h3.6v3.6h-3.6zM566.3 1181.1h3.6v3.6h-3.6zM569.7 1181.5h3.6v3.6h-3.6zM604.7 1181.7h3.6v3.6h-3.6zM565.5 1181.1h3.6v3.6h-3.6zM555.1 1182.9h3.6v3.6h-3.6zM567.1 1182.9h3.6v3.6h-3.6zM575.9 1182.8h3.6v3.6h-3.6zM566 1181.4h3.6v3.6h-3.6zM598.8 1182.7h3.6v3.6h-3.6zM620.3 1181.7h3.6v3.6h-3.6zM616.5 1181.6h3.6v3.6h-3.6zM589.2 1182.4h3.6v3.6h-3.6zM613.1 1181.2h3.6v3.6h-3.6zM613.5 1181h3.6v3.6h-3.6zM624.2 1185.4h3.6v3.6h-3.6zM580.4 1184.7h3.6v3.6h-3.6zM613.8 1184.1h3.6v3.6h-3.6zM585.8 1185.3h3.6v3.6h-3.6zM560.5 1184.1h3.6v3.6h-3.6zM589.5 1185.6h3.6v3.6h-3.6zM566.5 1184.3h3.6v3.6h-3.6zM559.6 1184h3.6v3.6h-3.6zM554.9 1186h3.6v3.6h-3.6zM583.9 1184.3h3.6v3.6h-3.6zM573.1 1185.2h3.6v3.6h-3.6zM579 1184.1h3.6v3.6h-3.6zM626.5 1186h3.6v3.6h-3.6zM616.4 1184h3.6v3.6h-3.6zM607.1 1185.4h3.6v3.6h-3.6zM572 1185.7h3.6v3.6h-3.6zM610.4 1184.6h3.6v3.6h-3.6zM606.5 1184h3.6v3.6h-3.6zM593.6 1184.1h3.6v3.6h-3.6zM571.6 1184.1h3.6v3.6h-3.6zM569.3 1185.5h3.6v3.6h-3.6zM585.3 1185.1h3.6v3.6h-3.6zM574.5 1185.8h3.6v3.6h-3.6zM620.7 1185.3h3.6v3.6h-3.6zM588.9 1185.2h3.6v3.6h-3.6zM604.9 1184.4h3.6v3.6h-3.6zM621.6 1184.4h3.6v3.6h-3.6zM600.6 1186h3.6v3.6h-3.6zM565.7 1185.9h3.6v3.6h-3.6zM577.7 1184.9h3.6v3.6h-3.6zM623.5 1185.6h3.6v3.6h-3.6zM557 1185.4h3.6v3.6h-3.6zM570.3 1184.6h3.6v3.6h-3.6zM600.4 1184.4h3.6v3.6h-3.6zM618.3 1185.5h3.6v3.6h-3.6zM615.8 1185.9h3.6v3.6h-3.6zM609 1186h3.6v3.6h-3.6zM580.6 1187.7h3.6v3.6h-3.6zM558.5 1188.6h3.6v3.6h-3.6zM577.7 1188.3h3.6v3.6h-3.6zM558.8 1187.2h3.6v3.6h-3.6zM628.5 1187.5h3.6v3.6h-3.6zM576.8 1188.6h3.6v3.6h-3.6zM617.8 1188.6h3.6v3.6h-3.6zM572.2 1187.1h3.6v3.6h-3.6zM626.4 1188h3.6v3.6h-3.6zM590.6 1188.4h3.6v3.6h-3.6zM616.8 1187.7h3.6v3.6h-3.6zM599 1187.1h3.6v3.6h-3.6zM611.6 1187.8h3.6v3.6h-3.6zM559 1188.9h3.6v3.6h-3.6zM560.2 1188.5h3.6v3.6h-3.6zM580.6 1187.4h3.6v3.6h-3.6zM620.1 1188.7h3.6v3.6h-3.6zM622.5 1188.3h3.6v3.6h-3.6zM607.4 1187.6h3.6v3.6h-3.6zM598.9 1187.5h3.6v3.6h-3.6zM557.2 1187.4h3.6v3.6h-3.6zM623.9 1187.8h3.6v3.6h-3.6zM603.6 1187.7h3.6v3.6h-3.6zM600.2 1187.6h3.6v3.6h-3.6zM617.4 1188.7h3.6v3.6h-3.6zM571.4 1188.5h3.6v3.6h-3.6zM600.6 1188h3.6v3.6h-3.6zM605.3 1188.9h3.6v3.6h-3.6zM610.9 1188.3h3.6v3.6h-3.6zM560.7 1188.9h3.6v3.6h-3.6zM608.8 1188.6h3.6v3.6h-3.6zM622 1188.3h3.6v3.6h-3.6zM601.2 1188.4h3.6v3.6h-3.6zM566.4 1188.5h3.6v3.6h-3.6zM623.2 1188.5h3.6v3.6h-3.6zM561.3 1188.7h3.6v3.6h-3.6zM571 1187.7h3.6v3.6h-3.6zM618.4 1187.7h3.6v3.6h-3.6zM598.2 1187.5h3.6v3.6h-3.6zM623.5 1191h3.6v3.6h-3.6zM622.1 1191.5h3.6v3.6h-3.6zM587.1 1191.7h3.6v3.6h-3.6zM584 1191.9h3.6v3.6h-3.6zM563.6 1191.3h3.6v3.6h-3.6zM627.5 1190.5h3.6v3.6h-3.6zM604.5 1191.2h3.6v3.6h-3.6zM626.6 1190.9h3.6v3.6h-3.6zM601.5 1190.5h3.6v3.6h-3.6zM592.5 1190.7h3.6v3.6h-3.6zM610.3 1190.5h3.6v3.6h-3.6zM620.8 1191.1h3.6v3.6h-3.6zM617.6 1190.1h3.6v3.6h-3.6zM579.8 1191.1h3.6v3.6h-3.6zM592 1190.8h3.6v3.6h-3.6zM625.2 1190h3.6v3.6h-3.6zM591.9 1190.6h3.6v3.6h-3.6zM614.4 1191.9h3.6v3.6h-3.6zM593.3 1191.2h3.6v3.6h-3.6zM616.7 1190.1h3.6v3.6h-3.6zM558.7 1191.2h3.6v3.6h-3.6zM553.6 1191.4h3.6v3.6h-3.6zM560.4 1190.3h3.6v3.6h-3.6zM586.6 1190.8h3.6v3.6h-3.6zM581.4 1190.4h3.6v3.6h-3.6zM626.3 1191.1h3.6v3.6h-3.6zM629.2 1191.6h3.6v3.6h-3.6zM563.7 1190.5h3.6v3.6h-3.6zM616.8 1190.3h3.6v3.6h-3.6zM592.1 1190.3h3.6v3.6h-3.6zM617.4 1191.2h3.6v3.6h-3.6zM581.5 1190.1h3.6v3.6h-3.6zM612.1 1191.1h3.6v3.6h-3.6zM553.8 1191.6h3.6v3.6h-3.6zM589 1191.5h3.6v3.6h-3.6zM578.8 1191.3h3.6v3.6h-3.6zM572.6 1190h3.6v3.6h-3.6zM576.3 1190.9h3.6v3.6h-3.6zM585.3 1190.5h3.6v3.6h-3.6zM591.1 1191h3.6v3.6h-3.6zM565 1193.5h3.6v3.6h-3.6zM563.8 1193.8h3.6v3.6h-3.6zM625.7 1194.6h3.6v3.6h-3.6zM620.3 1194.7h3.6v3.6h-3.6zM560.9 1194.7h3.6v3.6h-3.6zM616.3 1194.1h3.6v3.6h-3.6zM558.5 1194.7h3.6v3.6h-3.6zM579.2 1193.3h3.6v3.6h-3.6zM628.9 1195h3.6v3.6h-3.6zM624.9 1193.1h3.6v3.6h-3.6zM589 1194.8h3.6v3.6h-3.6zM606.8 1194.6h3.6v3.6h-3.6zM582.5 1193.8h3.6v3.6h-3.6zM617.9 1194.6h3.6v3.6h-3.6zM577.5 1194.9h3.6v3.6h-3.6zM569.2 1193.3h3.6v3.6h-3.6zM564.5 1194.3h3.6v3.6h-3.6zM601.4 1193h3.6v3.6h-3.6zM595.8 1194.3h3.6v3.6h-3.6zM622 1193.1h3.6v3.6h-3.6zM564.6 1194.3h3.6v3.6h-3.6zM614.6 1193.1h3.6v3.6h-3.6zM625.1 1193.8h3.6v3.6h-3.6zM610.2 1194.7h3.6v3.6h-3.6zM562.2 1193.6h3.6v3.6h-3.6zM565.1 1194.9h3.6v3.6h-3.6zM560.2 1193.9h3.6v3.6h-3.6zM578.8 1193.4h3.6v3.6h-3.6zM611.1 1194.9h3.6v3.6h-3.6zM564.5 1193.3h3.6v3.6h-3.6zM587.6 1194.2h3.6v3.6h-3.6zM556.9 1194.9h3.6v3.6h-3.6zM605 1194.9h3.6v3.6h-3.6zM561 1194.1h3.6v3.6h-3.6zM613.7 1193.4h3.6v3.6h-3.6zM600 1194h3.6v3.6h-3.6zM568 1193.6h3.6v3.6h-3.6zM606.5 1193.6h3.6v3.6h-3.6zM580 1193.6h3.6v3.6h-3.6zM593.2 1193.4h3.6v3.6h-3.6zM595.7 1193.1h3.6v3.6h-3.6zM610.5 1196.4h3.6v3.6h-3.6zM554.5 1197.9h3.6v3.6h-3.6zM597 1197.6h3.6v3.6h-3.6zM581.4 1197.1h3.6v3.6h-3.6zM602.8 1197.2h3.6v3.6h-3.6zM597.6 1197.5h3.6v3.6h-3.6zM589.9 1197.6h3.6v3.6h-3.6zM612.5 1196.5h3.6v3.6h-3.6zM596.9 1197.6h3.6v3.6h-3.6zM621.7 1197.3h3.6v3.6h-3.6zM597.9 1196.6h3.6v3.6h-3.6zM620 1196.6h3.6v3.6h-3.6zM619.1 1196.3h3.6v3.6h-3.6zM607.1 1197.1h3.6v3.6h-3.6zM578.5 1197.9h3.6v3.6h-3.6zM590.4 1197.6h3.6v3.6h-3.6zM559.5 1196.3h3.6v3.6h-3.6zM608.5 1196.2h3.6v3.6h-3.6zM602.5 1196.6h3.6v3.6h-3.6zM615.6 1196.3h3.6v3.6h-3.6zM559.9 1196.3h3.6v3.6h-3.6zM563.3 1197.5h3.6v3.6h-3.6zM602.5 1196.6h3.6v3.6h-3.6zM609.1 1197.1h3.6v3.6h-3.6zM559.1 1196.6h3.6v3.6h-3.6zM555.8 1198h3.6v3.6h-3.6zM578.1 1197.2h3.6v3.6h-3.6zM579.3 1196.3h3.6v3.6h-3.6zM557.5 1197.6h3.6v3.6h-3.6zM560.9 1196.6h3.6v3.6h-3.6zM569 1196.9h3.6v3.6h-3.6zM554.6 1196.6h3.6v3.6h-3.6zM564.7 1197h3.6v3.6h-3.6zM555.4 1196.6h3.6v3.6h-3.6zM581.6 1196.6h3.6v3.6h-3.6zM610.3 1196.3h3.6v3.6h-3.6zM603.7 1197.9h3.6v3.6h-3.6zM599.4 1196.4h3.6v3.6h-3.6zM589 1196.6h3.6v3.6h-3.6zM567.7 1196.8h3.6v3.6h-3.6zM557.2 1196.2h3.6v3.6h-3.6zM656.7 1109.8h3.6v3.6h-3.6zM686.5 1113.1h3.6v3.6h-3.6zM668.4 1116.4h3.6v3.6h-3.6zM700.1 1118.5h3.6v3.6h-3.6zM657.6 1122.3h3.6v3.6h-3.6zM672 1125.7h3.6v3.6h-3.6zM638.3 1128.1h3.6v3.6h-3.6zM666.8 1130.4h3.6v3.6h-3.6zM710.3 1133.4h3.6v3.6h-3.6zM703.7 1137.7h3.6v3.6h-3.6zM718.7 1139.2h3.6v3.6h-3.6zM650.6 1142.6h3.6v3.6h-3.6zM644.5 1143.8h3.6v3.6h-3.6zM691.5 1145.2h3.6v3.6h-3.6zM650.5 1146.5h3.6v3.6h-3.6zM689.8 1148.4h3.6v3.6h-3.6zM637.7 1148.6h3.6v3.6h-3.6zM686.8 1148.2h3.6v3.6h-3.6zM720.7 1151.4h3.6v3.6h-3.6zM675.8 1151.8h3.6v3.6h-3.6zM689.3 1152.3h3.6v3.6h-3.6zM700.2 1154.8h3.6v3.6h-3.6zM713.6 1154.6h3.6v3.6h-3.6zM658.3 1155.6h3.6v3.6h-3.6zM657.6 1154.7h3.6v3.6h-3.6zM668.8 1157.2h3.6v3.6h-3.6zM679.7 1158.7h3.6v3.6h-3.6zM684.8 1157.5h3.6v3.6h-3.6zM667.1 1157.5h3.6v3.6h-3.6zM638.2 1158.1h3.6v3.6h-3.6zM699.2 1158.8h3.6v3.6h-3.6zM669.4 1161.8h3.6v3.6h-3.6zM677.8 1160h3.6v3.6h-3.6zM672.3 1161.4h3.6v3.6h-3.6zM646.9 1160.1h3.6v3.6h-3.6zM661.7 1160.9h3.6v3.6h-3.6zM714.4 1160.8h3.6v3.6h-3.6zM716.3 1160.9h3.6v3.6h-3.6zM658.9 1161.9h3.6v3.6h-3.6zM667.1 1163.8h3.6v3.6h-3.6zM639 1164.1h3.6v3.6h-3.6zM646.8 1165h3.6v3.6h-3.6zM700.4 1164.4h3.6v3.6h-3.6zM648.3 1164.1h3.6v3.6h-3.6zM642.4 1165h3.6v3.6h-3.6zM653.9 1164h3.6v3.6h-3.6zM719.5 1163.9h3.6v3.6h-3.6zM674.8 1164.7h3.6v3.6h-3.6zM649.9 1164.9h3.6v3.6h-3.6zM692.7 1164.4h3.6v3.6h-3.6zM668.1 1167.5h3.6v3.6h-3.6zM671.3 1166.1h3.6v3.6h-3.6zM638.2 1168h3.6v3.6h-3.6zM657.6 1167.9h3.6v3.6h-3.6zM702.7 1167.7h3.6v3.6h-3.6zM678.5 1166.9h3.6v3.6h-3.6zM709.4 1166.9h3.6v3.6h-3.6zM693.7 1166.8h3.6v3.6h-3.6zM685 1166.9h3.6v3.6h-3.6zM705.1 1166.4h3.6v3.6h-3.6zM679.3 1167.6h3.6v3.6h-3.6zM693.5 1167.8h3.6v3.6h-3.6zM678.6 1167h3.6v3.6h-3.6zM667.1 1167.7h3.6v3.6h-3.6zM662 1170.5h3.6v3.6h-3.6zM709.6 1170h3.6v3.6h-3.6zM719.2 1170.7h3.6v3.6h-3.6zM693.7 1169.3h3.6v3.6h-3.6zM718.3 1169.6h3.6v3.6h-3.6zM698.4 1170.8h3.6v3.6h-3.6zM695.7 1170.7h3.6v3.6h-3.6zM677.2 1170.8h3.6v3.6h-3.6zM642.5 1170h3.6v3.6h-3.6zM648 1170.3h3.6v3.6h-3.6zM707 1170.9h3.6v3.6h-3.6zM652.7 1170.3h3.6v3.6h-3.6zM695.1 1169.2h3.6v3.6h-3.6zM650.9 1169.3h3.6v3.6h-3.6zM700.9 1169h3.6v3.6h-3.6zM717.7 1169.2h3.6v3.6h-3.6zM689.4 1169.1h3.6v3.6h-3.6zM640.8 1169.8h3.6v3.6h-3.6zM689.2 1172.3h3.6v3.6h-3.6zM709.8 1173.8h3.6v3.6h-3.6zM671.8 1172.7h3.6v3.6h-3.6zM651 1173.5h3.6v3.6h-3.6zM713.8 1173.8h3.6v3.6h-3.6zM714.4 1172.6h3.6v3.6h-3.6zM719.5 1172h3.6v3.6h-3.6zM639.5 1173.1h3.6v3.6h-3.6zM687.1 1172.5h3.6v3.6h-3.6zM690.4 1173.7h3.6v3.6h-3.6zM682.3 1172.3h3.6v3.6h-3.6zM653.3 1173.4h3.6v3.6h-3.6zM714.7 1172.1h3.6v3.6h-3.6zM682.5 1172.5h3.6v3.6h-3.6zM640.6 1172.4h3.6v3.6h-3.6zM666.5 1173.7h3.6v3.6h-3.6zM698.5 1173.2h3.6v3.6h-3.6zM654.5 1173.3h3.6v3.6h-3.6zM702.6 1172.2h3.6v3.6h-3.6zM655.1 1172.6h3.6v3.6h-3.6zM673.8 1173.8h3.6v3.6h-3.6zM662 1173.2h3.6v3.6h-3.6zM701.1 1175.5h3.6v3.6h-3.6zM679.6 1176.7h3.6v3.6h-3.6zM654.7 1176.2h3.6v3.6h-3.6zM714.2 1175.4h3.6v3.6h-3.6zM659.6 1176.4h3.6v3.6h-3.6zM651.8 1176.3h3.6v3.6h-3.6zM691.9 1176.1h3.6v3.6h-3.6zM644.7 1175.9h3.6v3.6h-3.6zM701.7 1176.5h3.6v3.6h-3.6zM697.2 1176.5h3.6v3.6h-3.6zM669.7 1176.2h3.6v3.6h-3.6zM680.7 1175.1h3.6v3.6h-3.6zM678.4 1175.5h3.6v3.6h-3.6zM643.8 1177h3.6v3.6h-3.6zM644.2 1175.8h3.6v3.6h-3.6zM667.1 1176.3h3.6v3.6h-3.6zM638 1175.3h3.6v3.6h-3.6zM653.1 1176.1h3.6v3.6h-3.6zM668.2 1176.2h3.6v3.6h-3.6zM690.1 1176.5h3.6v3.6h-3.6zM680.8 1176.9h3.6v3.6h-3.6zM652.1 1175.9h3.6v3.6h-3.6zM701.2 1175.6h3.6v3.6h-3.6zM704.2 1175.3h3.6v3.6h-3.6zM693.1 1175.7h3.6v3.6h-3.6zM695.2 1175.9h3.6v3.6h-3.6zM718.4 1178.6h3.6v3.6h-3.6zM680.4 1179.5h3.6v3.6h-3.6zM694.1 1178.8h3.6v3.6h-3.6zM699 1178.7h3.6v3.6h-3.6zM638.6 1179.9h3.6v3.6h-3.6zM657 1179.1h3.6v3.6h-3.6zM682.8 1179.1h3.6v3.6h-3.6zM642.3 1179.2h3.6v3.6h-3.6zM650.1 1178.1h3.6v3.6h-3.6zM700.6 1178.8h3.6v3.6h-3.6zM694.1 1179.6h3.6v3.6h-3.6zM649.1 1179.3h3.6v3.6h-3.6zM647.4 1179.8h3.6v3.6h-3.6zM708.3 1178.6h3.6v3.6h-3.6zM677.1 1179h3.6v3.6h-3.6zM664 1178.5h3.6v3.6h-3.6zM697.8 1178.4h3.6v3.6h-3.6zM693.6 1178.2h3.6v3.6h-3.6zM720.9 1178.4h3.6v3.6h-3.6zM646.2 1178.3h3.6v3.6h-3.6zM702 1178.9h3.6v3.6h-3.6zM676.1 1178.8h3.6v3.6h-3.6zM658.3 1179.5h3.6v3.6h-3.6zM679.3 1179.6h3.6v3.6h-3.6zM639.2 1179.1h3.6v3.6h-3.6zM648 1179.3h3.6v3.6h-3.6zM646.6 1178.9h3.6v3.6h-3.6zM695.6 1178.6h3.6v3.6h-3.6zM696.9 1179h3.6v3.6h-3.6zM658 1179.3h3.6v3.6h-3.6zM717.6 1182h3.6v3.6h-3.6zM706 1181.7h3.6v3.6h-3.6zM643.1 1182.7h3.6v3.6h-3.6zM691.2 1182.3h3.6v3.6h-3.6zM645.1 1181.8h3.6v3.6h-3.6zM689.7 1181.2h3.6v3.6h-3.6zM708.8 1182h3.6v3.6h-3.6zM696.2 1183h3.6v3.6h-3.6zM647.5 1182.8h3.6v3.6h-3.6zM673.1 1181.1h3.6v3.6h-3.6zM653.9 1181.7h3.6v3.6h-3.6zM692.9 1181.9h3.6v3.6h-3.6zM697.1 1181.8h3.6v3.6h-3.6zM699.3 1181.2h3.6v3.6h-3.6zM667.4 1181.4h3.6v3.6h-3.6zM687.7 1182.1h3.6v3.6h-3.6zM655 1182.4h3.6v3.6h-3.6zM715.5 1182.4h3.6v3.6h-3.6zM716.2 1182.3h3.6v3.6h-3.6zM640 1182.3h3.6v3.6h-3.6zM684.8 1181h3.6v3.6h-3.6zM697.7 1181.4h3.6v3.6h-3.6zM656.9 1181.7h3.6v3.6h-3.6zM640.3 1181.5h3.6v3.6h-3.6zM637.7 1181.8h3.6v3.6h-3.6zM696.8 1181.8h3.6v3.6h-3.6zM638.5 1181.7h3.6v3.6h-3.6zM669.9 1181h3.6v3.6h-3.6zM704.5 1182.7h3.6v3.6h-3.6zM641.9 1182.9h3.6v3.6h-3.6zM696.8 1182.2h3.6v3.6h-3.6zM673.7 1181.5h3.6v3.6h-3.6zM670.2 1181.9h3.6v3.6h-3.6zM714 1184.4h3.6v3.6h-3.6zM687.8 1184.4h3.6v3.6h-3.6zM696 1185.1h3.6v3.6h-3.6zM696.2 1185.3h3.6v3.6h-3.6zM719.8 1185.4h3.6v3.6h-3.6zM692.5 1184.4h3.6v3.6h-3.6zM646.6 1184.7h3.6v3.6h-3.6zM679.9 1184.3h3.6v3.6h-3.6zM714.9 1185.3h3.6v3.6h-3.6zM648.4 1184.8h3.6v3.6h-3.6zM641.8 1184.5h3.6v3.6h-3.6zM641.7 1184.4h3.6v3.6h-3.6zM643.4 1185.9h3.6v3.6h-3.6zM651.2 1185h3.6v3.6h-3.6zM702.2 1186h3.6v3.6h-3.6zM687.8 1184.6h3.6v3.6h-3.6zM698.9 1184.4h3.6v3.6h-3.6zM684.2 1185.4h3.6v3.6h-3.6zM667.2 1185.8h3.6v3.6h-3.6zM703.5 1184.3h3.6v3.6h-3.6zM651.7 1185.7h3.6v3.6h-3.6zM667.7 1185.2h3.6v3.6h-3.6zM672.3 1185.8h3.6v3.6h-3.6zM694.6 1185.9h3.6v3.6h-3.6zM701.3 1184.9h3.6v3.6h-3.6zM685.1 1185.9h3.6v3.6h-3.6zM688.5 1184.4h3.6v3.6h-3.6zM661.1 1184.9h3.6v3.6h-3.6zM687.3 1184.9h3.6v3.6h-3.6zM708.3 1184.5h3.6v3.6h-3.6zM674.4 1185h3.6v3.6h-3.6zM700.6 1185.5h3.6v3.6h-3.6zM680.1 1184.2h3.6v3.6h-3.6zM680.5 1185h3.6v3.6h-3.6zM688.5 1185.1h3.6v3.6h-3.6zM649.2 1184.4h3.6v3.6h-3.6zM691.4 1188.2h3.6v3.6h-3.6zM658.7 1188.3h3.6v3.6h-3.6zM685.4 1188.4h3.6v3.6h-3.6zM685.5 1188.1h3.6v3.6h-3.6zM700.3 1188.3h3.6v3.6h-3.6zM715.9 1187.4h3.6v3.6h-3.6zM715.2 1188.1h3.6v3.6h-3.6zM679.6 1188.3h3.6v3.6h-3.6zM659.5 1188.1h3.6v3.6h-3.6zM657.8 1187.5h3.6v3.6h-3.6zM703.5 1187.3h3.6v3.6h-3.6zM701.3 1188.3h3.6v3.6h-3.6zM704.1 1187.2h3.6v3.6h-3.6zM707.4 1188.6h3.6v3.6h-3.6zM684.9 1187.4h3.6v3.6h-3.6zM712.8 1188.5h3.6v3.6h-3.6zM692.6 1187.7h3.6v3.6h-3.6zM690.5 1188.8h3.6v3.6h-3.6zM707.7 1187.5h3.6v3.6h-3.6zM692.2 1187.3h3.6v3.6h-3.6zM701.9 1188.4h3.6v3.6h-3.6zM715.5 1188.5h3.6v3.6h-3.6zM670.7 1187.7h3.6v3.6h-3.6zM700.5 1187.9h3.6v3.6h-3.6zM662.5 1188.3h3.6v3.6h-3.6zM678.3 1187.6h3.6v3.6h-3.6zM710.8 1187.8h3.6v3.6h-3.6zM719.2 1188.1h3.6v3.6h-3.6zM717 1187.6h3.6v3.6h-3.6zM701.1 1187.3h3.6v3.6h-3.6zM708.7 1188.8h3.6v3.6h-3.6zM711.7 1187.2h3.6v3.6h-3.6zM688.7 1189h3.6v3.6h-3.6zM657.9 1188.7h3.6v3.6h-3.6zM639 1187.9h3.6v3.6h-3.6zM701.4 1188.7h3.6v3.6h-3.6zM701.3 1187.1h3.6v3.6h-3.6zM698.8 1188.1h3.6v3.6h-3.6zM667.2 1191.9h3.6v3.6h-3.6zM662.7 1191.3h3.6v3.6h-3.6zM712.6 1190.2h3.6v3.6h-3.6zM640.7 1190.8h3.6v3.6h-3.6zM709.8 1190.9h3.6v3.6h-3.6zM644.1 1190h3.6v3.6h-3.6zM694.3 1191.9h3.6v3.6h-3.6zM661.5 1191.8h3.6v3.6h-3.6zM681.7 1190.2h3.6v3.6h-3.6zM715.1 1191.1h3.6v3.6h-3.6zM704.4 1190.6h3.6v3.6h-3.6zM645.8 1190.4h3.6v3.6h-3.6zM663.1 1190.5h3.6v3.6h-3.6zM678.4 1190.1h3.6v3.6h-3.6zM697.6 1191.4h3.6v3.6h-3.6zM638 1190.7h3.6v3.6h-3.6zM710 1191.4h3.6v3.6h-3.6zM708.1 1191.6h3.6v3.6h-3.6zM717.7 1191.1h3.6v3.6h-3.6zM654.5 1190.7h3.6v3.6h-3.6zM655.4 1190.3h3.6v3.6h-3.6zM707.4 1191.3h3.6v3.6h-3.6zM680.7 1191.3h3.6v3.6h-3.6zM658.1 1191.6h3.6v3.6h-3.6zM638.9 1190.3h3.6v3.6h-3.6zM655.7 1190.1h3.6v3.6h-3.6zM694.1 1191.8h3.6v3.6h-3.6zM699 1191.2h3.6v3.6h-3.6zM667.2 1190.2h3.6v3.6h-3.6zM714.5 1191.4h3.6v3.6h-3.6zM680.3 1190.1h3.6v3.6h-3.6zM680.9 1191.3h3.6v3.6h-3.6zM670.6 1191.1h3.6v3.6h-3.6zM671.3 1191.4h3.6v3.6h-3.6zM667.6 1190.2h3.6v3.6h-3.6zM706.7 1191.8h3.6v3.6h-3.6zM674.4 1191.9h3.6v3.6h-3.6zM656.9 1192h3.6v3.6h-3.6zM674 1191.5h3.6v3.6h-3.6zM663.6 1194.9h3.6v3.6h-3.6zM719.6 1193.7h3.6v3.6h-3.6zM689 1194.2h3.6v3.6h-3.6zM697.8 1194.9h3.6v3.6h-3.6zM693 1194.6h3.6v3.6h-3.6zM654.8 1194h3.6v3.6h-3.6zM709.1 1193.4h3.6v3.6h-3.6zM691.8 1194.2h3.6v3.6h-3.6zM656 1194.2h3.6v3.6h-3.6zM669.2 1193.1h3.6v3.6h-3.6zM649.5 1193.8h3.6v3.6h-3.6zM673.8 1194.8h3.6v3.6h-3.6zM720.5 1194.1h3.6v3.6h-3.6zM669.7 1193.4h3.6v3.6h-3.6zM670.7 1194.3h3.6v3.6h-3.6zM704.9 1193.9h3.6v3.6h-3.6zM644.4 1194.8h3.6v3.6h-3.6zM647.5 1194h3.6v3.6h-3.6zM700.1 1193.1h3.6v3.6h-3.6zM648.4 1193.3h3.6v3.6h-3.6zM688.8 1193.4h3.6v3.6h-3.6zM706 1194.9h3.6v3.6h-3.6zM684.7 1193.7h3.6v3.6h-3.6zM644.2 1193.7h3.6v3.6h-3.6zM654.8 1195h3.6v3.6h-3.6zM682.8 1193.4h3.6v3.6h-3.6zM717.6 1194.2h3.6v3.6h-3.6zM692.4 1194.9h3.6v3.6h-3.6zM696 1194.8h3.6v3.6h-3.6zM687.5 1193.3h3.6v3.6h-3.6zM664.8 1193.9h3.6v3.6h-3.6zM688.5 1193.5h3.6v3.6h-3.6zM638.3 1194.4h3.6v3.6h-3.6zM672.2 1193.5h3.6v3.6h-3.6zM705.6 1193.4h3.6v3.6h-3.6zM654.7 1193.5h3.6v3.6h-3.6zM691.9 1193.3h3.6v3.6h-3.6zM697.9 1194.4h3.6v3.6h-3.6zM650.6 1193.6h3.6v3.6h-3.6zM709.5 1193.8h3.6v3.6h-3.6zM658 1193.6h3.6v3.6h-3.6zM669.4 1197.7h3.6v3.6h-3.6zM663.1 1196.1h3.6v3.6h-3.6zM667.2 1197.7h3.6v3.6h-3.6zM697 1196h3.6v3.6h-3.6zM652.1 1197.5h3.6v3.6h-3.6zM695.1 1197.3h3.6v3.6h-3.6zM666.6 1196.1h3.6v3.6h-3.6zM645.4 1197.5h3.6v3.6h-3.6zM647.5 1197.2h3.6v3.6h-3.6zM713.1 1196.2h3.6v3.6h-3.6zM641 1197.8h3.6v3.6h-3.6zM660.7 1197.2h3.6v3.6h-3.6zM709.9 1196.9h3.6v3.6h-3.6zM644.2 1197.9h3.6v3.6h-3.6zM655.2 1196.4h3.6v3.6h-3.6zM660.1 1196.4h3.6v3.6h-3.6zM707.6 1197.8h3.6v3.6h-3.6zM647.2 1196.3h3.6v3.6h-3.6zM716.8 1197.6h3.6v3.6h-3.6zM647.6 1196.4h3.6v3.6h-3.6zM684.9 1197.6h3.6v3.6h-3.6zM702.4 1196.8h3.6v3.6h-3.6zM684.4 1197.2h3.6v3.6h-3.6zM680.1 1197.2h3.6v3.6h-3.6zM674.2 1196.8h3.6v3.6h-3.6zM658.7 1197h3.6v3.6h-3.6zM720.8 1197.3h3.6v3.6h-3.6zM671.4 1196.3h3.6v3.6h-3.6zM691.2 1197.8h3.6v3.6h-3.6zM686.4 1197.6h3.6v3.6h-3.6zM718.2 1196.4h3.6v3.6h-3.6zM658 1196.5h3.6v3.6h-3.6zM650.5 1196.8h3.6v3.6h-3.6zM712.9 1197.5h3.6v3.6h-3.6zM680.2 1197h3.6v3.6h-3.6zM691.3 1196.6h3.6v3.6h-3.6zM690 1197.5h3.6v3.6h-3.6zM703.1 1196.4h3.6v3.6h-3.6zM707.8 1197.4h3.6v3.6h-3.6zM696.4 1197.5h3.6v3.6h-3.6zM637.9 1196.2h3.6v3.6h-3.6zM777.9 1110.2h3.6v3.6h-3.6zM812 1112.6h3.6v3.6h-3.6zM768.6 1116.9h3.6v3.6h-3.6zM740.6 1119.8h3.6v3.6h-3.6zM760.5 1121.7h3.6v3.6h-3.6zM814 1124.8h3.6v3.6h-3.6zM750.5 1127.4h3.6v3.6h-3.6zM788.6 1131.3h3.6v3.6h-3.6zM749.8 1134h3.6v3.6h-3.6zM753.8 1136.7h3.6v3.6h-3.6zM800.6 1137.2h3.6v3.6h-3.6zM807.1 1140.9h3.6v3.6h-3.6zM749.8 1140h3.6v3.6h-3.6zM783.9 1143.4h3.6v3.6h-3.6zM752.6 1143.4h3.6v3.6h-3.6zM779.8 1145.9h3.6v3.6h-3.6zM802.7 1145h3.6v3.6h-3.6zM807 1149.2h3.6v3.6h-3.6zM777.7 1148.1h3.6v3.6h-3.6zM781.7 1148.6h3.6v3.6h-3.6zM737.1 1152.6h3.6v3.6h-3.6zM784.7 1151.7h3.6v3.6h-3.6zM802.1 1151.1h3.6v3.6h-3.6zM785.6 1151.8h3.6v3.6h-3.6zM743.8 1155.2h3.6v3.6h-3.6zM755.4 1155.6h3.6v3.6h-3.6zM749.8 1156h3.6v3.6h-3.6zM744.8 1154.5h3.6v3.6h-3.6zM787.9 1155.9h3.6v3.6h-3.6zM794.7 1158.4h3.6v3.6h-3.6zM777.3 1158.1h3.6v3.6h-3.6zM812.1 1158.4h3.6v3.6h-3.6zM773 1157h3.6v3.6h-3.6zM731.9 1157.5h3.6v3.6h-3.6zM740.1 1158.1h3.6v3.6h-3.6zM756.1 1158.3h3.6v3.6h-3.6zM766.2 1160.9h3.6v3.6h-3.6zM748 1161.6h3.6v3.6h-3.6zM755.8 1161.1h3.6v3.6h-3.6zM794.1 1161.4h3.6v3.6h-3.6zM790.4 1161.9h3.6v3.6h-3.6zM750.5 1160.7h3.6v3.6h-3.6zM810.2 1160.4h3.6v3.6h-3.6zM733.2 1160.8h3.6v3.6h-3.6zM749.4 1161.1h3.6v3.6h-3.6zM740.9 1163.3h3.6v3.6h-3.6zM732.8 1163.9h3.6v3.6h-3.6zM791.1 1163h3.6v3.6h-3.6zM813.4 1163.8h3.6v3.6h-3.6zM808.6 1164h3.6v3.6h-3.6zM761.4 1164.6h3.6v3.6h-3.6zM768.1 1163.7h3.6v3.6h-3.6zM799.9 1164.3h3.6v3.6h-3.6zM813.1 1164.3h3.6v3.6h-3.6zM759.7 1164h3.6v3.6h-3.6zM810.3 1164.2h3.6v3.6h-3.6zM788.8 1163.9h3.6v3.6h-3.6zM781.3 1166.1h3.6v3.6h-3.6zM768.6 1167.3h3.6v3.6h-3.6zM806.9 1168h3.6v3.6h-3.6zM739.1 1166.2h3.6v3.6h-3.6zM802.8 1167.8h3.6v3.6h-3.6zM792.8 1166.8h3.6v3.6h-3.6zM730.5 1167.3h3.6v3.6h-3.6zM790.5 1166.5h3.6v3.6h-3.6zM760.3 1167.4h3.6v3.6h-3.6zM772.6 1166.9h3.6v3.6h-3.6zM773.4 1167.6h3.6v3.6h-3.6zM791.9 1166.6h3.6v3.6h-3.6zM770.8 1166.7h3.6v3.6h-3.6zM783.5 1167.3h3.6v3.6h-3.6zM748.1 1166.2h3.6v3.6h-3.6zM812.3 1170.7h3.6v3.6h-3.6zM781.1 1169.4h3.6v3.6h-3.6zM812.1 1171h3.6v3.6h-3.6zM744.6 1170h3.6v3.6h-3.6zM789.7 1170.1h3.6v3.6h-3.6zM746.6 1169.6h3.6v3.6h-3.6zM736.6 1169.8h3.6v3.6h-3.6zM767.1 1170.1h3.6v3.6h-3.6zM769.5 1169.1h3.6v3.6h-3.6zM776.9 1170.4h3.6v3.6h-3.6zM769.1 1169.7h3.6v3.6h-3.6zM746.1 1170.4h3.6v3.6h-3.6zM787.4 1170.5h3.6v3.6h-3.6zM752.1 1170.2h3.6v3.6h-3.6zM754.1 1169.1h3.6v3.6h-3.6zM795.8 1170.1h3.6v3.6h-3.6zM787.4 1169.7h3.6v3.6h-3.6zM791.2 1170.4h3.6v3.6h-3.6zM807.8 1170.4h3.6v3.6h-3.6zM772.2 1173.3h3.6v3.6h-3.6zM791.6 1173.8h3.6v3.6h-3.6zM741.7 1173.9h3.6v3.6h-3.6zM798.8 1172.2h3.6v3.6h-3.6zM811.8 1173.5h3.6v3.6h-3.6zM806 1173.1h3.6v3.6h-3.6zM798.4 1172.4h3.6v3.6h-3.6zM763.9 1173.8h3.6v3.6h-3.6zM808.7 1173.1h3.6v3.6h-3.6zM777.2 1172.1h3.6v3.6h-3.6zM747.8 1172.8h3.6v3.6h-3.6zM775.6 1173.4h3.6v3.6h-3.6zM801.7 1173.7h3.6v3.6h-3.6zM787.1 1172.4h3.6v3.6h-3.6zM800.2 1173.2h3.6v3.6h-3.6zM732.5 1172.2h3.6v3.6h-3.6zM811.8 1173.8h3.6v3.6h-3.6zM807.8 1172h3.6v3.6h-3.6zM772.2 1173.9h3.6v3.6h-3.6zM807.9 1173.1h3.6v3.6h-3.6zM744.9 1173.5h3.6v3.6h-3.6zM760.5 1173.3h3.6v3.6h-3.6zM743.9 1173h3.6v3.6h-3.6zM766.7 1176h3.6v3.6h-3.6zM747.2 1175.7h3.6v3.6h-3.6zM753.8 1175.9h3.6v3.6h-3.6zM737.5 1175.6h3.6v3.6h-3.6zM752.3 1176.2h3.6v3.6h-3.6zM785 1176.7h3.6v3.6h-3.6zM776.3 1176.2h3.6v3.6h-3.6zM777.7 1175.4h3.6v3.6h-3.6zM774.4 1175.1h3.6v3.6h-3.6zM809.8 1176.8h3.6v3.6h-3.6zM801.7 1175.6h3.6v3.6h-3.6zM751.9 1176.4h3.6v3.6h-3.6zM776.8 1176.9h3.6v3.6h-3.6zM811.8 1176.9h3.6v3.6h-3.6zM752.2 1176.1h3.6v3.6h-3.6zM789 1176.8h3.6v3.6h-3.6zM784.5 1175.8h3.6v3.6h-3.6zM786.3 1176.9h3.6v3.6h-3.6zM776.7 1176.4h3.6v3.6h-3.6zM792.4 1175.2h3.6v3.6h-3.6zM761.4 1176.6h3.6v3.6h-3.6zM809 1175.3h3.6v3.6h-3.6zM777.7 1177h3.6v3.6h-3.6zM758.2 1175.1h3.6v3.6h-3.6zM783.7 1176.5h3.6v3.6h-3.6zM787.7 1175.3h3.6v3.6h-3.6zM807.5 1176.1h3.6v3.6h-3.6zM783.5 1175.7h3.6v3.6h-3.6zM803.8 1179.7h3.6v3.6h-3.6zM752.8 1178.9h3.6v3.6h-3.6zM790.6 1179.3h3.6v3.6h-3.6zM809.3 1178.6h3.6v3.6h-3.6zM734.9 1179.4h3.6v3.6h-3.6zM790.1 1178.7h3.6v3.6h-3.6zM736.6 1179.6h3.6v3.6h-3.6zM795.6 1179h3.6v3.6h-3.6zM802.3 1179.8h3.6v3.6h-3.6zM741.3 1179.1h3.6v3.6h-3.6zM804.6 1179.7h3.6v3.6h-3.6zM766.7 1178.9h3.6v3.6h-3.6zM755.7 1179.3h3.6v3.6h-3.6zM811.5 1178.5h3.6v3.6h-3.6zM762.1 1179.2h3.6v3.6h-3.6zM747.3 1179.3h3.6v3.6h-3.6zM757.5 1178.4h3.6v3.6h-3.6zM806.3 1179.1h3.6v3.6h-3.6zM813.1 1179.8h3.6v3.6h-3.6zM768.1 1178.4h3.6v3.6h-3.6zM771.4 1179h3.6v3.6h-3.6zM780.3 1179.7h3.6v3.6h-3.6zM800.8 1178.9h3.6v3.6h-3.6zM730.3 1178.1h3.6v3.6h-3.6zM797.1 1179.1h3.6v3.6h-3.6zM812.1 1178.9h3.6v3.6h-3.6zM763.9 1179.9h3.6v3.6h-3.6zM766.7 1179.3h3.6v3.6h-3.6zM810.8 1179.6h3.6v3.6h-3.6zM764 1178.7h3.6v3.6h-3.6zM761.5 1179.8h3.6v3.6h-3.6zM799.8 1182.9h3.6v3.6h-3.6zM737.2 1182.7h3.6v3.6h-3.6zM785.6 1182.5h3.6v3.6h-3.6zM806.3 1181.2h3.6v3.6h-3.6zM784.7 1182.2h3.6v3.6h-3.6zM812 1182.4h3.6v3.6h-3.6zM751.7 1181.9h3.6v3.6h-3.6zM779.4 1181.8h3.6v3.6h-3.6zM774.8 1182.5h3.6v3.6h-3.6zM754.6 1181h3.6v3.6h-3.6zM795.8 1181.9h3.6v3.6h-3.6zM766.1 1181.5h3.6v3.6h-3.6zM784.6 1181.9h3.6v3.6h-3.6zM795.9 1182.1h3.6v3.6h-3.6zM791.2 1181.8h3.6v3.6h-3.6zM738 1182.8h3.6v3.6h-3.6zM734.2 1182.8h3.6v3.6h-3.6zM799.1 1182.5h3.6v3.6h-3.6zM784.7 1182.6h3.6v3.6h-3.6zM742.1 1182h3.6v3.6h-3.6zM740.5 1181.5h3.6v3.6h-3.6zM771.7 1182.6h3.6v3.6h-3.6zM744.6 1181.2h3.6v3.6h-3.6zM808.5 1182.2h3.6v3.6h-3.6zM748.5 1182.3h3.6v3.6h-3.6zM809.6 1181.2h3.6v3.6h-3.6zM790.3 1181.4h3.6v3.6h-3.6zM776.7 1182.3h3.6v3.6h-3.6zM786.5 1182.7h3.6v3.6h-3.6zM788.3 1181.8h3.6v3.6h-3.6zM753.7 1182.1h3.6v3.6h-3.6zM770.9 1182.4h3.6v3.6h-3.6zM735.1 1182.2h3.6v3.6h-3.6zM733.6 1181.9h3.6v3.6h-3.6zM783.7 1184.8h3.6v3.6h-3.6zM789.8 1184.5h3.6v3.6h-3.6zM797.5 1185.1h3.6v3.6h-3.6zM777.1 1185.8h3.6v3.6h-3.6zM785.6 1185.9h3.6v3.6h-3.6zM746.1 1185.2h3.6v3.6h-3.6zM743.2 1184.8h3.6v3.6h-3.6zM798.2 1185.5h3.6v3.6h-3.6zM748.5 1185.1h3.6v3.6h-3.6zM766.6 1185.6h3.6v3.6h-3.6zM804.6 1185.7h3.6v3.6h-3.6zM742 1185.4h3.6v3.6h-3.6zM787.1 1185.9h3.6v3.6h-3.6zM750.6 1185.3h3.6v3.6h-3.6zM782.6 1185.9h3.6v3.6h-3.6zM798.8 1185.3h3.6v3.6h-3.6zM799.2 1184.4h3.6v3.6h-3.6zM795.5 1185.3h3.6v3.6h-3.6zM773.5 1185.5h3.6v3.6h-3.6zM775.7 1184.8h3.6v3.6h-3.6zM744.1 1184.3h3.6v3.6h-3.6zM739.4 1184.7h3.6v3.6h-3.6zM793 1185.6h3.6v3.6h-3.6zM733.9 1184.4h3.6v3.6h-3.6zM808.7 1184h3.6v3.6h-3.6zM745.3 1185.8h3.6v3.6h-3.6zM790.6 1185.9h3.6v3.6h-3.6zM767.5 1185.7h3.6v3.6h-3.6zM781.5 1185.6h3.6v3.6h-3.6zM793.7 1185.5h3.6v3.6h-3.6zM754.6 1185.1h3.6v3.6h-3.6zM799.6 1185.3h3.6v3.6h-3.6zM793.6 1185.5h3.6v3.6h-3.6zM778.8 1184.7h3.6v3.6h-3.6zM778.3 1184.4h3.6v3.6h-3.6zM762.1 1185.4h3.6v3.6h-3.6zM811.8 1185.2h3.6v3.6h-3.6zM813.6 1188.9h3.6v3.6h-3.6zM764.7 1188.3h3.6v3.6h-3.6zM764.7 1187.7h3.6v3.6h-3.6zM739.9 1187.5h3.6v3.6h-3.6zM730.8 1187.2h3.6v3.6h-3.6zM741.3 1187.1h3.6v3.6h-3.6zM779.8 1187.4h3.6v3.6h-3.6zM811.3 1187.6h3.6v3.6h-3.6zM739.1 1188.1h3.6v3.6h-3.6zM743.1 1187.8h3.6v3.6h-3.6zM787.4 1187.1h3.6v3.6h-3.6zM755.1 1187.3h3.6v3.6h-3.6zM733.4 1187h3.6v3.6h-3.6zM804.9 1187.1h3.6v3.6h-3.6zM742.2 1187.6h3.6v3.6h-3.6zM766.5 1188.3h3.6v3.6h-3.6zM793.6 1187.3h3.6v3.6h-3.6zM795.7 1188.8h3.6v3.6h-3.6zM810.6 1189h3.6v3.6h-3.6zM779.8 1188.2h3.6v3.6h-3.6zM742.1 1187.1h3.6v3.6h-3.6zM736.3 1187.4h3.6v3.6h-3.6zM784.1 1188h3.6v3.6h-3.6zM775 1188.9h3.6v3.6h-3.6zM750.7 1189h3.6v3.6h-3.6zM743.5 1188.5h3.6v3.6h-3.6zM759.2 1188.8h3.6v3.6h-3.6zM753.9 1187.2h3.6v3.6h-3.6zM759.6 1188h3.6v3.6h-3.6zM759.3 1188h3.6v3.6h-3.6zM793.4 1187.4h3.6v3.6h-3.6zM768.7 1188.1h3.6v3.6h-3.6zM801.5 1188.1h3.6v3.6h-3.6zM772.1 1188.9h3.6v3.6h-3.6zM754.2 1187.1h3.6v3.6h-3.6zM808 1187.6h3.6v3.6h-3.6zM784.8 1187.3h3.6v3.6h-3.6zM801.1 1187.4h3.6v3.6h-3.6zM749.3 1187.6h3.6v3.6h-3.6zM760.8 1190.5h3.6v3.6h-3.6zM810.8 1191.5h3.6v3.6h-3.6zM757.4 1191.7h3.6v3.6h-3.6zM770.6 1191h3.6v3.6h-3.6zM743.6 1191.9h3.6v3.6h-3.6zM748.2 1191.4h3.6v3.6h-3.6zM747.9 1191.9h3.6v3.6h-3.6zM777.8 1190.4h3.6v3.6h-3.6zM755 1191.9h3.6v3.6h-3.6zM753.1 1191.5h3.6v3.6h-3.6zM774 1191.9h3.6v3.6h-3.6zM730.9 1190.7h3.6v3.6h-3.6zM802.8 1191.1h3.6v3.6h-3.6zM733.9 1191.8h3.6v3.6h-3.6zM764.4 1191.3h3.6v3.6h-3.6zM813.4 1190.6h3.6v3.6h-3.6zM743.8 1190.6h3.6v3.6h-3.6zM733.3 1191.9h3.6v3.6h-3.6zM770.8 1191.3h3.6v3.6h-3.6zM783 1190.1h3.6v3.6h-3.6zM762 1190.5h3.6v3.6h-3.6zM748.2 1191.1h3.6v3.6h-3.6zM788.2 1190.4h3.6v3.6h-3.6zM779.6 1190.9h3.6v3.6h-3.6zM759 1191.3h3.6v3.6h-3.6zM781.8 1190.2h3.6v3.6h-3.6zM800.8 1190.5h3.6v3.6h-3.6zM773.2 1191.8h3.6v3.6h-3.6zM762.4 1190.1h3.6v3.6h-3.6zM781.8 1190.2h3.6v3.6h-3.6zM772.4 1191.6h3.6v3.6h-3.6zM737.9 1191.4h3.6v3.6h-3.6zM806.2 1190.9h3.6v3.6h-3.6zM740 1191.7h3.6v3.6h-3.6zM792.5 1190.4h3.6v3.6h-3.6zM766.3 1190h3.6v3.6h-3.6zM796 1191.6h3.6v3.6h-3.6zM773.9 1191.3h3.6v3.6h-3.6zM799.2 1190.7h3.6v3.6h-3.6zM769.4 1191.2h3.6v3.6h-3.6zM736.4 1193.3h3.6v3.6h-3.6zM756.1 1194.6h3.6v3.6h-3.6zM777.8 1193.8h3.6v3.6h-3.6zM801.2 1194.3h3.6v3.6h-3.6zM756.4 1194.1h3.6v3.6h-3.6zM734.7 1194.6h3.6v3.6h-3.6zM737 1193.1h3.6v3.6h-3.6zM755.5 1193.2h3.6v3.6h-3.6zM782.7 1193.6h3.6v3.6h-3.6zM789.4 1193.4h3.6v3.6h-3.6zM788.5 1194.4h3.6v3.6h-3.6zM803.8 1193.2h3.6v3.6h-3.6zM787.4 1193.2h3.6v3.6h-3.6zM786.4 1194.1h3.6v3.6h-3.6zM779.9 1193.1h3.6v3.6h-3.6zM786.1 1194.6h3.6v3.6h-3.6zM791.5 1193.7h3.6v3.6h-3.6zM812.4 1193.6h3.6v3.6h-3.6zM744.7 1194.2h3.6v3.6h-3.6zM784.1 1195h3.6v3.6h-3.6zM740.1 1193.6h3.6v3.6h-3.6zM747 1193.5h3.6v3.6h-3.6zM808.2 1193.7h3.6v3.6h-3.6zM763.9 1194.6h3.6v3.6h-3.6zM777.7 1194.9h3.6v3.6h-3.6zM747.5 1193.3h3.6v3.6h-3.6zM772.8 1193.1h3.6v3.6h-3.6zM731.6 1193.6h3.6v3.6h-3.6zM778.8 1193.6h3.6v3.6h-3.6zM810.5 1194.5h3.6v3.6h-3.6zM787.8 1194.4h3.6v3.6h-3.6zM786 1194.5h3.6v3.6h-3.6zM776.6 1193.8h3.6v3.6h-3.6zM756.7 1193.9h3.6v3.6h-3.6zM795.2 1194.9h3.6v3.6h-3.6zM762.5 1193.1h3.6v3.6h-3.6zM758.1 1193h3.6v3.6h-3.6zM776 1193h3.6v3.6h-3.6zM812.3 1194.6h3.6v3.6h-3.6zM791.8 1194h3.6v3.6h-3.6zM786.8 1194.4h3.6v3.6h-3.6zM785 1197.5h3.6v3.6h-3.6zM798.5 1197.2h3.6v3.6h-3.6zM774.5 1197.6h3.6v3.6h-3.6zM757.4 1196.3h3.6v3.6h-3.6zM739 1197.2h3.6v3.6h-3.6zM764.4 1196.5h3.6v3.6h-3.6zM746.1 1197h3.6v3.6h-3.6zM808.1 1196.9h3.6v3.6h-3.6zM794.3 1197.2h3.6v3.6h-3.6zM753.7 1197.1h3.6v3.6h-3.6zM772.9 1197.8h3.6v3.6h-3.6zM769.4 1197.2h3.6v3.6h-3.6zM780.8 1196.7h3.6v3.6h-3.6zM809.9 1197.6h3.6v3.6h-3.6zM752.9 1196.3h3.6v3.6h-3.6zM781.6 1197.6h3.6v3.6h-3.6zM772.3 1197.2h3.6v3.6h-3.6zM810.5 1196.5h3.6v3.6h-3.6zM748 1197.5h3.6v3.6h-3.6zM784.5 1196.2h3.6v3.6h-3.6zM737.2 1196.1h3.6v3.6h-3.6zM775.7 1196.5h3.6v3.6h-3.6zM811 1197h3.6v3.6h-3.6zM790.6 1197.3h3.6v3.6h-3.6zM732.2 1196.6h3.6v3.6h-3.6zM813 1197.2h3.6v3.6h-3.6zM775.3 1198h3.6v3.6h-3.6zM778.7 1198h3.6v3.6h-3.6zM809.8 1197.4h3.6v3.6h-3.6zM779.1 1196.6h3.6v3.6h-3.6zM748.2 1197h3.6v3.6h-3.6zM765.9 1197.6h3.6v3.6h-3.6zM793.1 1197.8h3.6v3.6h-3.6zM763.2 1197.9h3.6v3.6h-3.6zM743.8 1196.8h3.6v3.6h-3.6zM762.5 1196.7h3.6v3.6h-3.6zM738.3 1196.7h3.6v3.6h-3.6zM738 1197.6h3.6v3.6h-3.6zM739.8 1197.9h3.6v3.6h-3.6zM772.7 1197.1h3.6v3.6h-3.6zM756.8 1196.9h3.6v3.6h-3.6zM744.8 1197.3h3.6v3.6h-3.6zM314 1214.1h3.6v3.6h-3.6zM326.2 1214.9h3.6v3.6h-3.6zM294.9 1215.4h3.6v3.6h-3.6zM287.6 1215.1h3.6v3.6h-3.6zM312.7 1214.9h3.6v3.6h-3.6zM301.5 1214.1h3.6v3.6h-3.6zM291.9 1214.7h3.6v3.6h-3.6zM358.5 1213.5h3.6v3.6h-3.6zM336.5 1213.6h3.6v3.6h-3.6zM311.3 1213.5h3.6v3.6h-3.6zM360.7 1214.6h3.6v3.6h-3.6zM288.3 1215.3h3.6v3.6h-3.6zM308.1 1214.8h3.6v3.6h-3.6zM351.9 1213.6h3.6v3.6h-3.6zM358.8 1214.6h3.6v3.6h-3.6zM344.4 1213.8h3.6v3.6h-3.6zM294.7 1215h3.6v3.6h-3.6zM325.9 1214.2h3.6v3.6h-3.6zM285.3 1213.6h3.6v3.6h-3.6zM284.7 1213.7h3.6v3.6h-3.6zM350.2 1213.2h3.6v3.6h-3.6zM279.7 1213.9h3.6v3.6h-3.6zM287.4 1213.8h3.6v3.6h-3.6zM288.2 1214.1h3.6v3.6h-3.6zM337.8 1214.6h3.6v3.6h-3.6zM331 1215.2h3.6v3.6h-3.6zM297.2 1215h3.6v3.6h-3.6zM313.1 1214.4h3.6v3.6h-3.6zM357.4 1213.9h3.6v3.6h-3.6zM296.7 1213.4h3.6v3.6h-3.6zM285.1 1214.4h3.6v3.6h-3.6zM332.5 1213.2h3.6v3.6h-3.6zM288.3 1213.1h3.6v3.6h-3.6zM325.1 1214.5h3.6v3.6h-3.6zM300.4 1213.4h3.6v3.6h-3.6zM282.2 1215h3.6v3.6h-3.6zM333.4 1214.6h3.6v3.6h-3.6zM341.1 1214.3h3.6v3.6h-3.6zM305.2 1215.2h3.6v3.6h-3.6zM292.5 1213.3h3.6v3.6h-3.6zM359.5 1213.7h3.6v3.6h-3.6zM299.5 1214.2h3.6v3.6h-3.6zM299.7 1215.3h3.6v3.6h-3.6zM309.5 1213.2h3.6v3.6h-3.6zM299.2 1214.4h3.6v3.6h-3.6zM299.6 1215.2h3.6v3.6h-3.6zM355.2 1213.3h3.6v3.6h-3.6zM286.2 1214.7h3.6v3.6h-3.6zM347.8 1214.7h3.6v3.6h-3.6zM323.3 1213.9h3.6v3.6h-3.6zM282.4 1214.3h3.6v3.6h-3.6zM291.9 1215.2h3.6v3.6h-3.6zM333.2 1214.1h3.6v3.6h-3.6zM325.4 1214.1h3.6v3.6h-3.6zM299.3 1214.4h3.6v3.6h-3.6zM303.4 1213.1h3.6v3.6h-3.6zM355.4 1214.9h3.6v3.6h-3.6zM339.9 1213.1h3.6v3.6h-3.6zM333.7 1215.3h3.6v3.6h-3.6zM355.2 1215.3h3.6v3.6h-3.6zM298.5 1215h3.6v3.6h-3.6zM306.5 1215.1h3.6v3.6h-3.6zM348.2 1214.5h3.6v3.6h-3.6zM315.6 1213.7h3.6v3.6h-3.6zM319.6 1230.9h3.6v3.6h-3.6zM322 1226.8h3.6v3.6h-3.6zM304.6 1223.1h3.6v3.6h-3.6zM325.1 1219.8h3.6v3.6h-3.6zM309.8 1229.6h3.6v3.6h-3.6zM316.6 1222.2h3.6v3.6h-3.6zM308.6 1229.1h3.6v3.6h-3.6zM309.1 1226.5h3.6v3.6h-3.6zM328.4 1226.1h3.6v3.6h-3.6zM325 1234.5h3.6v3.6h-3.6zM302 1220.6h3.6v3.6h-3.6zM325 1228.8h3.6v3.6h-3.6zM330 1226.2h3.6v3.6h-3.6zM322.8 1221.6h3.6v3.6h-3.6zM322.4 1225.9h3.6v3.6h-3.6zM308.6 1234.1h3.6v3.6h-3.6zM322.6 1222.4h3.6v3.6h-3.6zM312.3 1230.8h3.6v3.6h-3.6zM329.9 1223.7h3.6v3.6h-3.6zM322.8 1228h3.6v3.6h-3.6zM310.5 1228.6h3.6v3.6h-3.6zM328.6 1220.2h3.6v3.6h-3.6zM325.1 1233.1h3.6v3.6h-3.6zM306.5 1225.6h3.6v3.6h-3.6zM307 1222.7h3.6v3.6h-3.6zM300.4 1222.6h3.6v3.6h-3.6zM324.9 1236.1h3.6v3.6h-3.6zM302.8 1235.4h3.6v3.6h-3.6zM308.9 1227.2h3.6v3.6h-3.6zM323.9 1223.7h3.6v3.6h-3.6zM309.9 1231.3h3.6v3.6h-3.6zM309.3 1219.9h3.6v3.6h-3.6zM302.1 1233.9h3.6v3.6h-3.6zM301.6 1219.1h3.6v3.6h-3.6zM318.5 1219.9h3.6v3.6h-3.6zM304.5 1224.8h3.6v3.6h-3.6zM331.2 1226.9h3.6v3.6h-3.6zM300.8 1219.1h3.6v3.6h-3.6zM310.2 1224h3.6v3.6h-3.6zM306 1236.1h3.6v3.6h-3.6zM329.1 1232.5h3.6v3.6h-3.6zM324.3 1220h3.6v3.6h-3.6zM303.6 1234.3h3.6v3.6h-3.6zM301.8 1227.1h3.6v3.6h-3.6zM302.7 1236.2h3.6v3.6h-3.6zM324 1224.6h3.6v3.6h-3.6zM324.2 1224.4h3.6v3.6h-3.6zM320.5 1230.8h3.6v3.6h-3.6zM315.8 1227.5h3.6v3.6h-3.6zM315 1223.8h3.6v3.6h-3.6zM319.3 1228.1h3.6v3.6h-3.6zM303.5 1230.1h3.6v3.6h-3.6zM325.7 1224.4h3.6v3.6h-3.6zM325.2 1233.3h3.6v3.6h-3.6zM322.1 1232h3.6v3.6h-3.6zM307.6 1232.1h3.6v3.6h-3.6zM307 1230.5h3.6v3.6h-3.6zM331.8 1223h3.6v3.6h-3.6zM330.7 1231.3h3.6v3.6h-3.6zM324.2 1222h3.6v3.6h-3.6zM325.4 1221.5h3.6v3.6h-3.6zM314.8 1227.8h3.6v3.6h-3.6zM328.4 1222h3.6v3.6h-3.6zM322.4 1221.2h3.6v3.6h-3.6zM314.2 1229.3h3.6v3.6h-3.6zM322.1 1236h3.6v3.6h-3.6zM302.6 1220h3.6v3.6h-3.6zM312.8 1226.7h3.6v3.6h-3.6zM327.3 1220.6h3.6v3.6h-3.6zM315.5 1228.4h3.6v3.6h-3.6zM318 1229h3.6v3.6h-3.6zM318.2 1227.5h3.6v3.6h-3.6zM330.6 1219.7h3.6v3.6h-3.6zM306.5 1231.2h3.6v3.6h-3.6zM349.9 1224.1h3.6v3.6h-3.6zM351.4 1234.4h3.6v3.6h-3.6zM353.6 1226.2h3.6v3.6h-3.6zM359.2 1220.3h3.6v3.6h-3.6zM348.2 1221.1h3.6v3.6h-3.6zM359.4 1221.4h3.6v3.6h-3.6zM342.1 1231.2h3.6v3.6h-3.6zM348.6 1231.4h3.6v3.6h-3.6zM342.1 1235.4h3.6v3.6h-3.6zM346.7 1224.7h3.6v3.6h-3.6zM359.1 1233.8h3.6v3.6h-3.6zM360.8 1224.2h3.6v3.6h-3.6zM349.1 1225.1h3.6v3.6h-3.6zM344.5 1231.7h3.6v3.6h-3.6zM345.6 1226.6h3.6v3.6h-3.6zM359.1 1238.4h3.6v3.6h-3.6zM348.3 1225.1h3.6v3.6h-3.6zM342.6 1223.6h3.6v3.6h-3.6zM357.5 1236.1h3.6v3.6h-3.6zM349.9 1235.9h3.6v3.6h-3.6zM348 1222.2h3.6v3.6h-3.6zM359.1 1225.5h3.6v3.6h-3.6zM355.5 1228.9h3.6v3.6h-3.6zM338.3 1220.3h3.6v3.6h-3.6zM360.6 1226.2h3.6v3.6h-3.6zM348.6 1233.9h3.6v3.6h-3.6zM342.2 1233.9h3.6v3.6h-3.6zM359.3 1221.9h3.6v3.6h-3.6zM347.8 1224.9h3.6v3.6h-3.6zM354 1224.2h3.6v3.6h-3.6zM355.6 1232.3h3.6v3.6h-3.6zM342.6 1221.6h3.6v3.6h-3.6zM361 1238.1h3.6v3.6h-3.6zM351.2 1221.3h3.6v3.6h-3.6zM339.3 1229.3h3.6v3.6h-3.6zM350.6 1232.6h3.6v3.6h-3.6zM338.4 1237.4h3.6v3.6h-3.6zM360.9 1230.9h3.6v3.6h-3.6zM353.6 1235.6h3.6v3.6h-3.6zM346.9 1229.3h3.6v3.6h-3.6zM356.7 1223.3h3.6v3.6h-3.6zM356.6 1227.2h3.6v3.6h-3.6zM354.4 1230.8h3.6v3.6h-3.6zM343.5 1229.3h3.6v3.6h-3.6zM340.2 1234.2h3.6v3.6h-3.6zM358 1229.5h3.6v3.6h-3.6zM358.8 1226.4h3.6v3.6h-3.6zM346.1 1229h3.6v3.6h-3.6zM347 1229.1h3.6v3.6h-3.6zM347.4 1219.2h3.6v3.6h-3.6zM344.5 1225.4h3.6v3.6h-3.6zM360 1230.1h3.6v3.6h-3.6zM350.4 1232.8h3.6v3.6h-3.6zM354.6 1227.3h3.6v3.6h-3.6zM352.2 1233.5h3.6v3.6h-3.6zM340.1 1228.8h3.6v3.6h-3.6zM339.7 1226.2h3.6v3.6h-3.6zM341.5 1223.7h3.6v3.6h-3.6zM349.6 1234.5h3.6v3.6h-3.6zM352.7 1236.9h3.6v3.6h-3.6zM361.3 1233.1h3.6v3.6h-3.6zM359.1 1223.3h3.6v3.6h-3.6zM355.3 1232.7h3.6v3.6h-3.6zM347 1228.8h3.6v3.6h-3.6zM346.1 1236.9h3.6v3.6h-3.6zM354.3 1219.1h3.6v3.6h-3.6zM346.1 1234h3.6v3.6h-3.6zM355.9 1228h3.6v3.6h-3.6zM355 1235.6h3.6v3.6h-3.6zM340.8 1230.8h3.6v3.6h-3.6zM356.8 1219.1h3.6v3.6h-3.6zM340.2 1232.4h3.6v3.6h-3.6zM345.4 1229.3h3.6v3.6h-3.6zM360.8 1223.6h3.6v3.6h-3.6zM353.2 1221.4h3.6v3.6h-3.6zM358 1226.7h3.6v3.6h-3.6zM359.7 1229.9h3.6v3.6h-3.6zM288.4 1220.4h3.6v3.6h-3.6zM281.3 1225.4h3.6v3.6h-3.6zM410.9 1213.8h3.6v3.6h-3.6zM425.9 1214.3h3.6v3.6h-3.6zM401 1213.8h3.6v3.6h-3.6zM389 1214h3.6v3.6h-3.6zM430.1 1213.7h3.6v3.6h-3.6zM386.1 1213.1h3.6v3.6h-3.6zM374.1 1213.8h3.6v3.6h-3.6zM397.5 1213.8h3.6v3.6h-3.6zM403.8 1213.8h3.6v3.6h-3.6zM385.4 1213.4h3.6v3.6h-3.6zM442 1213.4h3.6v3.6h-3.6zM387.1 1213.5h3.6v3.6h-3.6zM378.8 1213h3.6v3.6h-3.6zM419.7 1213.2h3.6v3.6h-3.6zM380.4 1213.4h3.6v3.6h-3.6zM390.7 1213.7h3.6v3.6h-3.6zM400.9 1214.3h3.6v3.6h-3.6zM390.3 1214h3.6v3.6h-3.6zM419.1 1213.7h3.6v3.6h-3.6zM380.1 1214h3.6v3.6h-3.6zM418.4 1213.6h3.6v3.6h-3.6zM378.3 1213.1h3.6v3.6h-3.6zM413.5 1214h3.6v3.6h-3.6zM443.8 1214h3.6v3.6h-3.6zM429.2 1213.9h3.6v3.6h-3.6zM441.3 1214.2h3.6v3.6h-3.6zM410.9 1214.1h3.6v3.6h-3.6zM381.5 1214.2h3.6v3.6h-3.6zM397.6 1213.1h3.6v3.6h-3.6zM428.4 1214.4h3.6v3.6h-3.6zM379.5 1213.8h3.6v3.6h-3.6zM419.9 1213.8h3.6v3.6h-3.6zM394 1213.9h3.6v3.6h-3.6zM439.1 1213.4h3.6v3.6h-3.6zM396.1 1213.4h3.6v3.6h-3.6zM394 1214.2h3.6v3.6h-3.6zM390.2 1213.8h3.6v3.6h-3.6zM397.3 1219.8h3.6v3.6h-3.6zM375.9 1230.7h3.6v3.6h-3.6zM386.6 1226.7h3.6v3.6h-3.6zM387 1225.5h3.6v3.6h-3.6zM371.1 1219.3h3.6v3.6h-3.6zM387.8 1224.9h3.6v3.6h-3.6zM380.9 1218.3h3.6v3.6h-3.6zM382.2 1230.5h3.6v3.6h-3.6zM375.3 1229.6h3.6v3.6h-3.6zM386.9 1220.2h3.6v3.6h-3.6zM389.1 1226.4h3.6v3.6h-3.6zM395.3 1220.9h3.6v3.6h-3.6zM393.9 1229.7h3.6v3.6h-3.6zM397.8 1221.1h3.6v3.6h-3.6zM397.7 1220.8h3.6v3.6h-3.6zM389.9 1222.7h3.6v3.6h-3.6zM378 1233.9h3.6v3.6h-3.6zM385.3 1231.4h3.6v3.6h-3.6zM372.4 1224.6h3.6v3.6h-3.6zM386.1 1231h3.6v3.6h-3.6zM378.7 1223.9h3.6v3.6h-3.6zM385.2 1221.1h3.6v3.6h-3.6zM391.3 1232.7h3.6v3.6h-3.6zM371.7 1218.6h3.6v3.6h-3.6zM394.9 1231h3.6v3.6h-3.6zM371.1 1233.7h3.6v3.6h-3.6zM383.9 1219.4h3.6v3.6h-3.6zM376.2 1232.1h3.6v3.6h-3.6zM371.1 1230.8h3.6v3.6h-3.6zM383.6 1218.7h3.6v3.6h-3.6zM377.4 1225.3h3.6v3.6h-3.6zM372.3 1222.3h3.6v3.6h-3.6zM393.4 1224.3h3.6v3.6h-3.6zM377 1224.3h3.6v3.6h-3.6zM396.6 1224.5h3.6v3.6h-3.6zM387.3 1218.2h3.6v3.6h-3.6zM380.1 1222.4h3.6v3.6h-3.6zM371.7 1222.8h3.6v3.6h-3.6zM394.3 1228.6h3.6v3.6h-3.6zM432.2 1221.3h3.6v3.6h-3.6zM434.6 1218.4h3.6v3.6h-3.6zM429.6 1225.6h3.6v3.6h-3.6zM440.8 1223.8h3.6v3.6h-3.6zM426.1 1219.7h3.6v3.6h-3.6zM500.5 1214.4h3.6v3.6h-3.6zM540.3 1213.8h3.6v3.6h-3.6zM509.1 1214.2h3.6v3.6h-3.6zM481.9 1213h3.6v3.6h-3.6zM527.6 1213.9h3.6v3.6h-3.6zM489.8 1213.7h3.6v3.6h-3.6zM454.9 1213.5h3.6v3.6h-3.6zM460.8 1214.3h3.6v3.6h-3.6zM541.9 1213.1h3.6v3.6h-3.6zM462.1 1213.7h3.6v3.6h-3.6zM525.5 1213.4h3.6v3.6h-3.6zM456.3 1214.3h3.6v3.6h-3.6zM492.4 1214.1h3.6v3.6h-3.6zM479.4 1213.3h3.6v3.6h-3.6zM485.1 1213.2h3.6v3.6h-3.6zM461.9 1213h3.6v3.6h-3.6zM490.4 1213.3h3.6v3.6h-3.6zM523.3 1214.3h3.6v3.6h-3.6zM501.7 1214.2h3.6v3.6h-3.6zM465.6 1214.1h3.6v3.6h-3.6zM527.5 1213.6h3.6v3.6h-3.6zM533.6 1213.7h3.6v3.6h-3.6zM495.4 1213.8h3.6v3.6h-3.6zM486.5 1214.1h3.6v3.6h-3.6zM455.1 1213h3.6v3.6h-3.6zM460 1213.3h3.6v3.6h-3.6zM488 1213.8h3.6v3.6h-3.6zM463.9 1213.2h3.6v3.6h-3.6zM542.6 1214.3h3.6v3.6h-3.6zM512.7 1213.1h3.6v3.6h-3.6zM482.3 1214.4h3.6v3.6h-3.6zM507.3 1213.3h3.6v3.6h-3.6zM469 1213.3h3.6v3.6h-3.6zM537.8 1213.6h3.6v3.6h-3.6zM499.5 1213.9h3.6v3.6h-3.6zM517.8 1214.4h3.6v3.6h-3.6zM470.2 1213.7h3.6v3.6h-3.6zM497 1214.3h3.6v3.6h-3.6zM519.1 1214.2h3.6v3.6h-3.6zM489.1 1214.4h3.6v3.6h-3.6zM459.5 1213.5h3.6v3.6h-3.6zM496.6 1213.7h3.6v3.6h-3.6zM529.2 1213h3.6v3.6h-3.6zM496 1213.5h3.6v3.6h-3.6zM462.6 1224.4h3.6v3.6h-3.6zM457 1227.2h3.6v3.6h-3.6zM474.3 1230.4h3.6v3.6h-3.6zM460.8 1229.5h3.6v3.6h-3.6zM457.2 1229.8h3.6v3.6h-3.6zM456.8 1220.5h3.6v3.6h-3.6zM454.6 1230.7h3.6v3.6h-3.6zM472.4 1229h3.6v3.6h-3.6zM467 1222.4h3.6v3.6h-3.6zM466.8 1228.8h3.6v3.6h-3.6zM464.1 1230.8h3.6v3.6h-3.6zM477.5 1228h3.6v3.6h-3.6zM463.2 1227.9h3.6v3.6h-3.6zM507.8 1224.6h3.6v3.6h-3.6zM509 1226.5h3.6v3.6h-3.6zM506.2 1228.1h3.6v3.6h-3.6zM486.2 1221.2h3.6v3.6h-3.6zM489.9 1219.3h3.6v3.6h-3.6zM487.4 1231.8h3.6v3.6h-3.6zM497.2 1230.2h3.6v3.6h-3.6zM485.9 1220.6h3.6v3.6h-3.6zM499.6 1229.8h3.6v3.6h-3.6zM510.2 1229.7h3.6v3.6h-3.6zM511.9 1220.6h3.6v3.6h-3.6zM485.1 1229.6h3.6v3.6h-3.6zM503.4 1223.5h3.6v3.6h-3.6zM488.1 1222.8h3.6v3.6h-3.6zM508.5 1220.3h3.6v3.6h-3.6zM484.9 1226.5h3.6v3.6h-3.6zM486.9 1226.8h3.6v3.6h-3.6zM493.2 1225.4h3.6v3.6h-3.6zM484.1 1219.4h3.6v3.6h-3.6zM502.8 1229.5h3.6v3.6h-3.6zM489.8 1222.6h3.6v3.6h-3.6zM504.4 1221.8h3.6v3.6h-3.6zM511 1227.2h3.6v3.6h-3.6zM497.4 1220.7h3.6v3.6h-3.6zM497.4 1231.1h3.6v3.6h-3.6zM512.3 1227.3h3.6v3.6h-3.6zM492.9 1229.4h3.6v3.6h-3.6zM509.2 1222.9h3.6v3.6h-3.6zM504.3 1224.2h3.6v3.6h-3.6zM484.3 1221.6h3.6v3.6h-3.6zM492.5 1221.6h3.6v3.6h-3.6zM504.5 1224h3.6v3.6h-3.6zM485.3 1229.3h3.6v3.6h-3.6zM508.4 1225.2h3.6v3.6h-3.6zM509.9 1230h3.6v3.6h-3.6zM505.6 1219.6h3.6v3.6h-3.6zM507 1222.2h3.6v3.6h-3.6zM501 1218.5h3.6v3.6h-3.6zM507 1231.2h3.6v3.6h-3.6zM497.3 1218.9h3.6v3.6h-3.6zM495.6 1225.8h3.6v3.6h-3.6zM504 1227.7h3.6v3.6h-3.6zM497.2 1220.9h3.6v3.6h-3.6zM492.8 1232.1h3.6v3.6h-3.6zM491.5 1232.1h3.6v3.6h-3.6zM496.4 1221.4h3.6v3.6h-3.6zM494.8 1220h3.6v3.6h-3.6zM505.4 1227.4h3.6v3.6h-3.6zM506.3 1225.4h3.6v3.6h-3.6zM506.7 1226.7h3.6v3.6h-3.6zM508 1226.9h3.6v3.6h-3.6zM494.3 1231.8h3.6v3.6h-3.6zM494.5 1229.1h3.6v3.6h-3.6zM507.8 1222.5h3.6v3.6h-3.6zM489.1 1228.8h3.6v3.6h-3.6zM503.9 1224.5h3.6v3.6h-3.6zM498.9 1232h3.6v3.6h-3.6zM502.9 1224.9h3.6v3.6h-3.6zM503.8 1218.2h3.6v3.6h-3.6zM503 1231.2h3.6v3.6h-3.6zM490.7 1222h3.6v3.6h-3.6zM484.7 1229.8h3.6v3.6h-3.6zM511.1 1226.8h3.6v3.6h-3.6zM509.5 1228.7h3.6v3.6h-3.6zM498.3 1228.6h3.6v3.6h-3.6zM502.8 1231h3.6v3.6h-3.6zM486.6 1230h3.6v3.6h-3.6zM535.7 1221.6h3.6v3.6h-3.6zM527 1220.4h3.6v3.6h-3.6zM531.5 1220.6h3.6v3.6h-3.6zM525.6 1220.6h3.6v3.6h-3.6zM527.2 1219.6h3.6v3.6h-3.6zM530.6 1222.9h3.6v3.6h-3.6zM560.5 1213.5h3.6v3.6h-3.6zM572.3 1214h3.6v3.6h-3.6zM566.5 1213.6h3.6v3.6h-3.6zM607.1 1213.7h3.6v3.6h-3.6zM574.8 1213.3h3.6v3.6h-3.6zM561.1 1214.4h3.6v3.6h-3.6zM615.8 1213.1h3.6v3.6h-3.6zM586.7 1214h3.6v3.6h-3.6zM614.5 1213.9h3.6v3.6h-3.6zM577.8 1213.5h3.6v3.6h-3.6zM579.8 1214.4h3.6v3.6h-3.6zM595.9 1213.1h3.6v3.6h-3.6zM558.8 1213.4h3.6v3.6h-3.6zM627.6 1213.5h3.6v3.6h-3.6zM563.6 1213.9h3.6v3.6h-3.6zM622.8 1213.8h3.6v3.6h-3.6zM603.5 1214h3.6v3.6h-3.6zM611.5 1214.2h3.6v3.6h-3.6zM569.4 1213h3.6v3.6h-3.6zM621.2 1213.8h3.6v3.6h-3.6zM594.2 1213.6h3.6v3.6h-3.6zM584.9 1214h3.6v3.6h-3.6zM568.1 1213.7h3.6v3.6h-3.6zM566.5 1213.5h3.6v3.6h-3.6zM619 1213h3.6v3.6h-3.6zM627.1 1213.4h3.6v3.6h-3.6zM585.2 1213.6h3.6v3.6h-3.6zM608.4 1213.5h3.6v3.6h-3.6zM606.5 1213.5h3.6v3.6h-3.6zM591 1213.9h3.6v3.6h-3.6zM590 1213.5h3.6v3.6h-3.6zM595.5 1214.2h3.6v3.6h-3.6zM567 1226.9h3.6v3.6h-3.6zM569.2 1224.6h3.6v3.6h-3.6zM569.2 1225.1h3.6v3.6h-3.6zM583.5 1222.1h3.6v3.6h-3.6zM574.4 1222h3.6v3.6h-3.6zM585.3 1219.6h3.6v3.6h-3.6zM556.1 1219.5h3.6v3.6h-3.6zM585 1224.5h3.6v3.6h-3.6zM561.9 1221.6h3.6v3.6h-3.6zM583.3 1218.3h3.6v3.6h-3.6zM557.3 1219.8h3.6v3.6h-3.6zM603.3 1222.5h3.6v3.6h-3.6zM604.1 1231.7h3.6v3.6h-3.6zM612.3 1219.8h3.6v3.6h-3.6zM626.6 1229.7h3.6v3.6h-3.6zM616.3 1224.9h3.6v3.6h-3.6zM621.2 1222.2h3.6v3.6h-3.6zM601.3 1221.7h3.6v3.6h-3.6zM619.7 1223.1h3.6v3.6h-3.6zM625.2 1223.3h3.6v3.6h-3.6zM629.2 1221.3h3.6v3.6h-3.6zM620.4 1221.2h3.6v3.6h-3.6zM617.1 1232h3.6v3.6h-3.6zM628.2 1224.1h3.6v3.6h-3.6zM602.1 1227h3.6v3.6h-3.6zM622.9 1228.1h3.6v3.6h-3.6zM620.6 1222.8h3.6v3.6h-3.6zM620.8 1231.5h3.6v3.6h-3.6zM609.1 1222.2h3.6v3.6h-3.6zM600.5 1220.8h3.6v3.6h-3.6zM602.4 1218.6h3.6v3.6h-3.6zM619.3 1221.8h3.6v3.6h-3.6zM642.7 1214h3.6v3.6h-3.6zM690.2 1213.9h3.6v3.6h-3.6zM685.8 1214.4h3.6v3.6h-3.6zM639.4 1214.4h3.6v3.6h-3.6zM717.2 1214.2h3.6v3.6h-3.6zM698.6 1213.7h3.6v3.6h-3.6zM683.7 1214.1h3.6v3.6h-3.6zM716.8 1213.3h3.6v3.6h-3.6zM682 1214.2h3.6v3.6h-3.6zM652.3 1213.3h3.6v3.6h-3.6zM702.9 1214.4h3.6v3.6h-3.6zM717.6 1213h3.6v3.6h-3.6zM642.5 1214.1h3.6v3.6h-3.6zM679.8 1213.7h3.6v3.6h-3.6zM656.5 1214.1h3.6v3.6h-3.6zM713.3 1213.7h3.6v3.6h-3.6zM645.5 1214.2h3.6v3.6h-3.6zM705.2 1214h3.6v3.6h-3.6zM654.8 1213.9h3.6v3.6h-3.6zM691.3 1214.3h3.6v3.6h-3.6zM695.6 1213.2h3.6v3.6h-3.6zM701.3 1214.3h3.6v3.6h-3.6zM642 1213.7h3.6v3.6h-3.6zM678 1214h3.6v3.6h-3.6zM648 1213.9h3.6v3.6h-3.6zM648.1 1213.5h3.6v3.6h-3.6zM651.1 1213.7h3.6v3.6h-3.6zM649.9 1214.4h3.6v3.6h-3.6zM715.9 1213.7h3.6v3.6h-3.6zM684.5 1214.3h3.6v3.6h-3.6zM658.8 1213h3.6v3.6h-3.6zM678.2 1213.8h3.6v3.6h-3.6zM642.1 1214h3.6v3.6h-3.6zM655.6 1213.6h3.6v3.6h-3.6zM690.1 1213.1h3.6v3.6h-3.6zM659.3 1229.6h3.6v3.6h-3.6zM658.4 1229.6h3.6v3.6h-3.6zM649.3 1225.5h3.6v3.6h-3.6zM642.4 1229.9h3.6v3.6h-3.6zM660.5 1230.1h3.6v3.6h-3.6zM658.9 1231.7h3.6v3.6h-3.6zM660.4 1221.1h3.6v3.6h-3.6zM660 1230h3.6v3.6h-3.6zM646.4 1225.7h3.6v3.6h-3.6zM655.2 1234.2h3.6v3.6h-3.6zM651.4 1229.4h3.6v3.6h-3.6zM649.5 1232.9h3.6v3.6h-3.6zM650 1232.9h3.6v3.6h-3.6zM656.4 1221.9h3.6v3.6h-3.6zM664.4 1219.4h3.6v3.6h-3.6zM651.5 1232h3.6v3.6h-3.6zM648.9 1219h3.6v3.6h-3.6zM719.3 1225.3h3.6v3.6h-3.6zM708.6 1232.2h3.6v3.6h-3.6zM697.5 1219h3.6v3.6h-3.6zM707.7 1228.2h3.6v3.6h-3.6zM685.5 1222.1h3.6v3.6h-3.6zM706.4 1231.1h3.6v3.6h-3.6zM718.1 1226.8h3.6v3.6h-3.6zM680 1230.9h3.6v3.6h-3.6zM718.8 1218.7h3.6v3.6h-3.6zM692.9 1226.7h3.6v3.6h-3.6zM696.4 1224h3.6v3.6h-3.6zM718.9 1219.6h3.6v3.6h-3.6zM713 1223.9h3.6v3.6h-3.6zM695.9 1228.7h3.6v3.6h-3.6zM720.6 1226.4h3.6v3.6h-3.6zM681.3 1226.6h3.6v3.6h-3.6zM707.3 1222h3.6v3.6h-3.6zM701.1 1225.3h3.6v3.6h-3.6zM716.7 1224.4h3.6v3.6h-3.6zM680.8 1231.1h3.6v3.6h-3.6zM693.3 1230.6h3.6v3.6h-3.6zM699.8 1224.3h3.6v3.6h-3.6zM683 1225.2h3.6v3.6h-3.6zM706.7 1222.2h3.6v3.6h-3.6zM715.1 1226.2h3.6v3.6h-3.6zM717.5 1219.9h3.6v3.6h-3.6zM686 1231.9h3.6v3.6h-3.6zM764.7 1213.9h3.6v3.6h-3.6zM730.3 1213.9h3.6v3.6h-3.6zM754.7 1213.9h3.6v3.6h-3.6zM810.1 1214h3.6v3.6h-3.6zM755.8 1213h3.6v3.6h-3.6zM762.3 1213.4h3.6v3.6h-3.6zM812.3 1213.5h3.6v3.6h-3.6zM796.1 1213.9h3.6v3.6h-3.6zM760.1 1213.1h3.6v3.6h-3.6zM743.5 1213.4h3.6v3.6h-3.6zM762.7 1213.2h3.6v3.6h-3.6zM761.2 1213.1h3.6v3.6h-3.6zM805.5 1213.7h3.6v3.6h-3.6zM775.3 1213.3h3.6v3.6h-3.6zM808 1213.7h3.6v3.6h-3.6zM813.2 1213.3h3.6v3.6h-3.6zM803.3 1214.1h3.6v3.6h-3.6zM764 1213.2h3.6v3.6h-3.6zM762.7 1214.1h3.6v3.6h-3.6zM776 1213.9h3.6v3.6h-3.6zM787.2 1213.2h3.6v3.6h-3.6zM801.6 1213.5h3.6v3.6h-3.6zM798.9 1213.5h3.6v3.6h-3.6zM756.1 1213.6h3.6v3.6h-3.6zM792 1213.9h3.6v3.6h-3.6zM761.4 1213h3.6v3.6h-3.6zM795.4 1213.2h3.6v3.6h-3.6zM730.6 1214h3.6v3.6h-3.6zM801.6 1213.1h3.6v3.6h-3.6zM788.8 1214.2h3.6v3.6h-3.6zM742 1213.5h3.6v3.6h-3.6zM750.8 1213.1h3.6v3.6h-3.6zM755.9 1214.1h3.6v3.6h-3.6zM773.1 1213.3h3.6v3.6h-3.6zM806.4 1214.4h3.6v3.6h-3.6zM811.9 1214.3h3.6v3.6h-3.6zM780.7 1214.2h3.6v3.6h-3.6zM738.8 1214.2h3.6v3.6h-3.6zM812.6 1213.1h3.6v3.6h-3.6zM811 1213h3.6v3.6h-3.6zM737 1213.6h3.6v3.6h-3.6zM741.9 1228.7h3.6v3.6h-3.6zM741.6 1218.3h3.6v3.6h-3.6zM746.9 1225.9h3.6v3.6h-3.6zM752.3 1220.2h3.6v3.6h-3.6zM752.4 1225.1h3.6v3.6h-3.6zM756.4 1225.2h3.6v3.6h-3.6zM749.2 1225.8h3.6v3.6h-3.6zM754.9 1223.8h3.6v3.6h-3.6zM732.6 1232.4h3.6v3.6h-3.6zM730.7 1226.5h3.6v3.6h-3.6zM742.8 1234.7h3.6v3.6h-3.6zM755.1 1224.3h3.6v3.6h-3.6zM740.9 1220.6h3.6v3.6h-3.6zM733.1 1224.5h3.6v3.6h-3.6zM733.6 1234h3.6v3.6h-3.6zM736.5 1224.6h3.6v3.6h-3.6zM754.5 1233.1h3.6v3.6h-3.6zM739.5 1230.8h3.6v3.6h-3.6zM754.4 1222.8h3.6v3.6h-3.6zM756.8 1221.5h3.6v3.6h-3.6zM752 1220.1h3.6v3.6h-3.6zM756.2 1226.3h3.6v3.6h-3.6zM737.2 1230.8h3.6v3.6h-3.6zM735.5 1223.4h3.6v3.6h-3.6zM736.9 1235.6h3.6v3.6h-3.6zM730.5 1218.3h3.6v3.6h-3.6zM756.4 1232.5h3.6v3.6h-3.6zM735.9 1221.1h3.6v3.6h-3.6zM747.9 1236.4h3.6v3.6h-3.6zM738.1 1219.8h3.6v3.6h-3.6zM745.3 1234.9h3.6v3.6h-3.6zM742.4 1225.4h3.6v3.6h-3.6zM750.5 1223.3h3.6v3.6h-3.6zM735.7 1218.8h3.6v3.6h-3.6zM738.2 1222h3.6v3.6h-3.6zM733.9 1225.1h3.6v3.6h-3.6zM739.2 1235.2h3.6v3.6h-3.6zM753.7 1235.8h3.6v3.6h-3.6zM757.4 1219.5h3.6v3.6h-3.6zM730.4 1228.3h3.6v3.6h-3.6zM754 1218.6h3.6v3.6h-3.6zM750.8 1219.9h3.6v3.6h-3.6zM732.2 1229.3h3.6v3.6h-3.6zM734.6 1227.7h3.6v3.6h-3.6zM754.6 1234.6h3.6v3.6h-3.6zM735.5 1234.6h3.6v3.6h-3.6zM755.8 1220.9h3.6v3.6h-3.6zM745.3 1229.7h3.6v3.6h-3.6zM758 1232.8h3.6v3.6h-3.6zM744.3 1232.2h3.6v3.6h-3.6zM733.7 1228.4h3.6v3.6h-3.6zM747.2 1227.4h3.6v3.6h-3.6zM742.6 1228.5h3.6v3.6h-3.6zM732 1225.6h3.6v3.6h-3.6zM753.2 1228.4h3.6v3.6h-3.6zM755.5 1234.4h3.6v3.6h-3.6zM757.4 1224.4h3.6v3.6h-3.6zM748.3 1226.1h3.6v3.6h-3.6zM746.6 1226.1h3.6v3.6h-3.6zM735.5 1233.9h3.6v3.6h-3.6zM757.4 1222.5h3.6v3.6h-3.6zM750.9 1226.1h3.6v3.6h-3.6zM749 1231.8h3.6v3.6h-3.6zM749.7 1225.2h3.6v3.6h-3.6zM753.9 1233.7h3.6v3.6h-3.6zM739.7 1227.9h3.6v3.6h-3.6zM733.2 1219.8h3.6v3.6h-3.6zM758.2 1224.7h3.6v3.6h-3.6zM730.9 1220.7h3.6v3.6h-3.6zM737.7 1226.1h3.6v3.6h-3.6zM744 1224.7h3.6v3.6h-3.6zM731.1 1224.2h3.6v3.6h-3.6zM738.8 1233.3h3.6v3.6h-3.6zM754.7 1234.5h3.6v3.6h-3.6zM747.8 1231.9h3.6v3.6h-3.6zM809.9 1223.8h3.6v3.6h-3.6zM812.3 1224h3.6v3.6h-3.6zM812.8 1225.1h3.6v3.6h-3.6zM798.4 1227.9h3.6v3.6h-3.6zM812.4 1218.9h3.6v3.6h-3.6zM798.1 1220.4h3.6v3.6h-3.6zM800.3 1218.1h3.6v3.6h-3.6zM810.3 1218.7h3.6v3.6h-3.6zM797.8 1220.1h3.6v3.6h-3.6zM813.7 1227.4h3.6v3.6h-3.6zM813.1 1221.3h3.6v3.6h-3.6zM795 1224.3h3.6v3.6h-3.6zM807.3 1221.3h3.6v3.6h-3.6zM813 1228.3h3.6v3.6h-3.6zM805.5 1220h3.6v3.6h-3.6zM805.4 1222.1h3.6v3.6h-3.6zM806.4 1221.8h3.6v3.6h-3.6zM770 1220.5h3.6v3.6h-3.6zM766.7 1219.3h3.6v3.6h-3.6z" fill="#2c2c2c"/>
<rect x="277" y="1199.5" width="543" height="2" fill="#505050"/>
<rect x="277" y="1201.5" width="543" height="11" fill="#d4d4d4"/>
<rect x="277" y="1204.5" width="543" height="5" fill="#e4e4e4"/>
<rect x="277" y="1212.5" width="543" height="2" fill="#3a3a3a"/>
<path d="M277,1108.3 L820,1108.3" stroke="#b462b6" stroke-width="3.2"/>
<text font-family="Liberation Sans, Arial, sans-serif" font-size="12" fill="#555" x="784" y="1103">3300</text>
<path d="M367,614 L367,1262" stroke="#262626" stroke-width="4.5"/>
<path d="M451,614 L451,1262 M551,614 L551,1262 M635,614 L635,1262 M727,614 L727,1262" stroke="#3a3a3a" stroke-width="4"/>
<path d="M277,614.5 L821,614.5" stroke="#a9a9a9" stroke-width="3"/>
<path d="M369.4,615 L369.4,623 M464.5,615 L464.5,623 M559.4,615 L559.4,623 M654.3,615 L654.3,623 M746.7,615 L746.7,623" stroke="#555" stroke-width="1.6"/>
<path d="M277.5,612 L277.5,1264" stroke="#8e8e8e" stroke-width="4"/>
<path d="M820,613 L820,1262" stroke="#7d7d7d" stroke-width="3"/>
<path d="M271,1261.5 L821.5,1261.5" stroke="#9a9a9a" stroke-width="3.2"/>
<path d="M814,1168.5 L820,1168.5 M814,1076 L820,1076 M814,983.6 L820,983.6 M814,891.1 L820,891.1 M814,798.6 L820,798.6 M814,706.1 L820,706.1" stroke="#444" stroke-width="2"/>
<path d="M269.5,1261 L277,1261 M269.5,1168.5 L277,1168.5 M269.5,1076 L277,1076 M269.5,983.6 L277,983.6 M269.5,891.1 L277,891.1 M269.5,798.6 L277,798.6 M269.5,706.1 L277,706.1 M269.5,613.6 L277,613.6" stroke="#555" stroke-width="2"/>
<path d="M276.4,1261 L276.4,1269 M369.4,1261 L369.4,1269 M464.5,1261 L464.5,1269 M559.4,1261 L559.4,1269 M654.3,1261 L654.3,1269 M746.7,1261 L746.7,1269" stroke="#666" stroke-width="2"/>
<text font-family="Liberation Sans, Arial, sans-serif" font-size="28" fill="#333" text-anchor="end" x="264" y="1268.5">0</text>
<text font-family="Liberation Sans, Arial, sans-serif" font-size="28" fill="#333" text-anchor="end" x="264" y="1176">2000</text>
<text font-family="Liberation Sans, Arial, sans-serif" font-size="28" fill="#333" text-anchor="end" x="264" y="1083.5">4000</text>
<text font-family="Liberation Sans, Arial, sans-serif" font-size="28" fill="#333" text-anchor="end" x="264" y="991.1">6000</text>
<text font-family="Liberation Sans, Arial, sans-serif" font-size="28" fill="#333" text-anchor="end" x="264" y="898.6">8000</text>
<text font-family="Liberation Sans, Arial, sans-serif" font-size="28" fill="#333" text-anchor="end" x="264" y="806.1">10,000</text>
<text font-family="Liberation Sans, Arial, sans-serif" font-size="28" fill="#333" text-anchor="end" x="264" y="713.6">12,000</text>
<text font-family="Liberation Sans, Arial, sans-serif" font-size="28" fill="#333" text-anchor="end" x="264" y="621.1">14,000</text>
<text font-family="Liberation Sans, Arial, sans-serif" font-size="29.5" fill="#333" text-anchor="middle" transform="translate(150.5,928) rotate(-90)">FAM Amplitude</text>
<text font-family="Liberation Sans, Arial, sans-serif" font-size="29" fill="#333" text-anchor="middle" x="322" y="1298">0.1%</text>
<text font-family="Liberation Sans, Arial, sans-serif" font-size="29" fill="#333" text-anchor="middle" x="406" y="1298">0.01%</text>
<text font-family="Liberation Sans, Arial, sans-serif" font-size="29" fill="#333" text-anchor="middle" x="501.6" y="1298">0.001%</text>
<text font-family="Liberation Sans, Arial, sans-serif" font-size="29" fill="#333" text-anchor="middle" x="598.5" y="1298">A</text>
<text font-family="Liberation Sans, Arial, sans-serif" font-size="29" fill="#333" text-anchor="middle" x="682.5" y="1298">B</text>
<text font-family="Liberation Sans, Arial, sans-serif" font-size="29" fill="#333" text-anchor="middle" x="781" y="1298">C</text>
<path d="M283,1315.6 L556.7,1315.6 M563.5,1315.6 L819,1315.6" stroke="#222" stroke-width="3.4"/>
<text font-family="Liberation Sans, Arial, sans-serif" font-size="29.1" fill="#333" text-anchor="middle"><tspan x="421" y="1345.7">HiPSCs spiked in</tspan><tspan x="421.3" y="1378.5">hCM Lot. A</tspan></text>
<text font-family="Liberation Sans, Arial, sans-serif" font-size="29.1" fill="#333" text-anchor="middle" x="686" y="1362">hCM 3Lots</text>
<text font-family="Liberation Sans, Arial, sans-serif" font-weight="bold" font-size="62.5" fill="#000" x="927.8" y="686" textLength="42.9" lengthAdjust="spacingAndGlyphs">C</text>
<text font-family="Liberation Sans, Arial, sans-serif" font-size="34.8" fill="#333" transform="translate(1016.5,1245) rotate(-90)"><tspan font-style="italic">LIN28</tspan> mRNA copies/ 50 ng of RNA</text>
<text font-family="Liberation Sans, Arial, sans-serif" font-size="34" fill="#333" text-anchor="end" x="1150" y="725.5">10,000</text>
<text font-family="Liberation Sans, Arial, sans-serif" font-size="34" fill="#333" text-anchor="end" x="1150" y="829.3">1 000</text>
<text font-family="Liberation Sans, Arial, sans-serif" font-size="34" fill="#333" text-anchor="end" x="1150" y="933.1">100</text>
<text font-family="Liberation Sans, Arial, sans-serif" font-size="34" fill="#333" text-anchor="end" x="1150" y="1036.9">10</text>
<text font-family="Liberation Sans, Arial, sans-serif" font-size="34" fill="#333" text-anchor="end" x="1150" y="1140.7">1</text>
<text font-family="Liberation Sans, Arial, sans-serif" font-size="34" fill="#333" text-anchor="end" x="1150" y="1244.5">0.1</text>
<path d="M1171.4,713 L1171.4,1234 M1169.5,1232 L2066.5,1232 M1163,713 L1171,713 M1163,816.8 L1171,816.8 M1163,920.6 L1171,920.6 M1163,1024.4 L1171,1024.4 M1163,1128.2 L1171,1128.2 M1163,1232 L1171,1232 M1171,1232 L1171,1241 M1321,1232 L1321,1241 M1469,1232 L1469,1241 M1617,1232 L1617,1241 M1766,1232 L1766,1241 M1915,1232 L1915,1241 M2065,1232 L2065,1241" stroke="#8c8c8c" stroke-width="3.6" fill="none"/>
<path d="M1173,1044.5 L2036,1044.5" stroke="#555" stroke-width="4" stroke-dasharray="15 14"/>
<rect x="1215" y="797" width="61" height="433.5" fill="#050203" stroke="#6b6b6b" stroke-width="1.2"/>
<rect x="1363" y="922" width="62" height="308.5" fill="#050203" stroke="#6b6b6b" stroke-width="1.2"/>
<rect x="1512.5" y="1013" width="62.5" height="217.5" fill="#050203" stroke="#6b6b6b" stroke-width="1.2"/>
<rect x="1663" y="1133" width="60.5" height="97.5" fill="#050203" stroke="#6b6b6b" stroke-width="1.2"/>
<rect x="1808.7" y="1130" width="64" height="100.5" fill="#050203" stroke="#6b6b6b" stroke-width="1.2"/>
<rect x="1958.7" y="1075" width="63" height="155.5" fill="#050203" stroke="#6b6b6b" stroke-width="1.2"/>
<path d="M1543.8,1013 L1543.8,1003 M1534.3,1003 L1553.3,1003 M1693.6,1133 L1693.6,1105 M1684.1,1105 L1703.1,1105 M1842,1130 L1842,1087 M1832.5,1087 L1851.5,1087 M1991.6,1075 L1991.6,1057 M1982.1,1057 L2001.1,1057" stroke="#0a0a0a" stroke-width="3.8" fill="none"/>
<text font-family="Liberation Sans, Arial, sans-serif" font-size="35" fill="#333" text-anchor="end" x="2047" y="1014.4">6.0 copies (LLOD)</text>
<text font-family="Liberation Sans, Arial, sans-serif" font-size="35" fill="#333" text-anchor="middle" x="1243" y="1276">0.1%</text>
<text font-family="Liberation Sans, Arial, sans-serif" font-size="35" fill="#333" text-anchor="middle" x="1394.5" y="1276">0.01%</text>
<text font-family="Liberation Sans, Arial, sans-serif" font-size="35" fill="#333" text-anchor="middle" x="1544" y="1276">0.001%</text>
<text font-family="Liberation Sans, Arial, sans-serif" font-size="35" fill="#333" text-anchor="middle" x="1693" y="1276">A</text>
<text font-family="Liberation Sans, Arial, sans-serif" font-size="35" fill="#333" text-anchor="middle" x="1842" y="1276">B</text>
<text font-family="Liberation Sans, Arial, sans-serif" font-size="35" fill="#333" text-anchor="middle" x="1993" y="1276">C</text>
<path d="M1170,1297.5 L1619,1297.5 M1628,1297.5 L2060,1297.5" stroke="#1e1e1e" stroke-width="3.6"/>
<text font-family="Liberation Sans, Arial, sans-serif" font-size="35" fill="#333" text-anchor="middle"><tspan x="1395" y="1336.8">HiPSCs spiked in</tspan><tspan x="1393.7" y="1374.2">hCM Lot. A</tspan></text>
<text font-family="Liberation Sans, Arial, sans-serif" font-size="34.5" fill="#333" text-anchor="middle" x="1844" y="1357">hCM 3Lots</text>
</svg>
</body></html>
